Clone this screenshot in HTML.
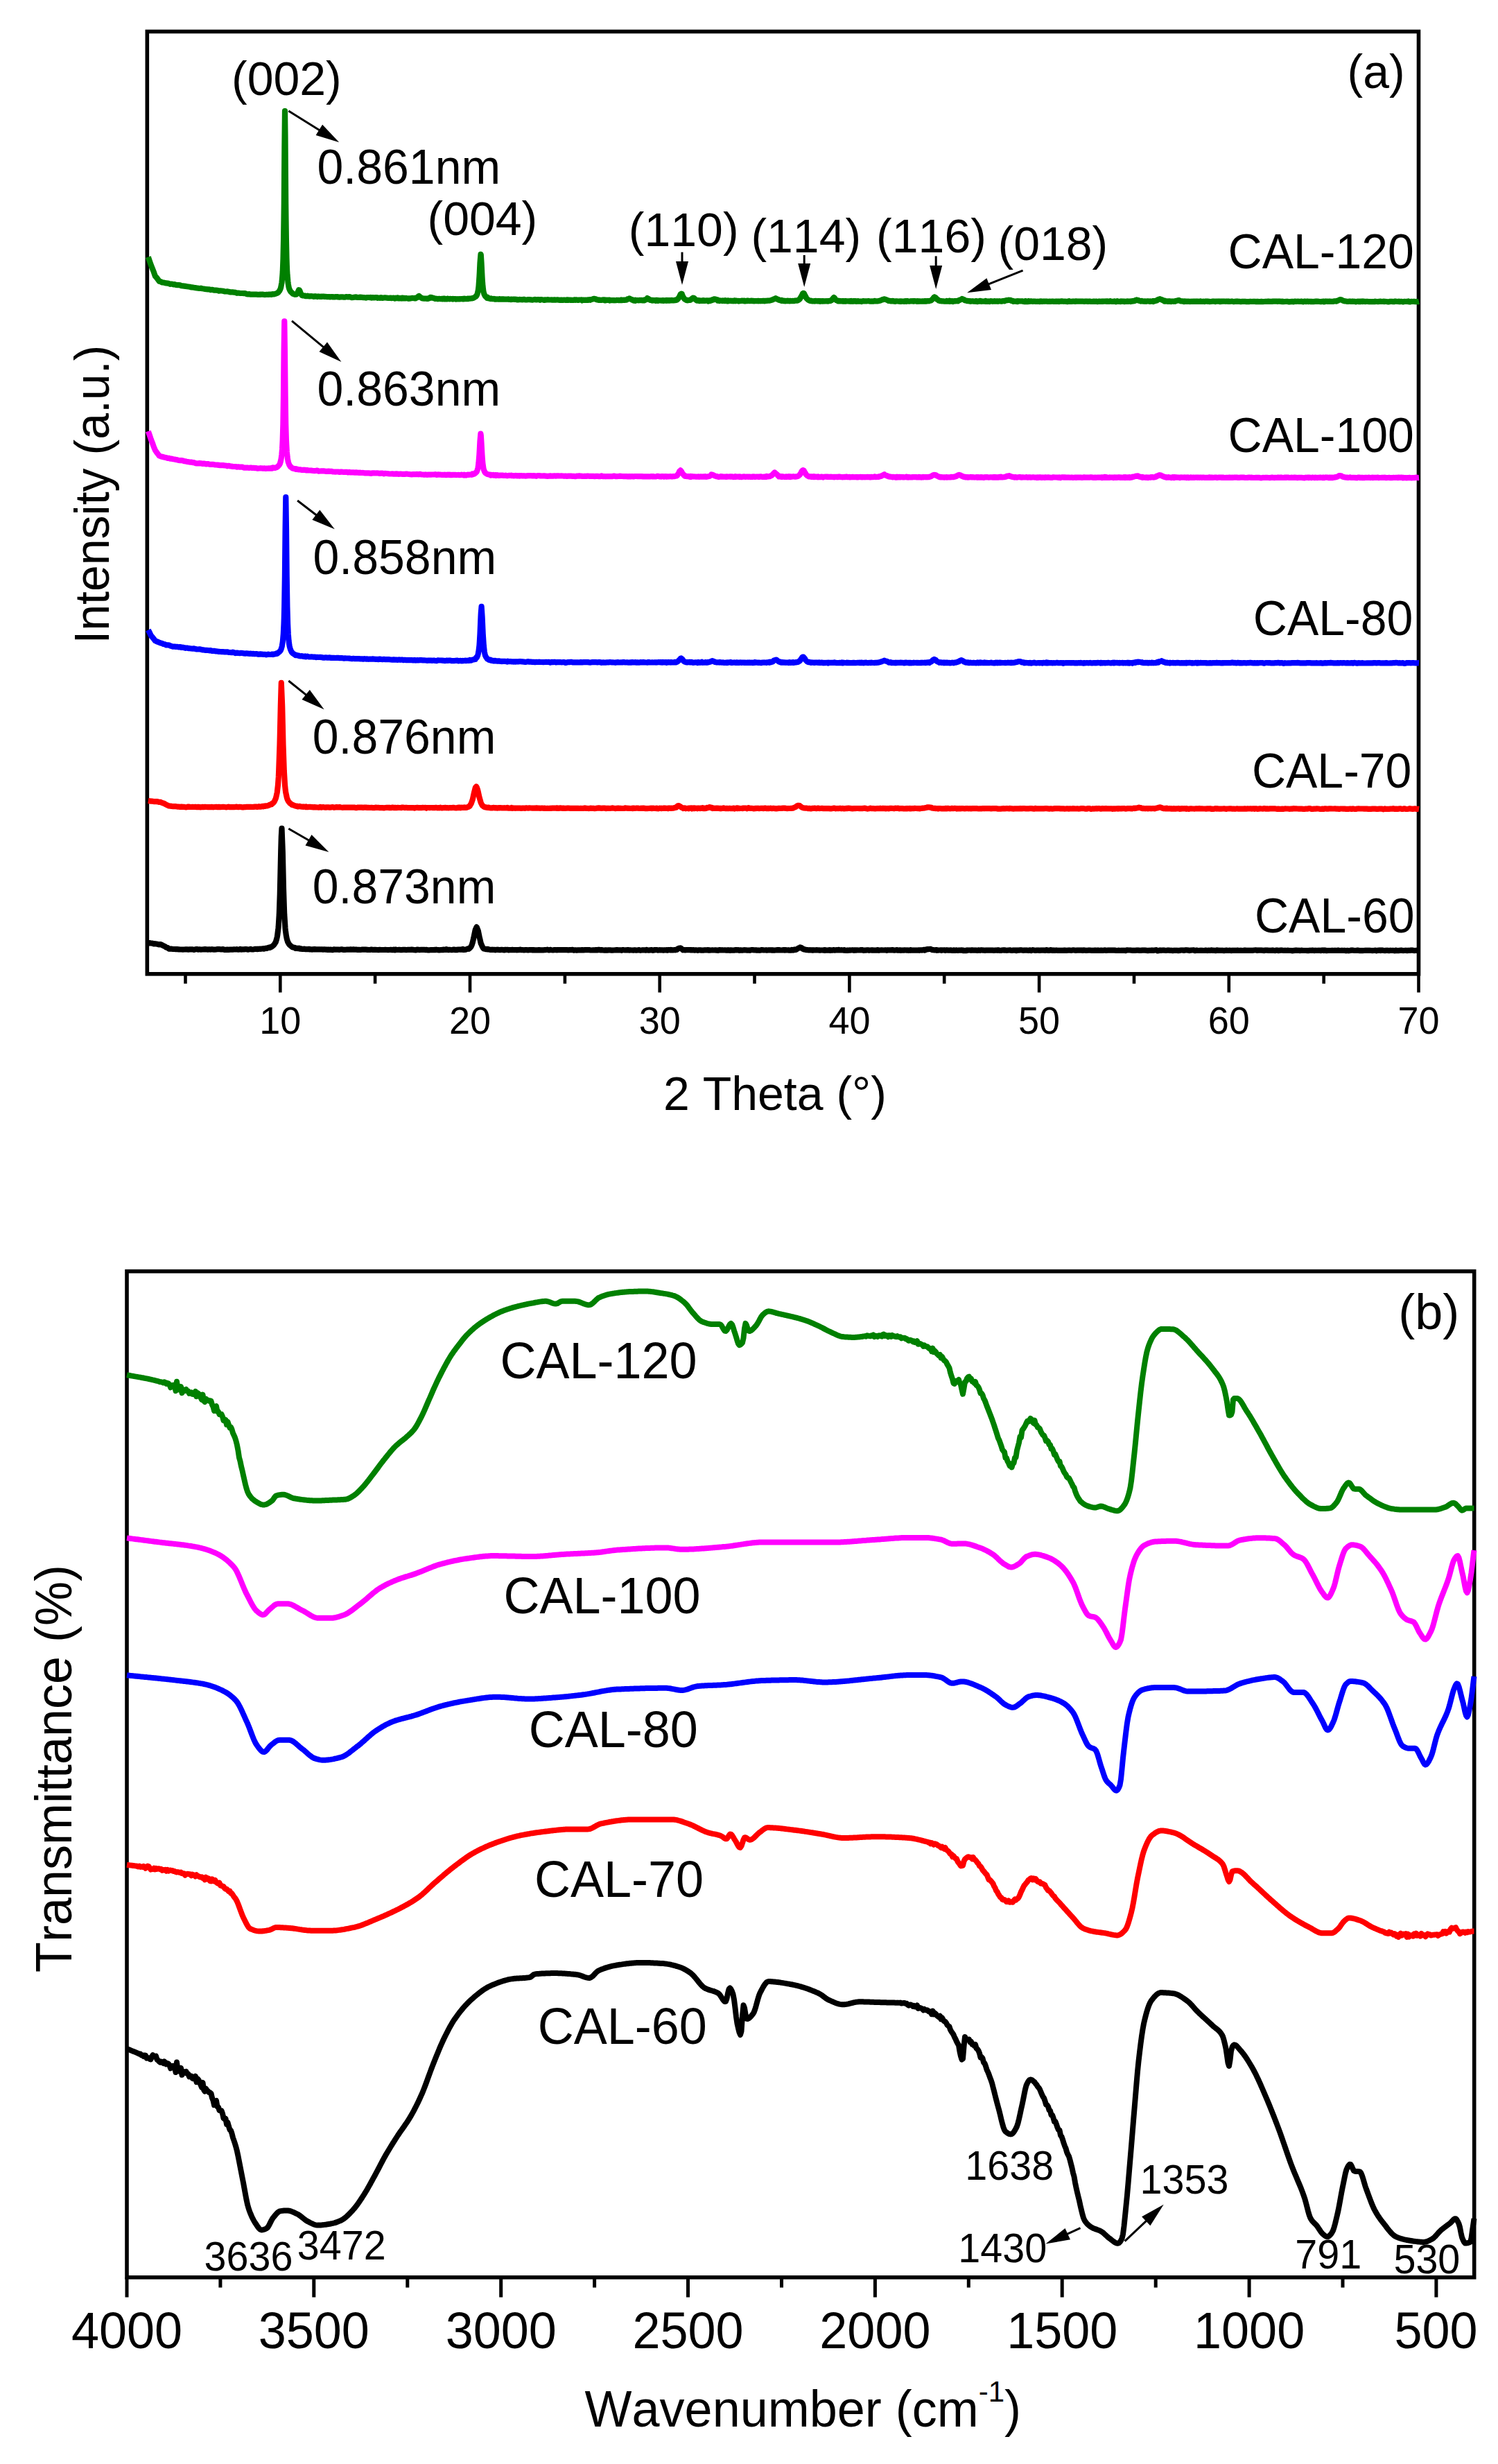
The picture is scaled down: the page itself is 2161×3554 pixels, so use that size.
<!DOCTYPE html>
<html lang="en">
<head>
<meta charset="utf-8">
<title>XRD patterns and FTIR spectra of CAL samples</title>
<style>
html,body{margin:0;padding:0;background:#fff;}
body{width:2161px;height:3554px;overflow:hidden;}
svg{display:block;}
svg text{font-family:"Liberation Sans", sans-serif;fill:#000;font-kerning:none;}
</style>
</head>
<body>
<svg width="2161" height="3554" viewBox="0 0 2161 3554">
<rect width="2161" height="3554" fill="#fff"/>
<g id="panel-a">
<rect x="212.3" y="45.5" width="1834.2" height="1359.3" fill="none" stroke="#000" stroke-width="5.6"/>
<path d="M213.8 1360.4 L215.8 1360.1 L217.8 1360.5 L219.8 1360.7 L221.8 1361.4 L223.8 1361.2 L225.8 1361.5 L227.8 1361.9 L229.8 1362.4 L231.8 1362 L233.8 1363.1 L235.8 1364.2 L237.8 1365 L239.8 1366.6 L241.8 1367 L243.8 1368.6 L245.8 1368.6 L247.8 1368.7 L249.8 1369 L251.8 1369 L253.8 1369.2 L255.8 1369.2 L257.8 1369.3 L259.8 1369.5 L261.8 1369.5 L263.8 1369.6 L265.8 1369.5 L267.8 1369.4 L269.8 1369.4 L271.8 1369.7 L273.8 1369.3 L275.8 1369.3 L277.8 1369.3 L279.8 1370 L281.8 1369.3 L283.8 1369 L285.8 1369.6 L287.8 1369.3 L289.8 1369.7 L291.8 1369.5 L293.8 1369.3 L295.8 1369.1 L297.8 1369.3 L299.8 1369.6 L301.8 1369.3 L303.8 1369.6 L305.8 1369.2 L307.8 1369.6 L309.8 1369.7 L311.8 1369.5 L313.8 1369.1 L315.8 1369 L317.8 1369.3 L319.8 1369.4 L321.8 1369.2 L323.8 1369.9 L325.8 1369.8 L327.8 1369.6 L329.8 1369.9 L331.8 1369.7 L333.8 1369.6 L335.8 1369.5 L336.5 1369.6 L337.8 1369.3 L339.8 1369.5 L341.5 1369.2 L341.8 1369.3 L343.8 1369.7 L345.8 1369.5 L346.5 1368.9 L347.8 1369.6 L349.8 1369.4 L351.5 1369.3 L351.8 1369.4 L353.8 1369.2 L355.8 1369 L356.5 1369.4 L357.8 1369.6 L359.8 1369.3 L361.5 1368.9 L361.8 1369.2 L363.8 1369.5 L365.8 1369.3 L366.5 1369.2 L367.8 1368.8 L369.8 1368.8 L371.5 1369.1 L371.8 1368.9 L372.8 1368.9 L373.8 1368.7 L375.2 1368.5 L375.8 1368.8 L376.5 1368.7 L377.8 1368.5 L379 1368.3 L379.8 1368.5 L380.2 1368.7 L381.5 1368.1 L381.8 1368 L382.8 1368.1 L383.8 1367.5 L385.2 1367.8 L385.8 1367.4 L386.5 1367.3 L387.8 1366.5 L389 1366.9 L389.8 1366.6 L390.2 1366.1 L391.5 1365.8 L391.8 1365.5 L392.8 1364.9 L393.8 1364.2 L395.2 1362.8 L395.8 1361.9 L396.5 1360.9 L397.8 1358.8 L399 1354.8 L399.8 1351.3 L400.2 1349.1 L401.5 1338.4 L401.8 1334.6 L402.8 1318.6 L403.8 1289.6 L405.2 1228.4 L405.8 1206.8 L406.5 1194.8 L407.8 1228.7 L409 1282.2 L409.8 1307 L410.2 1318.3 L411.5 1338.6 L411.8 1341.5 L412.8 1349 L413.8 1354.2 L415.2 1358.7 L415.8 1359.5 L416.5 1361.2 L417.8 1362.8 L419 1363.8 L419.8 1364.5 L420.2 1365.1 L421.5 1365.7 L421.8 1366.2 L422.8 1366.3 L423.8 1366.7 L425.2 1366.9 L425.8 1367 L426.5 1367.9 L427.8 1367.9 L429 1367.7 L429.8 1368.1 L430.2 1368.1 L431.5 1368.3 L431.8 1367.8 L432.8 1368.6 L433.8 1368.2 L435.2 1368.9 L435.8 1368.8 L436.5 1368.8 L437.8 1369 L439 1368.7 L439.8 1369 L440.2 1369.2 L441.5 1369 L441.8 1369.2 L443.8 1369.2 L445.8 1368.9 L446.5 1369.5 L447.8 1369.2 L449.8 1369.6 L451.5 1369.3 L451.8 1369.5 L453.8 1369.1 L455.8 1369.4 L456.5 1369.5 L457.8 1369.4 L459.8 1369.4 L461.5 1369.4 L461.8 1369.5 L463.8 1369.3 L465.8 1369.6 L466.5 1369.7 L467.8 1369.3 L469.8 1369.7 L471.5 1369.7 L471.8 1369.9 L473.8 1369.6 L475.8 1370 L476.5 1369.5 L477.8 1369.7 L479.8 1370.2 L481.8 1369.4 L483.8 1369.7 L485.8 1369.7 L487.8 1369.6 L489.8 1369.8 L491.8 1369.4 L493.8 1369.4 L495.8 1369.9 L497.8 1369.8 L499.8 1369.7 L501.8 1369.5 L503.8 1369.7 L505.8 1369.4 L507.8 1369.7 L509.8 1369.4 L511.8 1369.7 L513.8 1369.5 L515.8 1369.9 L517.8 1369.8 L519.8 1370 L521.8 1369.7 L523.8 1369.6 L525.8 1369.7 L527.8 1369.7 L529.8 1369.8 L531.8 1370 L533.8 1370 L535.8 1369.6 L537.8 1370 L539.8 1369.9 L541.8 1369.9 L543.8 1370 L545.8 1370.1 L547.8 1369.9 L549.8 1370 L551.8 1370 L553.8 1370 L555.8 1369.9 L557.8 1370 L559.8 1370.1 L561.6 1370 L563.8 1369.8 L565.8 1370.2 L567.8 1369.7 L569.8 1370.3 L570.6 1369.6 L571.8 1369.9 L573.8 1370 L575.8 1369.8 L577.8 1370.1 L579.6 1370.1 L581.8 1369.8 L583.8 1369.8 L585.8 1370.1 L587.8 1369.9 L588.6 1369.8 L589.8 1369.9 L591.8 1369.8 L593.8 1369.7 L595.8 1369.9 L597.6 1370.2 L599.8 1370.4 L601.8 1369.7 L603.8 1369.8 L605.8 1370.2 L606.6 1369.8 L607.8 1369.8 L609.8 1369.9 L611.8 1369.8 L613.8 1370.1 L615.6 1369.9 L617.8 1370.4 L619.8 1370.3 L621.8 1370 L623.8 1370.1 L624.6 1370.2 L625.8 1370.2 L626.9 1369.9 L627.8 1370.2 L629.1 1369.6 L629.8 1370 L631.4 1370.1 L631.8 1370.1 L633.6 1370.4 L635.8 1370.2 L637.8 1370.1 L638.1 1369.8 L639.8 1370.1 L640.4 1369.7 L641.8 1370 L642.6 1369.9 L643.8 1369.2 L644.9 1369.8 L645.8 1369.6 L647.1 1370.2 L647.8 1369.9 L649.4 1369.9 L649.8 1370 L651.6 1370.2 L653.8 1369.7 L655.8 1369.7 L656.1 1370.1 L657.8 1370 L658.4 1369.9 L659.8 1370.1 L660.6 1369.7 L661.8 1369.7 L662.9 1369.6 L663.8 1369.5 L665.1 1369.8 L665.8 1369.7 L667.4 1369 L667.8 1369.8 L669.6 1369.9 L671.8 1369.7 L673.8 1369 L674.1 1368.8 L675.8 1368.3 L676.4 1368.7 L677.8 1367.5 L678.6 1366.5 L679.8 1365.1 L680.9 1362.3 L681.8 1359.3 L683.1 1353.7 L683.8 1350.2 L685.4 1342.5 L685.8 1340.9 L687.6 1337.1 L689.8 1342.6 L691.8 1352.6 L692.1 1353.5 L693.8 1361 L694.4 1361.9 L695.8 1365.4 L696.6 1366.9 L697.8 1368.3 L698.9 1368.4 L699.8 1368.8 L701.1 1369.2 L701.8 1368.9 L703.4 1369.4 L703.8 1369 L705.6 1369.5 L707.8 1370 L709.8 1369.7 L710.1 1369.8 L711.8 1369.9 L712.4 1370 L713.8 1369.9 L714.6 1370.3 L715.8 1369.8 L716.9 1369.9 L717.8 1369.7 L719.1 1369.9 L719.8 1370.1 L721.4 1370 L721.8 1370.1 L723.6 1369.8 L725.8 1370.1 L727.8 1370.4 L728.1 1369.8 L729.8 1369.8 L730.4 1370 L731.8 1369.9 L732.6 1369.9 L733.8 1370.3 L734.9 1370.2 L735.8 1370.1 L737.1 1370.1 L737.8 1370.2 L739.4 1369.8 L739.8 1370.1 L741.6 1370.1 L743.8 1370.1 L745.8 1370.2 L746.1 1370.3 L747.8 1370.1 L748.4 1370.1 L749.8 1369.9 L750.6 1369.7 L751.8 1370.1 L753.8 1370.2 L755.8 1370.3 L757.8 1370.1 L759.6 1370.2 L761.8 1370.4 L763.8 1370 L765.8 1370.1 L767.8 1370.1 L768.6 1370.5 L769.8 1370.2 L771.8 1370.3 L773.8 1370.4 L775.8 1370.4 L777.6 1370.1 L779.8 1370.3 L781.8 1370.3 L783.8 1370.3 L785.8 1370.2 L786.6 1370.2 L787.8 1370 L789.8 1369.7 L791.8 1370.5 L793.8 1369.9 L795.6 1370.2 L797.8 1370.5 L799.8 1370.1 L801.8 1370.2 L803.8 1370.3 L804.6 1370.1 L805.8 1370.1 L807.8 1370.2 L809.8 1370.2 L811.8 1370.2 L813.6 1370.1 L815.8 1370.2 L817.8 1370.1 L819.8 1370.3 L821.8 1370.1 L823.8 1370.2 L825.8 1369.9 L827.8 1370.6 L829.8 1370.3 L831.8 1370.6 L833.8 1370.4 L835.8 1370.4 L837.8 1370.3 L839.8 1370.2 L841.8 1370.3 L843.8 1370.1 L845.8 1370.2 L847.8 1370.1 L849.8 1370.1 L851.8 1370.5 L853.8 1370.5 L855.8 1370.3 L857.8 1370.3 L859.8 1370.1 L861.8 1370.4 L863.8 1369.8 L865.8 1370.3 L867.8 1370.1 L869.8 1370.5 L871.8 1370.6 L873.8 1370.4 L875.8 1370.6 L877.8 1370.4 L879.8 1370.3 L881.8 1370.6 L883.8 1370.6 L885.8 1370.5 L887.8 1370.3 L889.8 1370.1 L891.8 1370.4 L893.8 1370.3 L895.8 1370.3 L896.8 1370.8 L897.8 1370.2 L899.8 1370.2 L901.8 1370.5 L902.8 1370.4 L903.8 1370.4 L905.8 1370.1 L907.8 1370.6 L908.8 1370.3 L909.8 1370.4 L911.8 1370.5 L913.8 1370.7 L914.8 1370.3 L915.8 1370.3 L917.8 1370.7 L919.8 1370.5 L920.8 1370.5 L921.8 1370 L923.8 1370.8 L925.8 1370.5 L926.8 1370.3 L927.8 1370.4 L929.8 1370.3 L931.8 1370.7 L932.8 1370 L933.8 1370.5 L935.8 1370.6 L937.8 1370.4 L938.8 1370.3 L939.8 1370.1 L940.3 1370.1 L941.8 1370.9 L943.3 1370.5 L943.8 1370.2 L944.8 1370.3 L945.8 1370.1 L946.3 1370.2 L947.8 1370.1 L949.3 1370.6 L949.8 1370.5 L950.8 1370.4 L951.8 1370.2 L952.3 1370.3 L953.8 1370.3 L955.3 1370.4 L955.8 1370.3 L956.8 1370.7 L957.8 1370.4 L958.3 1370.3 L959.8 1370.4 L961.3 1370.2 L961.8 1370.5 L962.8 1370.7 L963.8 1370.1 L964.3 1370.2 L965.8 1370.2 L967.3 1370.4 L967.8 1370 L968.8 1370.4 L969.8 1370.2 L970.3 1370.4 L971.8 1370.3 L973.3 1370.1 L973.8 1370.3 L974.8 1370 L975.8 1369.7 L976.3 1369.9 L977.8 1368.5 L979.3 1367.9 L979.8 1367.6 L980.8 1367.7 L981.8 1367.4 L982.3 1367.7 L983.8 1369 L985.3 1370.3 L985.8 1370.1 L986.8 1370.2 L987.8 1370.3 L988.3 1370.5 L989.8 1370.1 L991.3 1370 L991.8 1370 L992.8 1370.1 L993.8 1370.2 L994.3 1370 L995.8 1370.3 L997.3 1370 L997.8 1370.5 L998.8 1370.5 L999.8 1370.2 L1000.3 1370.2 L1001.8 1370.6 L1003.3 1370.4 L1003.8 1370.5 L1004.8 1370.4 L1005.8 1370.6 L1006.3 1370.8 L1007.8 1370.3 L1009.3 1370.5 L1009.8 1370.3 L1010.8 1370.4 L1011.8 1370.7 L1012.3 1370.7 L1013.8 1370.6 L1015.3 1370.6 L1015.8 1370.3 L1016.8 1370.4 L1017.8 1370.3 L1018.3 1370.5 L1019.8 1370.3 L1021.3 1370.2 L1021.8 1370.6 L1022.8 1370.3 L1023.8 1370.6 L1025.8 1370.5 L1027.8 1370.4 L1028.8 1370.5 L1029.8 1370.5 L1031.8 1370.4 L1033.8 1370.7 L1034.8 1370.5 L1035.8 1370.9 L1037.8 1370.2 L1039.8 1370.3 L1040.8 1370.3 L1041.8 1370.5 L1042.3 1370.4 L1043.8 1370.5 L1045.8 1370.4 L1046.8 1370.5 L1047.8 1370.7 L1049.8 1370.4 L1050.3 1370.6 L1051.8 1370.4 L1052.8 1370.9 L1053.8 1370.3 L1055.8 1370.6 L1057.8 1370.5 L1058.3 1370.6 L1058.8 1370.7 L1059.8 1370.4 L1061.8 1370.1 L1063.8 1370.4 L1064.8 1370.1 L1065.8 1370.5 L1066.3 1370.8 L1067.8 1370.3 L1069.8 1370.6 L1071.8 1370.6 L1073.8 1370.2 L1074.3 1370.4 L1075.8 1370.3 L1077.8 1370.7 L1079.8 1370.5 L1081.8 1370.8 L1082.3 1370.5 L1083.8 1370.2 L1085.8 1370.2 L1087.8 1370.3 L1089.8 1370.5 L1090.3 1370.3 L1091.8 1370.7 L1093.8 1370.5 L1095.8 1370.8 L1097.8 1370.4 L1098.3 1370.1 L1099.8 1370.2 L1100.3 1370.3 L1101.8 1370.4 L1102.3 1370.5 L1103.8 1370.5 L1104.3 1370.4 L1105.8 1370.4 L1106.3 1370.6 L1107.8 1370.5 L1108.3 1370.4 L1109.8 1370.3 L1110.3 1370.5 L1111.8 1370.3 L1112.3 1370.4 L1113.8 1370.6 L1114.3 1370.4 L1115.8 1370.6 L1116.3 1370.7 L1117.8 1370.6 L1118.3 1370.5 L1119.8 1370.4 L1120.3 1370.4 L1121.8 1370.5 L1122.3 1370 L1123.8 1370.4 L1124.3 1370.1 L1125.8 1370.5 L1126.3 1370.5 L1127.8 1370.5 L1128.3 1370.5 L1129.8 1370.2 L1130.3 1370.3 L1131.8 1370.1 L1132.3 1370.6 L1133.8 1370.2 L1134.3 1370.5 L1135.8 1370.5 L1136.3 1370.4 L1137.8 1370.4 L1138.3 1370.6 L1139.8 1370.5 L1140.3 1370.5 L1141.8 1370.6 L1142.3 1369.9 L1143.8 1370.6 L1144.3 1370.1 L1145.8 1369.6 L1146.3 1370 L1147.8 1369.5 L1148.3 1369.8 L1149.8 1368.8 L1150.3 1368.6 L1151.8 1367.7 L1152.3 1367.3 L1153.8 1366.8 L1154.3 1366.3 L1155.8 1366.8 L1156.3 1367 L1157.8 1368.5 L1158.3 1368.8 L1159.8 1369.4 L1160.3 1369.2 L1161.8 1370 L1162.3 1369.9 L1163.8 1370.1 L1164.3 1370 L1165.8 1370.3 L1166.3 1370.3 L1167.8 1370.3 L1168.3 1370.2 L1169.8 1370.5 L1170.3 1370.4 L1171.8 1370.4 L1172.3 1370.7 L1173.8 1370.3 L1174.3 1370.4 L1175.8 1370.5 L1176.3 1370.3 L1177.8 1370.4 L1178.3 1370.1 L1179.8 1370.5 L1180.3 1370.5 L1181.8 1370.4 L1182.3 1370.7 L1183.8 1370.6 L1184.3 1370.5 L1185.8 1370.5 L1186.3 1370.5 L1187.8 1370.6 L1188.3 1370.4 L1189.8 1370.8 L1190.3 1370.2 L1191.8 1370.5 L1192.3 1370.6 L1193.8 1370.5 L1194.3 1370.6 L1195.8 1370.4 L1196.3 1370.1 L1197.8 1370.9 L1198.3 1370.4 L1199.8 1370.6 L1200.3 1370.7 L1201.8 1370.4 L1202.3 1370 L1203.8 1370.4 L1204.3 1370.6 L1205.8 1370.5 L1206.3 1370.2 L1207.8 1370.5 L1208.3 1370.5 L1209.8 1370 L1210.3 1370.5 L1211.8 1370.5 L1213.8 1370.2 L1214 1370.2 L1215.8 1370.5 L1217.8 1370.8 L1218.3 1370.2 L1219.8 1370.8 L1221.8 1370.9 L1223 1370.5 L1223.8 1370.8 L1225.8 1370.4 L1226.3 1370.6 L1227.8 1370.5 L1229.8 1370.3 L1231.8 1370.8 L1232 1370.6 L1233.8 1370.3 L1234.3 1370.7 L1235.8 1370.4 L1237.8 1370.5 L1239.8 1370.5 L1241 1370.5 L1241.8 1370.2 L1242.3 1370.3 L1243.8 1370.2 L1245.8 1370.9 L1247.8 1370.5 L1249.8 1370.6 L1250 1370.5 L1250.3 1370.4 L1251.8 1370.3 L1253.8 1370.8 L1255.8 1370.5 L1257.8 1370.3 L1258.3 1370.7 L1259 1370.4 L1259.8 1370.7 L1261.8 1370.5 L1263.8 1370.7 L1265.8 1370.1 L1266.3 1370.5 L1267.8 1370.8 L1268 1370.6 L1269.8 1370.5 L1271.8 1370.4 L1273.8 1370.5 L1275.8 1370.5 L1277 1370.4 L1277.8 1370.4 L1279.2 1370.8 L1279.8 1370.3 L1281.5 1370.3 L1281.8 1370.5 L1283.8 1370.4 L1285.8 1370.5 L1286 1370.4 L1287.8 1370.1 L1288.2 1370.5 L1289.8 1370.6 L1290.5 1370.6 L1291.8 1370.5 L1292.8 1370.4 L1293.8 1370.1 L1295 1370.6 L1295.8 1370.6 L1297.2 1370.5 L1297.8 1370.3 L1299.5 1370.8 L1299.8 1370.6 L1301.8 1370.7 L1303.8 1370.7 L1304 1370.7 L1305.8 1370.3 L1306.2 1370.5 L1307.8 1370.6 L1308.5 1370.4 L1309.8 1370.7 L1310.8 1370.8 L1311.8 1370.6 L1313 1370.8 L1313.8 1370.2 L1315.2 1370.6 L1315.8 1370.5 L1317.5 1370.7 L1317.8 1370.6 L1319.8 1370.5 L1321.8 1370.6 L1322 1370.7 L1323.8 1370.6 L1324.2 1370.5 L1325.8 1370.4 L1326.5 1370.9 L1327.8 1370.3 L1328.8 1370.4 L1329.8 1370.6 L1331 1370.2 L1331.8 1370.1 L1333.2 1369.9 L1333.8 1370.6 L1335.5 1369.7 L1335.8 1369.8 L1337.8 1369.1 L1339.8 1369.1 L1340 1369 L1341.8 1368.9 L1342.2 1368.8 L1343.8 1369.5 L1344.5 1369.9 L1345.8 1370.2 L1346.8 1370 L1347.8 1370.4 L1349 1370.4 L1349.8 1370.2 L1351.2 1370.2 L1351.8 1370.8 L1353.5 1370.6 L1353.8 1370.5 L1355.8 1370.5 L1357.8 1370.3 L1358 1370.9 L1359.8 1370.3 L1360.2 1370.5 L1361.8 1370.4 L1362.5 1370.3 L1363.8 1370.8 L1364.8 1370.5 L1365.8 1370.3 L1367 1370.5 L1367.8 1370.7 L1369.2 1370.7 L1369.8 1370.5 L1371.5 1370.7 L1371.8 1370.4 L1373.8 1370.9 L1375.8 1370.7 L1376 1370.4 L1377.8 1371 L1378.2 1370.9 L1379.8 1370.4 L1380.5 1370.7 L1381.8 1370.9 L1382.8 1370.5 L1383.8 1370.5 L1385 1370.7 L1385.8 1370.7 L1387.2 1370.4 L1387.8 1370.5 L1389.5 1371.1 L1389.8 1370.7 L1391.8 1371.2 L1393.8 1371.1 L1394 1370.5 L1395.8 1370.7 L1396.2 1370.6 L1397.8 1370.5 L1398.5 1370.5 L1399.8 1370.6 L1400.8 1370.8 L1401.8 1370.4 L1403 1370.7 L1403.8 1370.5 L1405.8 1370.7 L1407.8 1370.7 L1409.8 1370.9 L1411.8 1370.6 L1412 1370.4 L1413.8 1370.9 L1415.8 1370.3 L1417.8 1370.6 L1419.8 1370.7 L1421 1370.9 L1421.8 1370.6 L1423.8 1370.7 L1425.8 1370.5 L1427.8 1370.6 L1429.8 1370.7 L1430 1370.7 L1431.8 1370.6 L1433.8 1370.8 L1435.8 1370.7 L1437.8 1370.6 L1439 1370.8 L1439.8 1370.3 L1441.8 1370.8 L1443.8 1371 L1445.8 1370.5 L1447.8 1370.3 L1448 1370.6 L1449.8 1370.4 L1451.8 1370.8 L1453.8 1370.7 L1455.8 1370.5 L1457 1370.4 L1457.8 1370.7 L1459.8 1371 L1461.8 1370.6 L1463.8 1370.6 L1465.8 1371.1 L1466 1370.5 L1467.8 1370.6 L1469.8 1370.6 L1471.8 1370.4 L1473.8 1370.4 L1475.8 1370.8 L1477.8 1370.6 L1479.8 1370.5 L1481.8 1370.7 L1483.8 1371 L1485.8 1370.4 L1487.8 1371.1 L1489.8 1370.2 L1491.8 1370.6 L1493.8 1370.8 L1495.8 1370.6 L1497.8 1370.6 L1499.8 1370.9 L1501.8 1370.6 L1503.8 1370.7 L1505.8 1370.6 L1507.8 1370.9 L1509.8 1370.2 L1511.8 1370.8 L1513.8 1370.8 L1515.8 1370.2 L1517.8 1370.8 L1519.8 1370.6 L1521.8 1370.9 L1523.8 1370.5 L1525.8 1370.9 L1527.8 1370.8 L1529.8 1370.9 L1531.8 1370.9 L1533.8 1370.9 L1535.8 1370.6 L1537.8 1370.8 L1539.8 1370.8 L1541.8 1370.5 L1543.8 1370.7 L1545.8 1370.8 L1547.8 1370.4 L1549.8 1370.5 L1551.8 1370.9 L1553.8 1370.7 L1555.8 1370.7 L1557.8 1370.6 L1559.8 1370.6 L1561.8 1371 L1563.8 1370.4 L1565.8 1370.8 L1567.8 1370.8 L1569.8 1370.7 L1571.8 1370.5 L1573.8 1370.8 L1575.8 1370.9 L1577.8 1370.8 L1579.8 1370.6 L1581.8 1370.8 L1583.8 1370.6 L1585.8 1371 L1587.8 1370.7 L1589.8 1370.9 L1591.8 1370.8 L1593.8 1370.4 L1595.8 1371 L1597.8 1370.7 L1599.8 1370.6 L1601.8 1370.5 L1603.8 1370.6 L1605.8 1370.5 L1607.8 1370.7 L1609.8 1370.9 L1611.8 1371 L1613.8 1370.7 L1615.8 1371 L1617.8 1370.8 L1619.8 1370.8 L1621.8 1370.8 L1623.8 1371.1 L1625.8 1370.4 L1627.8 1370.5 L1629.8 1370.5 L1631.8 1370.7 L1633.8 1370.8 L1635.8 1370.8 L1637.8 1370.8 L1639.8 1370.7 L1641.8 1370.6 L1643.8 1370.8 L1645.8 1370.9 L1647.8 1370.7 L1649.8 1370.5 L1651.8 1370.7 L1653.8 1370.9 L1655.8 1371.1 L1657.8 1370.9 L1659.8 1370.9 L1661.8 1370.7 L1663.8 1370.9 L1665.8 1370.5 L1667.8 1370.2 L1669.8 1371.3 L1671.8 1371.1 L1673.8 1370.6 L1675.8 1370.8 L1677.8 1370.5 L1679.8 1370.7 L1681.8 1371 L1683.8 1370.7 L1685.8 1370.7 L1687.8 1370.9 L1689.8 1370.8 L1691.8 1371.2 L1693.8 1370.8 L1695.8 1370.9 L1697.8 1370.9 L1699.8 1371.1 L1701.8 1370.9 L1703.8 1370.5 L1705.8 1370.5 L1707.8 1370.9 L1709.8 1370.4 L1711.8 1370.4 L1713.8 1370.6 L1715.8 1371.1 L1717.8 1370.7 L1719.8 1370.5 L1721.8 1370.4 L1723.8 1371.2 L1725.8 1370.7 L1727.8 1370.9 L1729.8 1371 L1731.8 1370.8 L1733.8 1370.9 L1735.8 1371 L1737.8 1370.9 L1739.8 1370.7 L1741.8 1371.1 L1743.8 1370.7 L1745.8 1371 L1747.8 1370.4 L1749.8 1370.9 L1751.8 1370.9 L1753.8 1371.1 L1755.8 1370.4 L1757.8 1370.9 L1759.8 1370.9 L1761.8 1370.8 L1763.8 1370.9 L1765.8 1371.2 L1767.8 1370.8 L1769.8 1370.7 L1771.8 1371 L1773.8 1370.7 L1775.8 1371.1 L1777.8 1370.9 L1779.8 1370.9 L1781.8 1370.9 L1783.8 1370.8 L1785.8 1370.7 L1787.8 1371 L1789.8 1370.8 L1791.8 1371 L1793.8 1370.9 L1795.8 1370.7 L1797.8 1370.9 L1799.8 1370.9 L1801.8 1370.9 L1803.8 1370.9 L1805.8 1370.9 L1807.8 1370.8 L1809.8 1370.5 L1811.8 1370.4 L1813.8 1371 L1815.8 1370.6 L1817.8 1370.6 L1819.8 1370.7 L1821.8 1370.8 L1823.8 1371.1 L1825.8 1370.6 L1827.8 1370.6 L1829.8 1370.9 L1831.8 1370.8 L1833.8 1370.8 L1835.8 1370.6 L1837.8 1371 L1839.8 1371.1 L1841.8 1370.6 L1843.8 1371.1 L1845.8 1370.9 L1847.8 1370.7 L1849.8 1370.7 L1851.8 1371 L1853.8 1370.8 L1855.8 1371 L1857.8 1370.7 L1859.8 1371 L1861.8 1371 L1863.8 1371.3 L1865.8 1371.1 L1867.8 1370.9 L1869.8 1370.7 L1871.8 1370.8 L1873.8 1370.9 L1875.8 1371.1 L1877.8 1370.7 L1879.8 1371 L1881.8 1371 L1883.8 1371 L1885.8 1371.1 L1887.8 1371.1 L1889.8 1370.8 L1891.8 1370.8 L1893.8 1370.7 L1895.8 1371.1 L1897.8 1370.8 L1899.8 1371 L1901.8 1370.8 L1903.8 1370.9 L1905.8 1371.1 L1907.8 1370.6 L1909.8 1371.1 L1911.8 1370.6 L1913.8 1371.2 L1915.8 1371 L1917.8 1371 L1919.8 1371 L1921.8 1370.9 L1923.8 1371 L1925.8 1370.8 L1927.8 1371 L1929.8 1370.7 L1931.8 1370.9 L1933.8 1371 L1935.8 1370.9 L1937.8 1371 L1939.8 1370.9 L1941.8 1371.3 L1943.8 1370.9 L1945.8 1371.3 L1947.8 1371 L1949.8 1370.5 L1951.8 1370.7 L1953.8 1371 L1955.8 1371 L1957.8 1370.7 L1959.8 1370.9 L1961.8 1371.2 L1963.8 1371.1 L1965.8 1371.1 L1967.8 1371 L1969.8 1370.8 L1971.8 1370.9 L1973.8 1370.9 L1975.8 1370.8 L1977.8 1371 L1979.8 1371.1 L1981.8 1371 L1983.8 1370.7 L1985.8 1371.3 L1987.8 1370.8 L1989.8 1370.6 L1991.8 1371.1 L1993.8 1370.6 L1995.8 1371 L1997.8 1371.1 L1999.8 1370.9 L2001.8 1370.9 L2003.8 1371.2 L2005.8 1370.8 L2007.8 1371 L2009.8 1370.9 L2011.8 1371.3 L2013.8 1370.7 L2015.8 1371.2 L2017.8 1371.1 L2019.8 1370.8 L2021.8 1370.7 L2023.8 1371.1 L2025.8 1371 L2027.8 1370.8 L2029.8 1371.1 L2031.8 1370.9 L2033.8 1371 L2035.8 1370.5 L2037.8 1370.7 L2039.8 1371.1 L2041.8 1371 L2043.8 1370.8 L2045.8 1370.8 L2047 1371" fill="none" stroke="#000000" stroke-width="8.2" stroke-linejoin="round" stroke-linecap="butt"/>
<path d="M213.8 1155 L215.8 1155.3 L217.8 1155.7 L219.8 1155.7 L221.8 1156.1 L223.8 1156.1 L225.8 1156.1 L227.8 1156.4 L229.8 1157 L231.8 1156.9 L233.8 1158.1 L235.8 1158.5 L237.8 1159.5 L239.8 1160.6 L241.8 1161.6 L243.8 1162.5 L245.8 1162.6 L247.8 1162.9 L249.8 1163.1 L251.8 1163.2 L253.8 1163.2 L255.8 1163.6 L257.8 1163.5 L259.8 1163.9 L261.8 1163.7 L263.8 1163.9 L265.8 1163.9 L267.8 1164.3 L269.8 1164.1 L271.8 1163.6 L273.8 1163.9 L275.8 1164 L277.8 1163.9 L279.8 1164 L281.8 1163.8 L283.8 1164.2 L285.8 1163.9 L287.8 1164.1 L289.8 1164.3 L291.8 1163.9 L293.8 1164.1 L295.8 1163.9 L297.8 1164 L299.8 1164.1 L301.8 1164 L303.8 1164.2 L305.8 1163.9 L307.8 1164.3 L309.8 1164 L311.8 1163.9 L313.8 1164.1 L315.8 1163.9 L317.8 1164.2 L319.8 1164 L321.8 1163.8 L323.8 1164 L325.8 1164.3 L327.8 1164.1 L329.8 1163.7 L331.8 1164.2 L333.8 1164.1 L335.8 1164.2 L337.8 1164.1 L339.8 1164 L341 1163.6 L341.8 1163.9 L343.8 1164.1 L345.8 1163.8 L347.8 1164 L349.8 1164.4 L351 1164.3 L351.8 1164 L353.8 1164.1 L355.8 1163.9 L357.8 1163.8 L359.8 1163.8 L361 1163.9 L361.8 1163.8 L363.8 1164 L365.8 1163.8 L367.8 1163.6 L369.8 1163.6 L371 1163.9 L371.8 1163.9 L372.2 1163.7 L373.5 1163.6 L373.8 1163.2 L374.8 1163.6 L375.8 1163.6 L377.2 1163.4 L377.8 1163.1 L378.5 1162.9 L379.8 1163.3 L381 1162.5 L381.8 1162.7 L382.2 1162.8 L383.5 1162.7 L383.8 1162.4 L384.8 1162.3 L385.8 1162.3 L387.2 1161.6 L387.8 1161.7 L388.5 1161.1 L389.8 1160.8 L391 1160 L391.8 1160.1 L392.2 1159 L393.5 1158.7 L393.8 1158.3 L394.8 1157.4 L395.8 1155.9 L397.2 1152.9 L397.8 1151.6 L398.5 1149 L399.8 1142.8 L401 1132.3 L401.8 1120.7 L402.2 1111.5 L403.5 1074.3 L403.8 1062.3 L404.8 1018.9 L405.8 984.9 L407.2 1018.8 L407.8 1044.4 L408.5 1074.4 L409.8 1111.8 L411 1132 L411.8 1139.8 L412.2 1142.9 L413.5 1148.9 L413.8 1150.5 L414.8 1153.4 L415.8 1155.4 L417.2 1157.3 L417.8 1157.6 L418.5 1158.9 L419.8 1159.3 L421 1160.8 L421.8 1161 L422.2 1160.8 L423.5 1161.6 L423.8 1161.6 L424.8 1161.9 L425.8 1162.4 L427.2 1162.8 L427.8 1162.9 L428.5 1162.6 L429.8 1163.4 L431 1163.1 L431.8 1163.2 L432.2 1162.8 L433.5 1163.3 L433.8 1163.4 L434.8 1163.6 L435.8 1163.5 L437.2 1163.6 L437.8 1163.8 L438.5 1163.5 L439.8 1163.7 L441 1164.1 L441.8 1163.5 L443.8 1164.2 L445.8 1163.8 L447.8 1163.9 L449.8 1164.2 L451 1164.1 L451.8 1164.4 L453.8 1164.2 L455.8 1164.3 L457.8 1164.5 L459.8 1164.6 L461 1164.4 L461.8 1163.8 L463.8 1164.7 L465.8 1164 L467.8 1164.4 L469.8 1164.7 L471 1164.4 L471.8 1164.3 L473.8 1164.4 L475.8 1164.7 L477.8 1164.4 L479.8 1164 L481.8 1164.8 L483.8 1164.4 L485.8 1164.2 L487.8 1164.3 L489.8 1164.1 L491.8 1164.5 L493.8 1164.8 L495.8 1164.7 L497.8 1164.7 L499.8 1164.6 L501.8 1164.6 L503.8 1164.6 L505.8 1164.7 L507.8 1164.6 L509.8 1164.6 L511.8 1164.7 L513.8 1165.2 L515.8 1164.7 L517.8 1164.5 L519.8 1164.6 L521.8 1164.6 L523.8 1164.9 L525.8 1164.5 L527.8 1164.6 L529.8 1164.9 L531.8 1164.9 L533.8 1165 L535.8 1164.8 L537.8 1165.1 L539.8 1165.2 L541.8 1164.7 L543.8 1164.8 L545.8 1164.8 L547.8 1165.2 L549.8 1165 L551.8 1165.1 L553.8 1165.4 L555.8 1165 L557.8 1164.9 L559.8 1164.8 L561 1165.1 L561.8 1164.9 L563.8 1165.2 L565.8 1164.6 L567.8 1165.1 L569.8 1164.9 L570 1164.8 L571.8 1165.2 L573.8 1164.9 L575.8 1165 L577.8 1165 L579 1165.2 L579.8 1164.5 L581.8 1164.7 L583.8 1165.1 L585.8 1164.8 L587.8 1165.1 L588 1165.2 L589.8 1165.2 L591.8 1165 L593.8 1165.2 L595.8 1165.2 L597 1165.1 L597.8 1165.6 L599.8 1165 L601.8 1164.9 L603.8 1165.1 L605.8 1165 L606 1165.2 L607.8 1165.2 L609.8 1164.9 L611.8 1165 L613.8 1164.9 L615 1165.7 L615.8 1165 L617.8 1165 L619.8 1165.1 L621.8 1165 L623.8 1165 L624 1165.2 L625.8 1165 L626.2 1165.2 L627.8 1165.1 L628.5 1164.8 L629.8 1165.1 L630.8 1165.3 L631.8 1165.2 L633 1165 L633.8 1165.3 L635.2 1164.7 L635.8 1165.1 L637.5 1165.5 L637.8 1165.3 L639.8 1165 L641.8 1165.1 L642 1164.8 L643.8 1165.2 L644.2 1165.3 L645.8 1165 L646.5 1165.5 L647.8 1165.3 L648.8 1165.1 L649.8 1165 L651 1165.1 L651.8 1165.1 L653.2 1164.9 L653.8 1164.8 L655.5 1165.1 L655.8 1165.2 L657.8 1165.4 L659.8 1165.1 L660 1164.8 L661.8 1165.1 L662.2 1164.6 L663.8 1164.9 L664.5 1165.3 L665.8 1164.7 L666.8 1165 L667.8 1165 L669 1164.6 L669.8 1164.8 L671.2 1164.5 L671.8 1164.9 L673.5 1164.6 L673.8 1164.4 L675.8 1163.8 L677.8 1162.5 L678 1161.9 L679.8 1158.9 L680.2 1157.7 L681.8 1153.1 L682.5 1149.9 L683.8 1143.8 L684.8 1139.9 L685.8 1136 L687 1134.5 L687.8 1135.6 L689.2 1139.6 L689.8 1142.2 L691.5 1150.1 L691.8 1151.2 L693.8 1158 L695.8 1161.9 L696 1161.9 L697.8 1163.4 L698.2 1163.7 L699.8 1164.3 L700.5 1164.4 L701.8 1164.6 L702.8 1164.8 L703.8 1164.9 L705 1164.6 L705.8 1165.1 L707.2 1165.3 L707.8 1165.3 L709.5 1165.3 L709.8 1165.4 L711.8 1164.9 L713.8 1165.2 L714 1165.4 L715.8 1165.1 L716.2 1165.3 L717.8 1165.6 L718.5 1165.3 L719.8 1165.2 L720.8 1165.3 L721.8 1165 L723 1165.3 L723.8 1165.3 L725.2 1165.4 L725.8 1165.5 L727.5 1165.2 L727.8 1165.2 L729.8 1165.5 L731.8 1165 L732 1165.4 L733.8 1165.7 L734.2 1165.7 L735.8 1165.6 L736.5 1165.7 L737.8 1165 L738.8 1165.9 L739.8 1165.5 L741 1165.7 L741.8 1165.5 L743.2 1165.6 L743.8 1165.8 L745.5 1165.5 L745.8 1165.6 L747.8 1165.5 L749.8 1165.7 L750 1165.5 L751.8 1165.9 L753.8 1165.6 L755.8 1165.7 L757.8 1165.8 L759 1165.3 L759.8 1165.5 L761.8 1165.6 L763.8 1165.4 L765.8 1165.5 L767.8 1165.6 L768 1165.6 L769.8 1165.6 L771.8 1165.7 L773.8 1165.4 L775.8 1165.7 L777 1165.6 L777.8 1165.7 L779.8 1165.8 L781.8 1165.5 L783.8 1165.8 L785.8 1165.7 L786 1165.7 L787.8 1166 L789.8 1165.9 L791.8 1166 L793.8 1165.7 L795 1165.9 L795.8 1165.7 L797.8 1165.7 L799.8 1165.5 L801.8 1165.7 L803.8 1165.9 L804 1165.5 L805.8 1165.9 L807.8 1165.4 L809.8 1165.6 L811.8 1165.8 L813 1165.6 L813.8 1165.9 L815.8 1165.8 L817.8 1165.7 L819.8 1165.5 L821.8 1165.8 L823.8 1165.8 L825.8 1165.8 L827.8 1165.8 L829.8 1165.8 L831.8 1165.8 L833.8 1165.8 L835.8 1166 L837.8 1165.9 L839.8 1166 L841.8 1165.9 L843.8 1165.4 L845.8 1165.9 L847.8 1166 L849.8 1166.1 L851.8 1165.7 L853.8 1165.8 L855.8 1165.8 L857.8 1166.2 L859.8 1166 L861.8 1165.6 L863.8 1165.4 L865.8 1165.6 L867.8 1165.8 L869.8 1165.7 L871.8 1165.6 L873.8 1166.1 L875.8 1165.9 L877.8 1165.9 L879.8 1166 L881.8 1165.7 L883.8 1165.4 L885.8 1165.8 L887.8 1166.1 L889.8 1165.8 L891.8 1165.7 L893.8 1165.8 L895 1165.8 L895.8 1165.9 L897.8 1166 L899.8 1166 L901 1166 L901.8 1165.4 L903.8 1165.7 L905.8 1165.8 L907 1165.8 L907.8 1165.9 L909.8 1166 L911.8 1165.9 L913 1166.1 L913.8 1165.6 L915.8 1165.8 L917.8 1165.7 L919 1165.6 L919.8 1165.7 L921.8 1165.9 L923.8 1166 L925 1165.7 L925.8 1165.8 L927.8 1165.6 L929.8 1165.9 L931 1166.1 L931.8 1166.1 L933.8 1166.1 L935.8 1166 L937 1166 L937.8 1165.8 L938.5 1165.8 L939.5 1165.7 L939.8 1166.2 L940 1166.2 L941.5 1165.8 L941.8 1165.7 L943 1165.8 L943.8 1166 L944.5 1166 L945.5 1166 L945.8 1165.9 L946 1165.9 L947.5 1166.2 L947.8 1165.8 L949 1166.4 L949.8 1166.2 L950.5 1166 L951.5 1165.9 L951.8 1165.7 L952 1165.8 L953.5 1165.9 L953.8 1166.1 L955 1165.9 L955.8 1165.9 L956.5 1165.9 L957.5 1165.7 L957.8 1165.7 L958 1165.5 L959.5 1165.6 L959.8 1165.9 L961 1165.9 L961.8 1165.9 L962.5 1165.8 L963.5 1165.8 L963.8 1166.1 L964 1165.7 L965.5 1165.6 L965.8 1165.5 L967 1165.9 L967.8 1165.9 L968.5 1165.7 L969.5 1165.9 L969.8 1165.7 L970 1165.8 L971.5 1165.6 L971.8 1165.4 L973 1165.1 L973.8 1165.1 L974.5 1164.9 L975.5 1164.3 L975.8 1164.5 L976 1163.6 L977.5 1163 L977.8 1162.2 L979 1162 L979.8 1162.3 L980.5 1163 L981.5 1163.4 L981.8 1163.7 L982 1163.7 L983 1164.6 L983.5 1164.6 L983.8 1164.8 L984.5 1165.4 L985 1165.2 L985.8 1165.4 L986 1165.9 L986.5 1165.7 L987.5 1165.8 L987.8 1165.6 L988 1165.8 L989 1165.8 L989.5 1166.2 L989.8 1166 L990.5 1166 L991 1165.9 L991.8 1166.1 L992 1166.2 L992.5 1165.9 L993.5 1166.3 L993.8 1166.2 L994 1165.6 L995 1165.7 L995.5 1165.7 L995.8 1165.7 L996.5 1165.8 L997 1165.5 L997.8 1166.2 L998 1166.4 L998.5 1165.8 L999.5 1165.6 L999.8 1166.1 L1000 1166 L1001 1165.5 L1001.5 1165.9 L1001.8 1166.1 L1002.5 1165.7 L1003 1165.8 L1003.8 1165.8 L1004 1165.6 L1004.5 1165.9 L1005.5 1165.8 L1005.8 1166 L1006 1166.2 L1007 1165.5 L1007.5 1165.6 L1007.8 1165.9 L1008.5 1165.8 L1009 1165.9 L1009.8 1166.1 L1010 1165.7 L1010.5 1165.7 L1011.5 1165.7 L1011.8 1165.7 L1012 1165.9 L1013 1165.7 L1013.5 1165.8 L1013.8 1165.4 L1014.5 1166.1 L1015 1166.1 L1015.8 1165.8 L1016 1166 L1016.5 1165.6 L1017.5 1166.1 L1017.8 1165.9 L1018 1166 L1019 1165.9 L1019.5 1165.4 L1019.8 1165 L1020.5 1165.3 L1021 1165.1 L1021.8 1164.7 L1022 1165 L1023.5 1164.1 L1023.8 1164.4 L1025 1164.8 L1025.8 1164.7 L1026.5 1165.4 L1027 1165 L1027.8 1165.8 L1028 1165.3 L1029.5 1165.6 L1029.8 1165.8 L1031 1165.9 L1031.8 1165.9 L1032.5 1166 L1033 1166 L1033.8 1165.8 L1034 1165.5 L1035.5 1165.8 L1035.8 1166 L1037 1166 L1037.8 1165.8 L1038.5 1166.2 L1039 1166 L1039.7 1165.9 L1040 1166.3 L1041.5 1166 L1041.8 1165.9 L1043 1166 L1043.8 1165.4 L1044.5 1166 L1045 1166 L1045.8 1165.8 L1046 1166.1 L1047.5 1166 L1047.7 1166.1 L1049 1165.9 L1049.8 1166.1 L1050.5 1166 L1051 1166.1 L1051.8 1166.1 L1052 1165.8 L1053.5 1166.1 L1053.8 1166.2 L1055 1166 L1055.7 1166.2 L1056.5 1166.1 L1057 1165.9 L1057.8 1166 L1058 1165.7 L1059.5 1165.8 L1059.8 1166.4 L1061 1165.9 L1061.8 1165.9 L1062.5 1166 L1063 1165.6 L1063.7 1166.2 L1064 1166 L1065.5 1165.7 L1065.8 1166.1 L1067.8 1166 L1069.8 1166 L1071.5 1166.1 L1071.7 1165.7 L1073.8 1165.6 L1075.8 1165.5 L1077.5 1166.1 L1077.8 1166.4 L1079.7 1165.2 L1081.8 1166 L1083.5 1165.9 L1083.8 1165.8 L1085.8 1166 L1087.7 1166.4 L1089.5 1165.8 L1089.8 1166.2 L1091.8 1165.8 L1093.8 1165.9 L1095.5 1166.2 L1095.7 1166 L1097.7 1165.9 L1099.7 1165.8 L1101.5 1166.2 L1101.7 1166 L1103.7 1165.5 L1105.7 1166.1 L1107.5 1166.1 L1107.7 1165.9 L1109.7 1166.1 L1111.7 1165.7 L1113.7 1166.2 L1115.7 1165.8 L1117.7 1166.2 L1119.7 1166.4 L1121.7 1166.2 L1123.7 1165.8 L1125.7 1166 L1127.7 1165.8 L1129.7 1165.6 L1131.7 1165.6 L1133.7 1165.9 L1135.7 1166.1 L1137.7 1166 L1139.7 1166 L1141.7 1165.8 L1143.7 1165.7 L1145.7 1164.8 L1147.7 1164 L1149.7 1162.4 L1151.7 1161.8 L1153.7 1162.1 L1155.7 1163.7 L1157.7 1164.9 L1159.7 1165.5 L1161.7 1165.7 L1163.7 1165.5 L1165.7 1166.2 L1167.7 1165.9 L1169.7 1166.4 L1171.7 1165.9 L1173.7 1165.9 L1175.7 1165.7 L1177.7 1166.2 L1179.7 1165.6 L1181.7 1166.1 L1183.7 1166 L1185.7 1165.9 L1187.7 1166.1 L1189.7 1166.1 L1191.7 1166.1 L1193.7 1166.1 L1195.7 1166.1 L1197.7 1166.3 L1199.7 1166.3 L1201.7 1165.9 L1203.7 1165.6 L1205.7 1166.3 L1207.7 1166 L1209.8 1166.2 L1211.8 1165.8 L1213.7 1166.3 L1215.7 1165.9 L1217.8 1166.4 L1219.8 1166.1 L1221.8 1165.9 L1222.7 1166.2 L1223.7 1165.7 L1225.8 1165.8 L1227.8 1166.2 L1229.8 1166.4 L1231.7 1166.2 L1233.8 1166.1 L1235.8 1166 L1237.8 1166 L1239.7 1166.1 L1240.7 1166.1 L1241.8 1166.1 L1243.8 1166.2 L1245.8 1165.8 L1247.7 1165.7 L1249.7 1166.3 L1251.8 1166.6 L1253.8 1166.2 L1255.7 1165.7 L1257.8 1166.2 L1258.7 1166.2 L1259.8 1166.2 L1261.8 1166.3 L1263.7 1166.3 L1265.8 1166 L1267.7 1166.2 L1269.8 1165.9 L1271.8 1166.2 L1273.8 1165.9 L1275.8 1166.2 L1276.7 1165.9 L1277.8 1166.4 L1279 1166.1 L1279.8 1166.2 L1281.2 1166.1 L1281.8 1166.3 L1283.5 1166.2 L1283.8 1165.9 L1285.7 1165.8 L1287.8 1166 L1289.8 1166.3 L1290.2 1166.1 L1291.8 1165.7 L1292.5 1166 L1293.8 1165.9 L1294.7 1166 L1295.8 1165.7 L1297 1166.3 L1297.8 1166 L1299.2 1166.2 L1299.8 1166 L1301.5 1166.2 L1301.8 1166.1 L1303.7 1166.5 L1305.8 1166.4 L1307.8 1166 L1308.2 1166.4 L1309.8 1166 L1310.5 1166.1 L1311.8 1166.3 L1312.7 1165.9 L1313.8 1166.4 L1315 1166.2 L1315.8 1166 L1317.2 1166.1 L1317.8 1166.2 L1319.5 1165.9 L1319.8 1165.9 L1321.7 1166 L1323.8 1166.1 L1325.8 1166.1 L1326.2 1166.4 L1327.8 1166.1 L1328.5 1166 L1329.8 1165.9 L1330.7 1165.7 L1331.8 1165.7 L1333 1165.6 L1333.8 1165.4 L1335.2 1165.2 L1335.8 1165 L1337.5 1164.7 L1337.8 1164.4 L1339.7 1164.3 L1341.8 1164.6 L1343.8 1164.9 L1344.2 1165.4 L1345.8 1165.7 L1346.5 1165.8 L1347.8 1165.8 L1348.7 1165.9 L1349.8 1166.1 L1351 1166.2 L1351.8 1166 L1353.2 1166.6 L1353.8 1166.2 L1355.5 1166.1 L1355.8 1166 L1357.7 1166.3 L1359.8 1166.3 L1361.8 1166.3 L1362.2 1166.2 L1363.8 1166.4 L1364.5 1165.8 L1365.8 1166.4 L1366.7 1166.1 L1367.8 1165.9 L1369 1166.2 L1369.8 1166.3 L1371.2 1166.3 L1371.8 1166.2 L1373.5 1165.9 L1373.8 1166 L1375.7 1166.1 L1377.8 1165.8 L1379.8 1166.5 L1380.2 1166.1 L1381.8 1166.4 L1382.5 1166.4 L1383.8 1166.1 L1384.7 1166.3 L1385.8 1166.4 L1387 1166 L1387.8 1166.2 L1389.2 1166.2 L1389.8 1166.2 L1391.5 1166.4 L1391.8 1166.3 L1393.7 1166.1 L1395.8 1166.2 L1397.8 1166.3 L1398.2 1166.2 L1399.8 1166 L1400.5 1166.4 L1401.8 1166.3 L1402.7 1166.1 L1403.8 1166.1 L1405.8 1166.1 L1407.8 1166.2 L1409.8 1166.2 L1411.7 1166.5 L1413.8 1166.3 L1415.8 1166.4 L1417.8 1166 L1419.8 1166.3 L1420.7 1166.1 L1421.8 1166.1 L1423.8 1166 L1425.8 1166.2 L1427.8 1166.2 L1429.7 1166.4 L1431.8 1166.1 L1433.8 1166 L1435.8 1166.2 L1437.8 1166.2 L1438.7 1166.4 L1439.8 1166.6 L1441.8 1166.5 L1443.8 1166.6 L1445.8 1166.3 L1447.7 1166.2 L1449.8 1166.3 L1451.8 1166.2 L1453.8 1166.2 L1455.8 1166.5 L1456.7 1165.9 L1457.8 1166.2 L1459.8 1166.3 L1461.8 1166.6 L1463.8 1166.4 L1465.7 1166.4 L1467.8 1166.3 L1469.8 1166.4 L1471.8 1166.1 L1473.8 1166.4 L1475.8 1166.1 L1477.8 1166.2 L1479.8 1166.3 L1481.8 1166.3 L1483.8 1166.3 L1485.8 1166.2 L1487.8 1166.2 L1489.8 1166.4 L1491.8 1166.7 L1493.8 1165.9 L1495.8 1166.4 L1497.8 1166.3 L1499.8 1166.3 L1501.8 1166.4 L1503.8 1166.4 L1505.8 1166.3 L1507.8 1166.2 L1509.8 1166.2 L1511.8 1166.4 L1513.8 1166.6 L1515.8 1166.3 L1517.8 1166.6 L1519.8 1166.4 L1521.8 1166.1 L1523.8 1166.2 L1525.8 1166.1 L1527.8 1166 L1529.8 1166.5 L1531 1166.4 L1531.8 1166.4 L1533.8 1166.3 L1535.8 1166.6 L1537.8 1166.5 L1539 1166.3 L1539.8 1166.3 L1541.8 1166.6 L1543.8 1166.3 L1545.8 1166.5 L1547 1166.5 L1547.8 1166.2 L1549.8 1166.3 L1551.8 1166.5 L1553.8 1166.4 L1555 1166.4 L1555.8 1166.6 L1557.8 1166.5 L1559.8 1166.1 L1561 1166.2 L1561.8 1166 L1563 1166 L1563.8 1166.3 L1565.8 1166.6 L1567.8 1166.7 L1569 1166 L1569.8 1166.2 L1571 1166.2 L1571.8 1166.1 L1573.8 1166.8 L1575.8 1166.6 L1577 1166.3 L1577.8 1166.7 L1579 1166.3 L1579.8 1166.3 L1581.8 1166.2 L1583.8 1166.3 L1585 1166.1 L1585.8 1166 L1587 1166.5 L1587.8 1166.6 L1589 1166.6 L1589.8 1166.1 L1591 1166.3 L1591.8 1166.5 L1593 1166.3 L1593.8 1166.4 L1595 1166.1 L1595.8 1166.3 L1597 1166.5 L1597.8 1166.3 L1599 1166.4 L1599.8 1166.5 L1601 1166.4 L1601.8 1166.4 L1603 1166.3 L1603.8 1166.4 L1605 1166.8 L1605.8 1166.4 L1607 1166.6 L1607.8 1166.4 L1609 1166.6 L1609.8 1166.4 L1611 1166.4 L1611.8 1166.2 L1613 1166.6 L1613.8 1166.1 L1615 1166.3 L1615.8 1166.4 L1617 1166.2 L1617.8 1166.5 L1619 1166.2 L1619.8 1166.2 L1621 1166 L1621.8 1166.1 L1623 1166.4 L1623.8 1166.6 L1625 1166.5 L1625.8 1166.1 L1627 1166.2 L1627.8 1166.1 L1629 1166.1 L1629.8 1166 L1631 1166.3 L1631.8 1166.1 L1633 1166.5 L1633.8 1166 L1635 1166 L1635.8 1165.7 L1637 1166.1 L1637.8 1165.9 L1639 1165.5 L1639.8 1165.7 L1641 1165.1 L1641.8 1165.1 L1643 1164.7 L1643.8 1165 L1645 1165.1 L1645.8 1165 L1647 1165.9 L1647.8 1165.9 L1649 1166.2 L1649.8 1165.9 L1651 1166.2 L1651.8 1166.3 L1653 1166.2 L1653.8 1166.1 L1655 1166.3 L1655.8 1166 L1657 1166.3 L1657.8 1166.2 L1659 1166.1 L1659.8 1166.2 L1661 1166.3 L1661.8 1166.2 L1663 1166.2 L1663.8 1166.2 L1665 1166 L1665.8 1166.3 L1667 1165.9 L1667.8 1165.9 L1669 1165.3 L1669.8 1165.3 L1671 1164.9 L1671.8 1164.8 L1673 1164.4 L1673.8 1164.4 L1675 1164.7 L1675.8 1165.1 L1677 1165.8 L1677.8 1165.7 L1679 1166.3 L1679.8 1166.2 L1681 1165.8 L1681.8 1166.4 L1683 1165.7 L1683.8 1166.4 L1685 1166.2 L1685.8 1166.3 L1687 1166.3 L1687.8 1166.1 L1689 1166.7 L1689.8 1166.2 L1691 1166.7 L1691.8 1166.6 L1693 1166.2 L1693.8 1166.6 L1695 1166.4 L1695.8 1166.6 L1697 1166.4 L1697.8 1166.5 L1699 1166.4 L1699.8 1166.1 L1701 1166.3 L1701.8 1166.8 L1703 1166.4 L1703.8 1166.6 L1705 1166.1 L1705.8 1166.4 L1707 1166.5 L1707.8 1166.3 L1709 1166.2 L1709.8 1166.3 L1711 1166.8 L1711.8 1166.2 L1713 1166.6 L1713.8 1166.7 L1715 1166.8 L1715.8 1166.5 L1717 1166.4 L1717.8 1166.5 L1719 1166.4 L1719.8 1166.5 L1721 1166.5 L1721.8 1166.5 L1723 1166.6 L1723.8 1166.5 L1725 1166.4 L1725.8 1166.5 L1727 1166.3 L1727.8 1166.3 L1729 1166.3 L1729.8 1166 L1731 1166.3 L1731.8 1166.5 L1733.8 1166.4 L1735.8 1166.5 L1737 1166.5 L1737.8 1166.5 L1739 1166.5 L1739.8 1166.7 L1741.8 1166.4 L1743.8 1166.3 L1745 1166.3 L1745.8 1166.2 L1747 1166.8 L1747.8 1166.6 L1749.8 1166.8 L1751.8 1166.6 L1753 1166.2 L1753.8 1166.1 L1755 1166.7 L1755.8 1166.2 L1757.8 1166.6 L1759.8 1166.6 L1761 1166.5 L1761.8 1166.6 L1763.8 1166.5 L1765.8 1166.3 L1767.8 1166.7 L1769 1166.8 L1769.8 1166.5 L1771.8 1166.5 L1773.8 1166.3 L1775.8 1166.4 L1777 1166.5 L1777.8 1166.7 L1779.8 1166.5 L1781.8 1166.8 L1783.8 1166.5 L1785 1166.3 L1785.8 1166.7 L1787.8 1166.6 L1789.8 1166.6 L1791.8 1166.5 L1793.8 1166.6 L1795.8 1166.4 L1797.8 1166.7 L1799.8 1166.4 L1801.8 1166.5 L1803.8 1166.3 L1805.8 1166.6 L1807.8 1166.3 L1809.8 1166.8 L1811.8 1166.3 L1813.8 1166.8 L1815.8 1166.7 L1817.8 1166.2 L1819.8 1166.5 L1821.8 1166.6 L1823.8 1166 L1825.8 1166.6 L1827.8 1166.4 L1829.8 1166.7 L1831.8 1166.4 L1833.8 1166.4 L1835.8 1166.4 L1837.8 1166.3 L1839.8 1166.4 L1841.8 1166.8 L1843.8 1166.7 L1845.8 1166.9 L1847.8 1166.8 L1849.8 1166.7 L1851.8 1166.8 L1853.8 1166.4 L1855.8 1166.5 L1857.8 1166.5 L1859.8 1166.8 L1861.8 1166.7 L1863.8 1166.7 L1865.8 1166.2 L1867.8 1166.3 L1869.8 1166.4 L1871.8 1166.5 L1873.8 1166.7 L1875.8 1166.6 L1877.8 1166.7 L1879.8 1166.8 L1881.8 1167 L1883.8 1166.6 L1885.8 1166.7 L1887.8 1166.2 L1889.8 1166.2 L1891.8 1166.9 L1893.8 1166.8 L1895.8 1166.6 L1897.8 1166.6 L1899.8 1166.4 L1901.8 1166.5 L1903.8 1166.8 L1905.8 1167 L1907.8 1166.6 L1909.8 1166.9 L1911.8 1166.3 L1913.8 1166.6 L1915.8 1166.6 L1917.8 1166.4 L1919.8 1166.3 L1921.8 1166.5 L1923.8 1166.5 L1925.8 1166.4 L1927.8 1166.6 L1929.8 1166.6 L1931.8 1166.9 L1933.8 1166.5 L1935.8 1166.5 L1937.8 1166.7 L1939.8 1166.7 L1941.8 1166.9 L1943.8 1166.8 L1945.8 1166.8 L1947.8 1166.5 L1949.8 1166.9 L1951.8 1166.4 L1953.8 1166.8 L1955.8 1167 L1957.8 1166.5 L1959.8 1166.4 L1961.8 1166.5 L1963.8 1166.5 L1965.8 1166.5 L1967.8 1166.6 L1969.8 1166.7 L1971.8 1166.7 L1973.8 1166.9 L1975.8 1166.9 L1977.8 1166.9 L1979.8 1166.7 L1981.8 1166.6 L1983.8 1166.6 L1985.8 1166.8 L1987.8 1166.8 L1989.8 1166.7 L1991.8 1166.6 L1993.8 1166.7 L1995.8 1167.3 L1997.8 1166.4 L1999.8 1166.9 L2001.8 1166.8 L2003.8 1166.8 L2005.8 1166.6 L2007.8 1166.7 L2009.8 1166.2 L2011.8 1166.9 L2013.8 1166.7 L2015.8 1166.9 L2017.8 1166.6 L2019.8 1166.3 L2021.8 1166.8 L2023.8 1166.9 L2025.8 1166.3 L2027.8 1166.8 L2029.8 1167 L2031.8 1166.7 L2033.8 1166.2 L2035.8 1166.7 L2037.8 1166.9 L2039.8 1166.6 L2041.8 1166.4 L2043.8 1166.9 L2045.8 1166.8 L2047 1167" fill="none" stroke="#ff0000" stroke-width="8.2" stroke-linejoin="round" stroke-linecap="butt"/>
<path d="M213.8 908.7 L215.8 912.5 L217.8 916.7 L219.8 919 L221.8 921.6 L223.8 924.1 L225.8 925.1 L227.8 925.9 L229.8 926.7 L231.8 927.6 L233.8 928 L235.8 928.9 L237.8 929.3 L239.8 930.4 L241.8 930.3 L243.8 930.6 L245.8 931.5 L247.8 932.1 L249.8 932.7 L251.8 932.5 L253.8 933 L255.8 932.8 L257.8 933.5 L259.8 933 L261.8 934 L263.8 933.7 L265.8 934.2 L267.8 934.8 L269.8 934.5 L271.8 935.1 L273.8 935.2 L275.8 935.5 L277.8 935.7 L279.8 935.4 L281.8 935.9 L283.8 936.5 L285.8 936.5 L287.8 936.3 L289.8 936.8 L291.8 937.3 L293.8 937.4 L295.8 937.8 L297.8 937.8 L299.8 938 L301.8 938.3 L303.8 938.1 L305.8 938.8 L307.8 938.9 L309.8 938.9 L311.8 939.4 L313.8 939.5 L315.8 939.9 L317.8 940 L319.8 940.1 L321.8 940.2 L323.8 940.3 L325.8 940.4 L327.8 940.3 L329.8 940.9 L331.8 941 L333.8 941.2 L335.8 940.7 L337.8 941.3 L339.8 942.1 L341.8 941.6 L343.8 941.9 L345.8 942.1 L347.8 941.9 L349.8 942 L351.8 942.4 L353.8 942.7 L355.8 942.3 L357.8 942.7 L359.8 942.8 L361.8 942.7 L363.8 943.1 L365.8 942.9 L367.8 943.3 L369.8 943 L371.8 943.6 L373.1 943.8 L373.8 943.6 L375.8 943.4 L377.8 943.7 L378.7 943.7 L379.8 943.9 L381.5 943.8 L381.8 943.9 L383.8 944.1 L384.3 944.4 L385.8 944 L387.1 943.5 L387.8 943.9 L389.8 944 L391.8 943.8 L392.7 943.6 L393.4 943.5 L393.8 943.5 L394.1 944 L394.8 943.6 L395.5 943.7 L395.8 943.3 L396.2 943.4 L396.9 943.3 L397.6 943 L398.3 943.2 L399 942.5 L399.7 942.9 L400.4 942.3 L401.1 941.9 L401.8 941.1 L402.5 940.7 L403.2 940 L403.8 939.4 L404.6 938.4 L405.3 936.9 L405.8 935.7 L406.7 932.5 L407.4 928.3 L407.8 925.8 L408.1 922.6 L408.8 914.4 L409.5 900.2 L409.8 891.5 L410.2 875.2 L410.9 831.5 L411.6 762.5 L412.3 717.2 L413 762.8 L413.7 831.7 L414.4 875.6 L415.1 900.2 L415.8 914.8 L416.5 923.6 L417.2 929.3 L417.8 932.5 L418.6 935.5 L419.3 937.5 L419.8 938.6 L420.7 940.6 L421.4 941.1 L421.8 941.8 L422.1 942.1 L422.8 942.7 L423.5 943 L423.8 943.4 L424.2 943.5 L424.9 943.8 L425.6 944.3 L426.3 945 L427 944.6 L427.7 945.1 L428.4 945.1 L429.1 945.2 L429.8 945.5 L430.5 945.7 L431.2 945.7 L431.8 946.1 L433.8 946.4 L434.7 946.2 L435.8 946.3 L437.5 946.8 L437.8 946.8 L439.8 947.1 L440.3 946.5 L441.8 947.3 L443.1 946.7 L443.8 946.7 L445.8 947.5 L447.8 947.5 L448.7 947.4 L449.8 947.4 L451.5 947.5 L451.8 947.7 L453.8 947.6 L455.8 948.1 L457.8 947.8 L459.8 948 L461.8 947.9 L463.8 948.1 L465.8 948.6 L467.8 948.7 L469.8 948.3 L471.8 948.6 L473.8 948.6 L475.8 948.4 L477.8 948.9 L479.8 948.9 L481.8 948.9 L483.8 949 L485.8 948.9 L487.8 948.8 L489.8 949.2 L491.8 949 L493.8 949.2 L495.8 949.6 L497.8 949.4 L499.8 949.5 L501.8 949.5 L503.8 949.6 L505.8 950 L507.8 950.2 L509.8 949.8 L511.8 950.2 L513.8 950.2 L515.8 950 L517.8 950.1 L519.8 950.3 L521.8 950.3 L523.8 950.7 L525.8 950.2 L527.8 950.6 L529.8 950.4 L531.8 950.8 L533.8 950.5 L535.8 950.7 L537.8 950.4 L539.8 950.7 L541.8 950.8 L543.8 950.8 L545.8 951.1 L547.8 950.5 L549.8 951 L551.8 951.2 L553.8 950.8 L555.8 951.2 L557.8 951 L559.8 951.2 L561.8 951.2 L563.8 951.5 L565.8 951.7 L567.8 951.4 L569.8 951.6 L571.8 951.7 L573.8 951.8 L575.8 951.4 L577.8 951.8 L579.8 951.5 L581.8 952.1 L583.8 951.8 L585.8 952.1 L587.8 952.2 L589.8 952 L591.8 952.2 L593.8 952 L595.8 952.4 L597.8 952.1 L599.8 952.6 L601.8 952.2 L603.8 952.3 L605.8 952.2 L607.8 952.2 L609.8 952.3 L611.8 952.4 L613.8 952.5 L615.8 952.8 L617.8 952.6 L619.8 952.5 L621.8 952.6 L623.8 952.8 L625.8 952.5 L627.8 953 L629.8 953.2 L631.8 952.4 L633.8 952.5 L635.8 952.5 L637.8 952.6 L639.8 952.8 L640 952.8 L641.8 953.1 L643.8 952.8 L644.2 952.5 L645.8 952.9 L647.8 952.7 L648.4 952.7 L649.8 952.6 L651.8 953.2 L652.6 953.1 L653.8 953.2 L655.8 953.1 L656.8 952.9 L657.8 952.8 L659.8 952.6 L661 953.3 L661.8 953.3 L663.8 952.9 L665.2 953 L665.8 953 L666.2 953.4 L667.3 952.8 L667.8 953.1 L668.4 953.2 L669.4 953 L669.8 952.8 L670.5 952.9 L671.5 952.6 L671.8 953.1 L672.5 953.1 L673.6 952.8 L674.6 953 L675.7 952.7 L676.8 952.8 L677.8 951.8 L678.9 952.3 L679.8 952.6 L681 951.8 L681.8 951.5 L682 951.4 L683 951.2 L683.8 951.4 L684.1 951 L685.1 950.6 L685.8 950.8 L686.2 949.5 L687.2 948.1 L687.8 948.5 L688.3 947.5 L689.4 944.6 L689.8 943 L690.4 939.9 L691.5 930.7 L691.8 926.3 L692.5 914.1 L693.5 890.2 L693.8 884.3 L694.6 874.8 L695.6 889.7 L696.7 914.2 L697.8 931 L698.8 940 L699.8 945 L700.9 947.3 L701.8 948.6 L703 950.3 L703.8 950.6 L704 950.7 L705.1 951.7 L705.8 951.9 L706.1 952 L707.2 951.7 L707.8 952.4 L708.2 952.7 L709.3 952.8 L709.8 952.7 L710.4 953 L711.4 952.9 L711.8 953.3 L712.5 953.5 L713.5 953.2 L713.8 952.9 L714.5 952.9 L715.6 953.5 L716.6 953.5 L717.7 953.7 L718.8 953.3 L719.8 953.4 L720.9 953.6 L721.8 953.9 L723 953.9 L723.8 954.1 L724 953.9 L725.8 953.9 L727.8 953.8 L728.2 953.8 L729.8 954 L731.8 954.5 L732.4 953.7 L733.8 954 L735.8 954.2 L736.6 954.1 L737.8 954.3 L739.8 954.4 L740.8 954.6 L741.8 954.3 L743.8 954.6 L745 954.3 L745.8 954.4 L747.8 954.3 L749.2 954.2 L749.8 954.1 L751.8 954.2 L753.4 954.5 L753.8 954.4 L755.8 954.6 L757.8 954.8 L759.8 954.6 L761.8 954.2 L763.8 954.7 L765.8 954.7 L767.8 954.9 L769.8 954.9 L771.8 955.1 L773.8 954.9 L775.8 955 L777.8 954.7 L779.8 955 L781.8 955 L783.8 955.1 L785.8 955 L787.8 954.9 L789.8 955 L791.8 954.9 L793.8 955.6 L795.8 954.9 L797.8 955.1 L799.8 954.8 L801.8 955.4 L803.8 955.1 L805.8 955.2 L807.8 955 L809.8 955.3 L811.8 955.2 L813.8 955 L815.8 955.9 L817.8 955.4 L819.8 955.2 L821.8 955.1 L823.8 954.8 L825.8 955.3 L827.8 955.3 L829.8 955.3 L831.8 955.3 L833.8 955.4 L835.8 955.5 L837.8 955.1 L839.8 955.4 L841.8 955.2 L843.8 955.2 L845.8 955.1 L847.8 955.1 L849.8 955.4 L851.8 955.6 L853.8 955.2 L855.8 955.2 L857.8 955.2 L859.8 955.2 L861.8 955.3 L863.8 955.2 L865.8 955.2 L867.8 955.8 L869.8 955.4 L871.8 955.6 L873.8 955.6 L875.8 955.3 L877.8 955.4 L879.8 955 L881.8 955.3 L883.8 955.3 L885.8 955.5 L887.8 955.8 L889.8 955.3 L891.8 955.2 L893.8 955.5 L895.8 955.4 L897.8 955.5 L898.5 955.1 L899.8 955.2 L901.8 955.4 L903.8 955.5 L904.5 955.3 L905.8 955.6 L907.8 955.6 L909.8 955.3 L910.5 955.7 L911.8 955.2 L913.8 955.4 L915.8 955.3 L916.5 955.1 L917.8 955.6 L919.8 955.4 L921.8 955.7 L922.5 955.5 L923.8 955.2 L925.8 955.4 L927.8 955.2 L928.5 955.2 L929.8 955.3 L931.8 955.5 L933.8 955.6 L934.5 955.2 L935.8 955.2 L937.8 955.4 L939.8 955.5 L940.5 955.4 L941.8 955.4 L942 955.5 L943.5 955.5 L943.8 955.3 L945 955.4 L945.8 955.4 L946.5 955.6 L947.8 955.3 L948 955.4 L949.5 955.2 L949.8 955.1 L951 955.2 L951.8 955.3 L952.5 955.1 L953.8 955.3 L954 955.5 L955.5 955.7 L955.8 955.2 L957 955.1 L957.8 955.4 L958.5 955.3 L959.8 955.2 L960 955.1 L961.5 955.8 L961.8 955.2 L963 955.5 L963.8 955.4 L964.5 955.2 L965.8 955.5 L966 955.3 L967.5 955.6 L967.8 955.1 L969 955.3 L969.8 955.3 L970.5 955.4 L971.8 955.4 L972 955.3 L973.5 955.2 L973.8 954.9 L975 955.4 L975.8 955.1 L976.5 954.9 L977.8 953.8 L978 953.8 L979.5 952.5 L979.8 951.9 L981 951 L981.8 949.8 L982.5 949.5 L983.8 950.6 L984 950.5 L985.5 952.6 L985.8 953 L987 954 L987.3 954.5 L987.8 954.6 L988.5 954.7 L988.8 954.9 L989.8 955.2 L990 955.1 L990.3 955.3 L991.5 955.2 L991.8 955.3 L993 955.2 L993.3 955.1 L993.8 955.2 L994.5 955 L994.8 955.5 L995.8 955.5 L996 955 L996.3 955.5 L997.5 955.4 L997.8 955 L999 955.6 L999.3 955.4 L999.8 955.8 L1000.5 955.6 L1000.8 955.6 L1001.8 955.7 L1002 955.5 L1002.3 955.5 L1003.5 955.3 L1003.8 955.5 L1005 955.6 L1005.3 955.3 L1005.8 955.4 L1006.5 955.6 L1006.8 955.4 L1007 955.9 L1007.8 955.2 L1008 955.2 L1008.3 955.6 L1009.5 955.8 L1009.8 955.6 L1011 955.4 L1011.3 955.7 L1011.8 955.7 L1012.5 954.9 L1012.8 955.6 L1013.8 955.8 L1014 955.7 L1014.3 955.5 L1015 955.5 L1015.5 955.6 L1015.8 955.5 L1017 955.7 L1017.3 955.2 L1017.8 955.1 L1018.5 955.4 L1018.8 955.6 L1019.8 955.4 L1020 955.6 L1020.3 955.3 L1021.5 955 L1021.8 955.3 L1023 954.9 L1023.3 954.9 L1023.8 954.9 L1024.5 954.4 L1024.8 954.5 L1025.8 954 L1026.3 953.7 L1027.8 953.2 L1029.3 953.9 L1029.8 954 L1030.5 954.2 L1030.8 954.7 L1031 954.6 L1031.8 954.7 L1032.3 955.1 L1033.8 955.4 L1035.3 955.5 L1035.8 955.3 L1036.5 955.5 L1036.8 955.4 L1037.8 955.1 L1038.3 955.5 L1039 955.2 L1039.8 955.4 L1041.3 955.6 L1041.8 955.5 L1042.5 955.5 L1042.8 955.3 L1043.8 955.8 L1044.3 955.7 L1045.8 956 L1047 955.8 L1047.3 955.6 L1047.8 955.8 L1048.5 956.1 L1048.8 955.6 L1049.8 955.4 L1050.3 955.8 L1051.8 955.5 L1053.3 955.1 L1053.8 955.5 L1054.5 955.7 L1054.8 955.8 L1055 955.4 L1055.8 955.8 L1056.3 955.8 L1057.8 955.7 L1059.3 955.4 L1059.8 955.5 L1060.5 955.5 L1060.8 955.9 L1061.8 955.5 L1062.3 955.4 L1063 955.9 L1063.8 955.6 L1065 955.7 L1065.3 956 L1065.8 955.9 L1066.5 955.9 L1066.8 955.6 L1067 955.7 L1067.5 955.6 L1067.8 955.4 L1068.3 955.6 L1069 955.6 L1069.8 955.9 L1071 955.5 L1071.8 955.7 L1073 955.7 L1073.8 955.9 L1074.5 955.6 L1075 955.6 L1075.8 955.9 L1077 955.9 L1077.8 955.6 L1079 955.8 L1079.8 955.5 L1081 955.9 L1081.5 955.6 L1081.8 955.7 L1083 955.8 L1083.8 955.8 L1085 955.6 L1085.8 956.1 L1087 955.6 L1087.8 955.7 L1088.5 955.2 L1089 955.8 L1089.8 955.3 L1091 955.6 L1091.8 955.5 L1093 955.8 L1093.8 955.8 L1095 955.6 L1095.5 955.8 L1095.8 956 L1097 955.8 L1097.8 956.1 L1099 955.9 L1099.8 955.5 L1101 955.7 L1101.8 955.6 L1102.5 955.7 L1103 955.5 L1103.8 955.5 L1105 955.5 L1105.8 955.8 L1107 955.4 L1107.8 955.3 L1109 955.6 L1109.5 955.2 L1109.8 955.6 L1111 954.8 L1111.2 955.1 L1111.8 955.3 L1113 954.5 L1113.8 954.7 L1114.8 954.4 L1115 953.8 L1115.8 953.1 L1116.5 952.6 L1117 952.5 L1117.8 952 L1118.2 952 L1119 951.8 L1119.8 951.9 L1120 951.7 L1121 952.4 L1121.8 953.2 L1123 953.8 L1123.5 954.3 L1123.8 954.2 L1125 954.7 L1125.2 955 L1125.8 954.7 L1127 955.6 L1127.8 955.7 L1128.8 955.4 L1129 955.2 L1129.8 955.5 L1130.5 955.3 L1131 955.7 L1131.8 955.7 L1132.2 955.4 L1133 955.8 L1133.8 955.6 L1134 955.6 L1135 955.8 L1135.8 955.7 L1137 955.6 L1137.5 955.9 L1137.8 955.5 L1139 955.6 L1139.2 955.2 L1139.8 955.8 L1141 955.8 L1141.8 955.5 L1142.8 955.4 L1143 955.8 L1143.8 955.9 L1144.5 955.3 L1145 955.9 L1145.8 955.8 L1146.2 955.6 L1147 955.4 L1147.8 955.2 L1148 955.3 L1149 955.3 L1149.6 955.2 L1151 954.7 L1151.5 954.5 L1151.8 954.7 L1153 953.7 L1153.2 953.3 L1153.8 953.4 L1155 951.5 L1155.8 950.4 L1156.8 948.8 L1157 948.5 L1157.8 947.7 L1158.5 947.5 L1159 947.6 L1159.8 948.5 L1160.2 949.2 L1161 949.9 L1161.8 951.5 L1162 951.8 L1163 952.8 L1163.8 953.8 L1165 954.6 L1165.5 954.8 L1165.8 954.9 L1167 955.2 L1167.2 955.1 L1167.6 955 L1167.8 955.3 L1169 955.3 L1169.8 955.8 L1170.8 955.5 L1171 955.7 L1171.8 955.6 L1172.5 955.5 L1173 955.6 L1173.8 955.7 L1174.2 955.9 L1175 956 L1175.8 955.7 L1176 955.5 L1176.6 955.6 L1177.8 955.7 L1179.5 955.5 L1179.8 955.9 L1181.2 955.9 L1181.8 955.5 L1183 956.1 L1183.8 955.9 L1184.8 955.6 L1185.6 955.5 L1185.8 955.7 L1186.5 956.2 L1187.8 955.8 L1188.2 956.3 L1189.8 956 L1190 955.8 L1191 956.2 L1191.8 955.8 L1193.5 955.9 L1193.8 955.9 L1194.6 956.4 L1195.2 955.7 L1195.8 956 L1197 956 L1197.8 955.8 L1198.8 955.9 L1199 956 L1199.8 955.8 L1200.5 956 L1201.8 955.9 L1202.2 955.9 L1203.6 956 L1203.8 955.4 L1204 955.7 L1205.8 955.9 L1207 956.2 L1207.5 956 L1207.8 956.1 L1209.8 956.1 L1211.8 955.9 L1212.6 956.2 L1213.8 956.2 L1214.5 956.3 L1214.8 955.6 L1215.8 956.4 L1217.1 955.7 L1217.8 956 L1219.3 956 L1219.8 956 L1221.5 956.1 L1221.8 955.7 L1223 956.1 L1223.8 955.9 L1225.8 956.1 L1226.1 956.1 L1227.8 956 L1228.3 956.2 L1229.8 956 L1230.6 955.9 L1231 956.1 L1231.8 955.8 L1232.8 956 L1233.8 956.1 L1235.1 956.2 L1235.5 956 L1235.8 956 L1237.3 955.8 L1237.8 955.9 L1239.6 955.7 L1239.8 956.1 L1241.8 956.1 L1242.5 955.6 L1243.8 956.1 L1244.1 955.9 L1245.8 956.3 L1246.3 955.9 L1247.8 955.9 L1248.6 955.6 L1249.5 955.9 L1249.8 956 L1250 955.9 L1250.8 956 L1251.8 956.2 L1253.1 956.1 L1253.8 955.9 L1255.3 956 L1255.8 956.1 L1256.5 955.7 L1257 956 L1257.6 956 L1257.8 955.9 L1259.8 956 L1261.8 956.1 L1262.1 955.9 L1263.8 955.8 L1264 956 L1264.3 956 L1265.8 955.7 L1266.6 955.7 L1267.8 955.4 L1268.8 955.1 L1269.8 955 L1271 954.5 L1271.8 954.3 L1273.3 953.5 L1273.8 953.6 L1274.7 953.2 L1275.6 952.8 L1275.8 953.1 L1277.8 953.5 L1279.8 954 L1280.1 954.4 L1281.8 955 L1282.3 955.5 L1282.7 955.3 L1283.8 955.6 L1284.6 955.2 L1285 955.6 L1285.8 956.1 L1286.8 956.1 L1287.8 955.8 L1289.1 956.1 L1289.8 956 L1290.7 956 L1291.3 955.9 L1291.8 956.2 L1292 955.9 L1293.6 956.1 L1293.8 955.9 L1295.8 955.9 L1297.8 955.9 L1298.1 956 L1298.7 955.8 L1299 955.5 L1299.8 955.5 L1300.3 955.9 L1300.8 955.8 L1301.8 955.9 L1302.5 955.8 L1303.8 956.4 L1304.2 956.1 L1304.8 956 L1305.8 956 L1306 955.8 L1306.7 956.2 L1307.1 956 L1307.8 955.7 L1309.3 956 L1309.8 956.1 L1311.2 955.9 L1311.6 956.3 L1311.8 956.3 L1313 955.9 L1313.8 955.8 L1314.7 956.3 L1315.8 956 L1316.1 956.2 L1316.5 956 L1317.8 956.2 L1318.2 955.7 L1319.8 956 L1320 956 L1320.6 956 L1321.8 955.9 L1322.7 956.2 L1323.5 956.2 L1323.8 955.9 L1325.1 956.1 L1325.8 956 L1327 956.2 L1327.3 956.1 L1327.8 955.9 L1328.8 955.9 L1329.6 955.9 L1329.8 956.1 L1330.5 955.8 L1330.7 955.8 L1331.8 956 L1332.2 956 L1332.7 955.9 L1333.8 955.9 L1334 955.7 L1334.7 956.2 L1335.8 955.9 L1336.3 955.8 L1336.7 955.6 L1337.5 955.4 L1337.8 955.8 L1338.6 955.7 L1339.2 955.4 L1339.8 955.3 L1340.7 955.9 L1341 955.2 L1341.8 954.8 L1342.7 954.7 L1343.8 954.2 L1344.5 953.5 L1344.7 953.3 L1345.8 952 L1346.2 951.9 L1346.7 951.6 L1347.6 951.2 L1347.8 950.9 L1348 951 L1348.7 951.5 L1349.8 951.9 L1350.7 953 L1351.5 953.8 L1351.8 953.8 L1352.7 954.6 L1353.2 954.7 L1353.8 954.9 L1354.7 955.2 L1355 955.7 L1355.8 955.4 L1356.6 955.5 L1357.8 955.3 L1358 955.9 L1358.5 955.6 L1358.7 955.7 L1359.8 955.9 L1360.2 955.6 L1360.7 955.7 L1361.8 955.7 L1362 956.1 L1362.7 955.6 L1363.8 956.1 L1364.7 955.9 L1365.5 956.1 L1365.8 955.9 L1366 956.2 L1366.7 956.2 L1367.2 955.9 L1367.8 955.9 L1368.7 956.2 L1369 956.1 L1369.8 955.8 L1370.7 956.3 L1371.8 956.2 L1372.5 956.1 L1372.7 955.8 L1373.8 956 L1374 955.7 L1374.2 955.8 L1374.6 955.8 L1375.8 955.9 L1376 956.2 L1376.7 955.7 L1377.8 955.5 L1378.7 955.7 L1379.5 955.4 L1379.8 955.2 L1380.7 955.2 L1381.2 954.7 L1381.8 954.6 L1382 954.4 L1382.7 954.3 L1383 954.4 L1383.6 953.9 L1383.8 953.9 L1384.7 952.9 L1385.8 952.6 L1386.5 952.3 L1386.7 952.7 L1387.8 952.6 L1388.2 952.7 L1388.7 953.2 L1389.8 953.6 L1390 954 L1390.7 954.6 L1391.8 954.9 L1392.6 955.3 L1393.5 955.6 L1393.8 955.4 L1394.7 955.5 L1395.2 955.4 L1395.8 955.8 L1396.7 955.3 L1397 955.5 L1397.8 956.1 L1398 955.9 L1398.7 956.1 L1399.8 955.7 L1400.7 956 L1401.6 956.1 L1401.8 956 L1402.7 956 L1403.8 956.2 L1404 955.9 L1404.7 955.8 L1405.8 956 L1406 956.2 L1406.7 956 L1407.8 956.3 L1408.7 956 L1409.8 955.6 L1410.7 956 L1411 955.7 L1411.8 956.3 L1412.7 955.9 L1413.8 956.1 L1414 955.5 L1414.7 956.2 L1415.8 955.9 L1416 955.9 L1416.7 956 L1417.8 956.1 L1418 955.9 L1418.7 956 L1419.8 955.6 L1420 956.2 L1420.7 956.1 L1421.8 955.9 L1422 955.8 L1422.7 955.9 L1423.8 955.9 L1424 956.1 L1424.7 956 L1425 956.1 L1425.8 956.1 L1426 956.2 L1426.7 956.2 L1427.8 956.2 L1428 955.9 L1428.7 955.9 L1429.8 955.7 L1430 955.9 L1430.7 956.1 L1431.8 956.1 L1432 956.2 L1432.7 956.3 L1433.8 956.3 L1434 956.1 L1434.7 956 L1435.8 956.3 L1436 956.2 L1436.7 955.6 L1437.8 956.2 L1438 956.1 L1438.7 955.8 L1439 956.3 L1439.8 956.1 L1440 956 L1440.7 956.2 L1441.8 956.1 L1442 955.7 L1442.7 955.7 L1443.8 956.1 L1444 955.9 L1445.8 956 L1446 956 L1447.8 956 L1448 956 L1449.8 956.1 L1450 955.9 L1450.7 956 L1451.8 956.1 L1452 956 L1453.8 955.7 L1454 955.9 L1455.8 955.8 L1456 955.8 L1457.8 956.1 L1458 956 L1458.7 955.7 L1459.8 956.1 L1460 955.8 L1461.8 956 L1462 955.9 L1463.8 955.7 L1464 955.6 L1465.8 955 L1466 955 L1466.7 955 L1467.8 954.8 L1468 954.5 L1469.8 954.1 L1470 954 L1471.8 954.2 L1472 954.2 L1473.8 955.1 L1474 955.3 L1474.7 955.2 L1475.8 955.5 L1476 955.4 L1477.8 955.6 L1478 956.3 L1479.8 956.1 L1480 955.9 L1481.8 956 L1482 956 L1482.7 956.1 L1483.8 956.1 L1484 956.4 L1485.8 956.1 L1486 955.9 L1487.8 956.5 L1488 956.2 L1489.8 956 L1490 956.1 L1490.7 955.9 L1491.8 956 L1492 955.7 L1493.8 956.2 L1494 956.3 L1495.8 956.3 L1496 956.3 L1497.8 956.1 L1498 956 L1498.7 956 L1499.8 956.3 L1500 956.1 L1501.8 956.1 L1502 956 L1503.8 956.5 L1504 956.1 L1505.8 955.8 L1506 956 L1507.8 956.2 L1508 956.1 L1509.8 956.4 L1510 955.5 L1511.8 956.2 L1512 955.8 L1513.8 956.2 L1514 956.1 L1515.8 956.2 L1516 956.2 L1517.8 956.1 L1518 956.5 L1519.8 956.2 L1520 956 L1521.8 956.2 L1522 956.3 L1523.8 956 L1524 955.9 L1525.8 955.8 L1526 956.1 L1527.8 956.3 L1529.8 956 L1531.8 956.1 L1533.8 956.7 L1534 956.2 L1535.8 956.3 L1537.8 956 L1539.8 956.1 L1541.8 956.1 L1542 956.1 L1543.8 956.1 L1545 956.3 L1545.8 956.1 L1547.8 956.2 L1549.8 956.1 L1550 956.4 L1551.8 956.3 L1552 956.2 L1553.8 956.3 L1555.8 956.1 L1557.8 956.2 L1558 956.3 L1559 955.9 L1559.8 956.1 L1561.8 956.3 L1563.5 956.7 L1563.8 956 L1565.8 956.3 L1566 956.2 L1567.8 956 L1569.8 956.3 L1571.5 956.2 L1571.8 956.2 L1573 955.8 L1573.8 956.2 L1574 956.3 L1575.8 956.3 L1577.8 956.1 L1579.5 956.3 L1579.8 956.4 L1580 956 L1581.8 956.3 L1582 956.1 L1583.8 955.9 L1585.8 956 L1587 956.1 L1587.5 956.4 L1587.8 955.8 L1589.8 956.3 L1591.8 956.1 L1593.8 956.2 L1594 956.4 L1595.5 956.2 L1595.8 956 L1597.5 956.2 L1597.8 956.1 L1599.2 955.8 L1599.8 956 L1601 956.2 L1601.8 956.3 L1602.8 956.4 L1603.5 956.1 L1603.8 956 L1604.5 956 L1605.8 955.7 L1606.2 956.3 L1607.8 955.8 L1608 956.3 L1609.8 956 L1611.5 955.8 L1611.8 956.1 L1613.2 956.2 L1613.8 956.3 L1615 955.9 L1615.8 956.3 L1616.8 956.1 L1617.8 956 L1618.5 956 L1619.5 955.9 L1619.8 956.4 L1620.2 956.3 L1621.5 956.3 L1621.8 956.1 L1622 956 L1623.5 956 L1623.8 956.4 L1625.5 956 L1625.8 955.8 L1627.2 955.9 L1627.5 956.3 L1627.8 955.9 L1629 956.5 L1629.5 956.1 L1629.8 956.5 L1630.8 956.1 L1631.5 956.2 L1631.8 956.2 L1632.5 956.2 L1633.5 956.7 L1633.8 956.2 L1634.2 955.8 L1635.5 956 L1635.8 955.9 L1636 955.9 L1637.5 955.3 L1637.8 955.8 L1639.5 954.9 L1639.8 955.3 L1641.2 954.7 L1641.5 955 L1641.8 955.2 L1643 954.7 L1643.5 954.8 L1643.8 955 L1644.8 955 L1645.5 955.1 L1645.8 955.1 L1646.5 955.4 L1647.5 955.2 L1647.8 955.6 L1648.2 956 L1649.5 956.1 L1649.8 956 L1650 956.1 L1651.5 956.1 L1651.8 955.8 L1653.5 956.1 L1653.8 956.2 L1655.2 955.8 L1655.5 956.1 L1655.8 956.4 L1657 956.3 L1657.5 956.3 L1657.8 955.9 L1658.8 956 L1659.5 956.2 L1659.8 956.2 L1660.5 956.3 L1661.5 955.6 L1661.8 955.8 L1662.2 955.8 L1663.5 955.8 L1663.8 956.2 L1664 956.1 L1665.5 956.1 L1665.8 956.2 L1667.5 955.8 L1667.8 956 L1669.2 955.1 L1669.5 955.7 L1669.8 955.1 L1671 955.5 L1671.5 954.6 L1671.8 954.8 L1672.8 954.3 L1673.5 954 L1673.8 954.1 L1674.5 953.8 L1675.5 953.7 L1675.8 953.3 L1676.2 953.9 L1677.5 954.1 L1677.8 954.4 L1678 954.7 L1679.5 955.2 L1679.8 955 L1681.5 955.9 L1681.8 955.6 L1683.2 955.7 L1683.5 956.1 L1683.8 956 L1685 955.9 L1685.5 956 L1685.8 956.1 L1686.8 956 L1687.5 955.9 L1687.8 956.4 L1688.5 955.9 L1689.5 956.1 L1689.8 956 L1690.2 956.2 L1691.5 955.9 L1691.8 955.8 L1692 955.9 L1693.5 956 L1693.8 956.3 L1695.5 956 L1695.8 956.4 L1697.5 955.9 L1697.8 956.2 L1699 955.9 L1699.5 955.9 L1699.8 956.2 L1701.5 956.1 L1701.8 956.3 L1703.5 956.4 L1703.8 956.1 L1705.5 956.1 L1705.8 956.3 L1706 956.4 L1707.5 956.5 L1707.8 956.1 L1709.5 956.3 L1709.8 956.2 L1711.5 955.9 L1711.8 956.6 L1713 956 L1713.5 955.9 L1713.8 956.1 L1715.5 956 L1715.8 955.8 L1717.5 956.1 L1717.8 956.1 L1719.5 956.2 L1719.8 956.5 L1720 956 L1721.5 956.2 L1721.8 956.5 L1723.5 956.2 L1723.8 956.1 L1725.5 955.9 L1725.8 956.1 L1727 956.5 L1727.5 956.1 L1727.8 955.9 L1729.5 956.1 L1729.8 956.3 L1731.5 955.9 L1731.8 955.9 L1733.8 956.2 L1734 956.2 L1735.8 956.2 L1737.8 956 L1739.5 956.3 L1739.8 956 L1741 956.2 L1741.8 956.4 L1743.8 956.3 L1745.8 956.1 L1747.5 956.3 L1747.8 956.5 L1749.8 956 L1751.8 956.1 L1753.8 956.2 L1755.5 955.8 L1755.8 956.1 L1757.8 956.2 L1759.8 956.1 L1761.8 956.3 L1763.5 956.1 L1763.8 956.4 L1765.8 956.2 L1767.8 956.1 L1769.8 956.2 L1771.5 956.2 L1771.8 956 L1773.8 956.2 L1775.8 956.1 L1777.8 955.6 L1779.5 956 L1779.8 956.2 L1781.8 955.9 L1783.8 956.4 L1785.8 955.8 L1787.5 956.1 L1787.8 956.3 L1789.8 956.1 L1791.8 956.3 L1793.8 956.2 L1795.8 956.2 L1797.8 956.3 L1799.8 956.2 L1801.8 956.1 L1803.8 955.8 L1805.8 956.2 L1807.8 956.3 L1809.8 956.2 L1811.8 956.3 L1813.8 956.2 L1815.8 956.3 L1817.8 956 L1819.8 956 L1821.8 956.2 L1823.8 956.7 L1825.8 956 L1827.8 956 L1829.8 956.1 L1831.8 956 L1833.8 956.4 L1835.8 956.3 L1837.8 956.3 L1839.8 956.1 L1841.8 956.2 L1843.8 955.8 L1845.8 956.3 L1847.8 956.1 L1849.8 956.2 L1851.8 956.8 L1853.8 956.2 L1855.8 956.5 L1857.8 956.4 L1859.8 956.3 L1861.8 956.3 L1863.8 956.1 L1865.8 956.1 L1867.8 956 L1869.8 956.2 L1871.8 955.9 L1873.8 956.1 L1875.8 956.3 L1877.8 956.3 L1879.8 956.3 L1881.8 956.3 L1883.8 956.5 L1885.8 956 L1887.8 956.1 L1889.8 956.2 L1891.8 956.4 L1893.8 956.4 L1895.8 956.3 L1897.8 956.4 L1899.8 956.2 L1901.8 956.5 L1903.8 956.3 L1905.8 956.2 L1907.8 956.7 L1909.8 956.4 L1911.8 956.2 L1913.8 956.4 L1915.8 956.2 L1917.8 956.1 L1919.8 955.9 L1921.8 956.2 L1923.8 956.3 L1925.8 956.3 L1927.8 956.3 L1929.8 956.2 L1931.8 956.4 L1933.8 956 L1935.8 956.3 L1937.8 956.1 L1939.8 956.2 L1941.8 956.5 L1943.8 956.1 L1945.8 956.3 L1947.8 956.5 L1949.8 956 L1951.8 956.6 L1953.8 955.9 L1955.8 956.2 L1957.8 956.7 L1959.8 956.2 L1961.8 956.3 L1963.8 956.4 L1965.8 956.2 L1967.8 956.5 L1969.8 956.5 L1971.8 956.4 L1973.8 956.3 L1975.8 956.3 L1977.8 956.4 L1979.8 956.4 L1981.8 956.1 L1983.8 956.1 L1985.8 956.3 L1987.8 956.2 L1989.8 956.1 L1991.8 956.5 L1993.8 956.3 L1995.8 956.4 L1997.8 956.4 L1999.8 956.2 L2001.8 956.4 L2003.8 956.5 L2005.8 956.4 L2007.8 956.3 L2009.8 956.2 L2011.8 956.2 L2013.8 955.8 L2015.8 956 L2017.8 956.4 L2019.8 956.2 L2021.8 956.5 L2023.8 956.1 L2025.8 956.8 L2027.8 956.6 L2029.8 956 L2031.8 956.1 L2033.8 956.2 L2035.8 956.3 L2037.8 956 L2039.8 956.2 L2041.8 956.3 L2043.8 956.3 L2045.8 956.2 L2047 956.3" fill="none" stroke="#0000ff" stroke-width="8.2" stroke-linejoin="round" stroke-linecap="butt"/>
<path d="M213.8 622 L215.8 627.7 L217.8 633.7 L219.8 638.7 L221.8 644.5 L223.8 649.2 L225.8 652.2 L227.8 654.9 L229.8 657.5 L231.8 658.2 L233.8 658.7 L235.8 659.3 L237.8 659.8 L239.8 660.1 L241.8 660.8 L243.8 660.9 L245.8 661.7 L247.8 661.7 L249.8 662.2 L251.8 662.5 L253.8 662.9 L255.8 663.3 L257.8 664 L259.8 664.1 L261.8 664 L263.8 664.4 L265.8 665.2 L267.8 665.3 L269.8 666 L271.8 666.2 L273.8 666.6 L275.8 666.5 L277.8 667.1 L279.8 667.2 L281.8 668.1 L283.8 668.3 L285.8 668.5 L287.8 668.1 L289.8 668.3 L291.8 668.9 L293.8 668.6 L295.8 668.9 L297.8 669.4 L299.8 669 L301.8 669.6 L303.8 669.8 L305.8 669.8 L307.8 669.9 L309.8 670.3 L311.8 670.5 L313.8 670.6 L315.8 670.9 L317.8 671.2 L319.8 671.2 L321.8 671.2 L323.8 671.4 L325.8 671.5 L327.8 672.3 L329.8 671.8 L331.8 672.3 L333.8 672.5 L335.8 673 L337.8 673 L339.8 673 L341.8 673.6 L343.8 673.3 L345.8 673.7 L347.8 673.6 L349.8 673.7 L351.8 674.7 L353.8 674.7 L355.8 674.5 L357.8 674.7 L359.8 674.8 L361.8 674.5 L363.8 675 L365.8 674.9 L367.8 675.1 L369.8 675.1 L371.8 675.7 L373.8 675.5 L375.8 675.2 L376.5 675.3 L377.8 675.5 L379.1 675.7 L379.8 675.5 L381.7 675.4 L383.8 675.9 L384.3 675.5 L385.8 675.6 L386.9 675.7 L387.8 675.3 L389.5 675.5 L389.8 675.6 L391.8 675 L392.1 675.5 L392.8 675.7 L393.4 675 L393.8 674.5 L394.1 674.9 L394.7 675 L395.4 674.7 L395.8 674.9 L396.6 675 L397.3 674.6 L397.8 674.5 L398.6 674.1 L399.2 674 L399.8 673.7 L400.6 673.1 L401.2 672.4 L401.8 671.9 L402.5 671.1 L403.1 670.2 L403.8 669 L404.4 667.1 L405.1 664.4 L405.8 660.6 L406.4 655.7 L407.1 647.5 L407.7 634.9 L408.4 611.4 L409 570.1 L409.6 506.1 L410.3 463.4 L410.9 506.1 L411.6 570 L412.2 611.4 L412.9 634.8 L413.6 647.7 L413.8 651.3 L414.2 655.6 L414.9 661.3 L415.5 664.9 L415.8 666.4 L416.1 667.3 L416.8 669.2 L417.4 670.8 L417.8 671.3 L418.1 671.7 L418.8 673 L419.4 673.6 L419.8 673.5 L420.1 674 L420.7 674.4 L421.4 675.1 L421.8 675.3 L422.6 675.6 L423.3 675.6 L423.8 676 L424.6 676.1 L425.2 676.2 L425.8 676.2 L426.6 676.8 L427.2 676.5 L427.8 676.9 L428.5 676.6 L429.8 677.1 L431.1 677.3 L431.8 677.5 L433.7 677.4 L435.8 677.9 L436.3 677.8 L437.8 678 L438.9 677.7 L439.8 677.8 L441.5 678.3 L441.8 678.4 L443.8 678.1 L444.1 678.3 L445.8 678.5 L446.7 678.5 L447.8 678.5 L449.8 678.7 L451.8 679 L453.8 679.1 L455.8 679 L457.8 678.5 L459.8 679.6 L461.8 679.5 L463.8 679.3 L465.8 679.4 L467.8 679.4 L469.8 679.8 L471.8 679.8 L473.8 679.7 L475.8 679.9 L477.8 679.8 L479.8 680.3 L481.8 680.5 L483.8 680.6 L485.8 680.5 L487.8 680.5 L489.8 680.9 L491.8 680.6 L493.8 680.7 L495.8 681 L497.8 680.9 L499.8 680.8 L501.8 681.4 L503.8 680.9 L505.8 681.5 L507.8 681.3 L509.8 681.4 L511.8 681.6 L513.8 681.4 L515.8 681.7 L517.8 681.8 L519.8 681.7 L521.8 682 L523.8 681.9 L525.8 682.3 L527.8 682.3 L529.8 682.4 L531.8 682.4 L533.8 682.6 L535.8 682.8 L537.8 682.3 L539.8 682.3 L541.8 682.5 L543.8 682.3 L545.8 682.5 L547.8 682.9 L549.8 682.6 L551.8 682.7 L553.8 683.4 L555.8 682.8 L557.8 683 L559.8 683.2 L561.8 683.5 L563.8 683.5 L565.8 683.4 L567.8 683.6 L569.8 683.6 L571.8 683.4 L573.8 683.6 L575.8 683.8 L577.8 683.5 L579.8 683.8 L581.8 683.8 L583.8 683.9 L585.8 683.7 L587.8 683.7 L589.8 684 L591.8 684.2 L593.8 684.3 L595.8 684.1 L597.8 684.2 L599.8 684.2 L601.8 683.9 L603.8 684.3 L605.8 683.8 L607.8 684.4 L609.8 684.5 L611.8 684.8 L613.8 684.4 L615.8 684.8 L617.8 684.7 L619.8 684.6 L621.8 684.6 L623.8 684.5 L625.8 684.5 L627.8 684.2 L629.8 684.9 L631.8 684.4 L633.8 684.6 L635.8 684.7 L637.4 684.9 L637.8 684.9 L639.8 684.8 L641.4 685 L641.8 684.6 L643.8 685.2 L645.4 684.7 L645.8 684.9 L647.8 684.5 L649.4 685.1 L649.8 684.8 L651.8 685.1 L653.4 684.8 L653.8 684.8 L655.8 684.9 L657.4 684.9 L657.8 685.1 L659.8 685 L661.4 684.9 L661.8 685.2 L663.8 685.1 L665.4 684.9 L665.8 684.7 L666.4 684.9 L667.4 685 L667.8 685 L668.4 685.4 L669.4 684.8 L669.8 685.5 L670.4 685 L671.4 685 L671.8 685.1 L672.4 685.5 L673.4 685 L673.8 685.1 L674.4 684.8 L675.4 684.6 L675.8 685 L676.4 684.9 L677.4 684.6 L677.8 684.7 L678.4 684.7 L679.4 684.6 L679.8 684.4 L680.4 684.7 L681.4 683.7 L681.8 684.4 L682.4 684.2 L683.4 683.6 L683.8 683.3 L684.4 683.4 L685.4 682.8 L685.8 681.8 L686.4 681.8 L687.4 680.9 L687.8 680.2 L688.4 678.7 L689.4 675.3 L689.8 673.1 L690.4 668.3 L691.4 655.8 L691.8 648.9 L692.4 637.1 L693.4 625.7 L693.8 628 L694.4 637.4 L695.4 655.4 L695.8 661.3 L696.4 668.3 L697.4 675.4 L697.8 677.3 L698.4 678.8 L699.4 681 L699.8 681.7 L700.4 682.4 L701.4 682.9 L701.8 683.2 L702.4 683.7 L703.4 684.2 L703.8 684.2 L704.4 684.2 L705.4 684.4 L705.8 684.5 L706.4 684.8 L707.4 684.9 L707.8 685.5 L708.4 684.9 L709.4 685 L709.8 685.3 L710.4 685.3 L711.4 685.5 L711.8 685.1 L712.4 685.6 L713.4 685.7 L713.8 685.5 L714.4 685.1 L715.4 685.2 L715.8 685.9 L716.4 685.6 L717.4 685.2 L717.8 685.3 L718.4 685.3 L719.4 685.9 L719.8 685.9 L720.4 685.9 L721.4 685.7 L721.8 685.7 L723.8 685.6 L725.4 685.7 L725.8 686 L727.8 686 L729.4 685.7 L729.8 685.9 L731.8 686.3 L733.4 686 L733.8 685.9 L735.8 685.9 L737.4 685.7 L737.8 686.1 L739.8 686.2 L741.4 686.3 L741.8 686.3 L743.8 685.9 L745.4 686.3 L745.8 686.2 L747.8 686.3 L749.4 686 L749.8 686.5 L751.8 686 L753.8 686.5 L755.8 686.2 L757.8 686.6 L759.8 686.4 L761.8 686.2 L763.8 686.1 L765.8 686.2 L767.8 686.3 L769.8 686.1 L771.8 686.3 L773.8 686.8 L775.8 686 L777.8 686 L779.8 686.4 L781.8 686.5 L783.8 686.4 L785.8 686.4 L787.8 686.7 L789.8 686.8 L791.8 686.7 L793.8 686.4 L795.8 686.7 L797.8 686.7 L799.8 686.3 L801.8 686.6 L803.8 686.3 L805.8 686.4 L807.8 686.5 L809.8 686.4 L811.8 686.5 L813.8 686.8 L815.8 686.5 L817.8 686.9 L819.8 686.7 L821.8 686.7 L823.8 686.6 L825.8 686.8 L827.8 686.8 L829.8 687.2 L831.8 686.7 L833.8 686.6 L835.8 686.4 L837.8 686.7 L839.8 686.8 L841.8 687 L843.8 686.7 L845.8 687 L847.8 686.5 L849.8 686.8 L851.8 686.9 L853.8 686.9 L855.8 686.9 L857.8 687.1 L859.8 686.9 L861.8 686.8 L863.8 687.1 L865.8 687.1 L867.8 686.4 L869.8 687.1 L871.8 687 L873.8 687.3 L875.8 687 L877.8 687.2 L879.8 687.2 L881.8 687 L883.8 687.1 L885.8 686.6 L887.8 687.1 L889.8 687.2 L891.8 687 L893.8 686.7 L895.8 686.8 L897.7 687 L899.8 687.2 L901.8 687 L903.7 687.1 L905.8 687.4 L907.8 687.1 L909.7 687.4 L911.8 687 L913.8 687.5 L915.7 687 L917.8 687 L919.8 687.2 L921.7 687.2 L923.8 687 L925.8 687.1 L927.7 687.4 L929.8 687.4 L931.8 687.3 L933.7 687.3 L935.8 687.4 L937.8 687.5 L939.7 687.1 L941.2 687.4 L941.8 687.2 L942.7 687.2 L943.8 687.4 L944.2 687.4 L945.7 687.5 L947.2 687.1 L947.8 686.9 L948.7 686.9 L949.8 686.9 L950.2 687.1 L951.7 687.4 L953.2 687.3 L953.8 687.7 L954.7 687.1 L955.8 687.1 L956.2 687.2 L957.7 687.7 L959.2 687.1 L959.8 687.1 L960.7 687.2 L961.8 687.6 L962.2 687.2 L963.7 687.4 L965.2 687.2 L965.8 687.3 L966.7 687.2 L967.8 687.2 L968.2 687.3 L969.7 687.4 L971.2 687.1 L971.8 687.2 L972.7 687.1 L973.8 687 L974.2 686.7 L975.7 686.5 L977.2 685.5 L977.8 684.3 L978.7 683.1 L979.8 680.7 L980.2 679.8 L981.7 678.4 L983.2 680.1 L983.8 681.5 L984.7 683 L985.8 684.5 L986.2 685.1 L987.3 686.3 L987.7 685.9 L988.8 686.9 L989.2 687 L989.8 686.9 L990.3 686.9 L990.7 687.1 L991.8 687.2 L992.2 687 L993.3 687.3 L993.7 687.2 L994.8 687.7 L995.2 687.4 L995.8 687.8 L996.3 687.2 L996.7 687.8 L997.8 687.1 L998.2 687.1 L999.3 687.3 L999.7 687.3 L1000.8 687.5 L1001.2 687.5 L1001.8 687.5 L1002.3 687.3 L1002.7 687.5 L1003.8 687.6 L1004.2 687.5 L1005.3 687.6 L1005.7 687.7 L1006.8 687.5 L1007.2 687.4 L1007.8 687.4 L1008.3 687.6 L1008.7 687.8 L1009.8 687.6 L1010.2 687.6 L1011.3 687.4 L1011.7 687.4 L1012.8 687.7 L1013.2 687.6 L1013.8 687.6 L1014.3 687.4 L1014.7 687.7 L1015.8 687.5 L1016.2 687.6 L1017.3 687.1 L1017.7 687.6 L1018.8 687.9 L1019.2 687.7 L1019.5 687.6 L1019.8 687.6 L1020.3 687.6 L1020.7 687.4 L1021.8 687.1 L1022.2 687.2 L1023.3 686.8 L1023.7 686.8 L1024.8 686.1 L1025.8 685.4 L1026.3 685.4 L1026.5 684.5 L1027.8 684.8 L1029.3 685.4 L1029.7 685.6 L1030.8 686.3 L1031.8 686.6 L1032.3 686.7 L1033.5 687.2 L1033.8 687 L1035.3 687.5 L1035.7 687.4 L1036.8 687.9 L1037.8 687.7 L1038.3 687.7 L1039.8 687.1 L1040.5 687.7 L1041.3 687.3 L1041.7 687.4 L1042.8 687.6 L1043.8 687.7 L1044.3 687.7 L1045.8 687.6 L1047.3 687.7 L1047.5 687.6 L1047.7 687.9 L1048.8 687.6 L1049.8 687.7 L1050.3 687.5 L1051.8 687.5 L1053.3 687.3 L1053.7 687.6 L1054.5 687.3 L1054.8 687.6 L1055.8 687.6 L1056.3 687.4 L1057.8 688.1 L1059.3 687.8 L1059.7 687.9 L1060.5 687.9 L1060.8 687.4 L1061.5 687.8 L1061.8 687.8 L1062.3 687.5 L1063.8 687.6 L1065.3 687.7 L1065.7 687.5 L1066.8 688 L1067.5 687.5 L1067.8 687.7 L1068.3 687.8 L1068.5 688 L1069.8 688.1 L1070.2 687.7 L1071.8 687.5 L1072 687.6 L1073.8 687.4 L1074.5 687.7 L1075.5 687.8 L1075.8 687.7 L1077.2 687.5 L1077.8 687.6 L1079 687.8 L1079.8 687.5 L1080.8 687.6 L1081.5 687.7 L1081.8 687.9 L1082.5 687.7 L1083.8 688 L1084.2 687.8 L1085.8 687.4 L1086 687.9 L1087.8 687.4 L1088.5 687.8 L1089.5 687.9 L1089.8 687.8 L1091.2 687.6 L1091.8 687.7 L1093 687.6 L1093.8 687.8 L1094.8 687.6 L1095.5 687.7 L1095.8 687.8 L1096.5 687.6 L1097.8 687.3 L1098.2 687.7 L1099.8 687.8 L1100 687.9 L1101.8 687.7 L1102.5 687.8 L1103.5 687.5 L1103.8 687.6 L1105.2 687.9 L1105.8 687 L1107 687.4 L1107.8 687.1 L1108.8 687.4 L1109.5 687.3 L1109.8 687.2 L1110.5 687.2 L1111.2 686.8 L1111.8 686.2 L1112.2 686.1 L1113 686 L1113.8 685.2 L1114 685 L1114.8 684.1 L1115.8 683 L1116.5 682.5 L1117.5 681.5 L1117.8 681.9 L1118.2 682.1 L1119.2 682.9 L1119.8 683.7 L1120 683.7 L1121 684.5 L1121.8 685.6 L1122.8 686.3 L1123.5 686.3 L1123.8 687.4 L1124.5 687 L1125.2 687.5 L1125.8 687.2 L1126.2 687.4 L1127 687.8 L1127.8 687.3 L1128 687.5 L1128.8 687.8 L1129.8 687.3 L1130.5 687.7 L1131.5 687.8 L1131.8 687.8 L1132.2 687.9 L1133.2 688 L1133.8 687.5 L1134 687.8 L1135 687.3 L1135.8 687.8 L1136.8 687.6 L1137.5 687.2 L1137.8 687.8 L1138.5 687.8 L1139.2 687.4 L1139.8 687.5 L1140.2 687.9 L1141 687.3 L1141.8 687.6 L1142 687.7 L1142.8 687.5 L1143.8 687.4 L1144.5 687.5 L1145.5 687.3 L1145.8 687.5 L1146.2 687.7 L1147.2 687.5 L1147.8 687.6 L1148 687.4 L1149 687.4 L1149.8 687.4 L1150.8 686.9 L1151.5 686.7 L1151.8 686.4 L1152.5 686.1 L1153.2 685.2 L1153.8 684.8 L1154.2 683.9 L1155 683.2 L1155.8 681.6 L1156 680.7 L1156.8 679.5 L1157.8 678.4 L1158.5 678.2 L1159.5 678.7 L1159.8 679 L1160.2 680.1 L1161.2 681.6 L1161.8 682.5 L1162 682.9 L1163 684.6 L1163.6 685.2 L1164.8 686.3 L1165.5 686.6 L1165.8 686.8 L1166.5 687.2 L1167.2 687.5 L1167.8 687.3 L1169 687.6 L1169.8 687.3 L1170.8 687.9 L1171.6 687.5 L1171.8 687.9 L1172.5 687.7 L1173.5 687.6 L1173.8 687.4 L1174.2 688.1 L1175.8 687.6 L1176 687.8 L1177.8 687.7 L1179.5 687.8 L1179.8 688.1 L1180.5 687.5 L1181.2 687.8 L1181.8 688 L1183 688.2 L1183.8 688 L1184.8 687.6 L1185.8 687.8 L1186.5 688.2 L1187.5 687.9 L1187.8 688.3 L1188.2 688 L1189.8 687.7 L1190 687.8 L1191.8 687.6 L1193.5 688 L1193.8 688 L1194.5 687.7 L1195.2 687.8 L1195.6 688 L1195.8 688 L1197 687.8 L1197.8 687.7 L1198.8 688 L1199.8 687.9 L1200.5 687.9 L1201.5 688 L1201.8 688.2 L1202.2 688.2 L1203.6 687.8 L1203.8 688.2 L1204 688 L1205.8 687.9 L1207.5 687.8 L1207.8 688 L1208.5 688.2 L1209.8 687.7 L1211.6 687.6 L1211.8 688 L1213.8 688.1 L1214.5 688.1 L1215.5 688.2 L1215.8 688.3 L1217.8 687.9 L1219.6 688.1 L1219.8 688 L1221.5 687.6 L1221.8 688.1 L1223.6 688 L1223.8 688 L1225.6 687.9 L1225.8 688.4 L1227.6 688.1 L1227.8 688.1 L1228.5 688.1 L1229.6 688 L1229.8 687.9 L1231.6 688.2 L1231.8 688.2 L1233.6 688 L1233.8 688.1 L1235.5 688.3 L1235.8 688 L1236 687.9 L1237.6 688.3 L1237.8 688.1 L1239.6 688.1 L1239.8 688 L1241.6 687.9 L1241.8 688.1 L1242.5 688.3 L1243.6 688.1 L1243.8 688 L1244 688.3 L1245.6 688.2 L1245.8 688 L1247.6 688.3 L1247.8 688 L1249.5 688.2 L1249.8 688.1 L1251.6 687.9 L1251.8 688 L1252 688.1 L1253.6 688.2 L1253.8 687.9 L1255.6 688.5 L1255.8 688.4 L1256.5 687.9 L1257.6 688.1 L1257.8 688.2 L1259.6 688.2 L1259.8 688 L1260 687.9 L1261.6 688 L1261.8 687.5 L1263.6 688.1 L1263.8 687.8 L1265.6 688 L1265.8 688 L1267.6 687.9 L1267.8 687.5 L1268 687.6 L1269.6 687 L1269.8 687.3 L1271.6 686.6 L1271.8 686.2 L1272 686.1 L1273.6 685.3 L1273.8 685.4 L1275.6 684.4 L1275.8 685.1 L1276 684.9 L1277.6 685.4 L1277.8 685.8 L1279.6 686.1 L1279.8 686.6 L1280 686.4 L1281.6 687.2 L1281.8 687.3 L1283.6 687.7 L1283.8 687.7 L1284 687.5 L1285.6 687.8 L1285.8 688 L1287.6 688.2 L1287.8 688.3 L1288 687.9 L1289.6 688.2 L1289.8 688.2 L1291.6 688.1 L1291.8 688.5 L1292 688.4 L1293.6 687.8 L1293.8 688.5 L1294 688.1 L1295.6 688 L1295.8 688.3 L1296 688.1 L1297.6 687.8 L1297.8 688.3 L1298 688.2 L1299.6 688.3 L1299.8 688 L1300 688.1 L1301.6 688.3 L1301.8 688.2 L1302 688.3 L1303.6 688.1 L1303.8 688.2 L1304 688.4 L1305.6 688.2 L1305.8 688.1 L1306 688.1 L1307.6 688.1 L1307.8 687.9 L1308 688.3 L1309.6 688 L1309.8 688.1 L1310 688.5 L1311.6 688.1 L1311.8 688.3 L1312 688.3 L1313.6 688.3 L1313.8 688.3 L1314 688.3 L1315.6 688.5 L1315.8 688.4 L1316 688.2 L1317.6 688.2 L1317.8 688.1 L1318 688.1 L1319.6 688.2 L1319.8 688.2 L1320 688.1 L1321.6 688.3 L1321.8 688.2 L1322 688.2 L1323.6 688.3 L1323.8 688.3 L1324 688.3 L1325.6 687.8 L1325.8 688.2 L1326 688.4 L1327.6 688.4 L1327.8 688.2 L1328 688.3 L1329.6 688.6 L1329.8 688.5 L1330 688.4 L1331.6 688 L1331.8 688.3 L1332 688.1 L1333.8 688.1 L1334 688.1 L1335.8 688 L1336 688.3 L1337.8 688 L1338 688.3 L1339.6 688.1 L1339.8 688 L1340 688.2 L1341.8 687.6 L1342 687.5 L1343 687.3 L1343.8 686.7 L1344 686.6 L1345.8 685.5 L1346 685.4 L1347.6 684.8 L1347.8 685 L1348 685 L1349.8 685.5 L1350 685.2 L1351 685.9 L1351.8 686.4 L1352 686.5 L1353.8 687.5 L1354 687.5 L1355.6 688.2 L1355.8 687.8 L1356 688.2 L1357.8 688.3 L1358 688 L1359 688.2 L1359.8 688.3 L1360 688.5 L1361.8 688.4 L1362 688.6 L1363.6 688.4 L1363.8 688.4 L1364 688.3 L1365.8 688.2 L1366 688.6 L1367 688.3 L1367.8 688.4 L1368 688.3 L1369.8 688.3 L1370 688.3 L1371.6 688.3 L1371.8 688.1 L1372 687.8 L1373.8 688.2 L1374 688 L1375 687.9 L1375.8 687.9 L1376 688.1 L1377.8 687.3 L1378 687.5 L1379.6 686.6 L1379.8 686.9 L1380 686.6 L1381.8 685.7 L1382 685.5 L1383 685 L1383.8 684.9 L1384 685 L1385.8 685.4 L1386 685.7 L1387.6 686.7 L1387.8 686.6 L1388 686.6 L1389.8 687.7 L1390 687.8 L1391 687.6 L1391.8 688.1 L1392 687.8 L1393.8 688.3 L1394 688.5 L1395.8 688.2 L1396 688.6 L1397.8 688.4 L1398 688.3 L1399 688.4 L1399.8 688 L1400 687.9 L1401 688.4 L1401.8 688.2 L1402 688.4 L1403 688.3 L1403.8 688.4 L1404 688.2 L1405 688.4 L1405.8 688.5 L1406 688.6 L1407 688.4 L1407.8 688.4 L1408 688.3 L1409 688.2 L1409.8 688.1 L1410 688.7 L1411 688.3 L1411.8 688.6 L1412 688.2 L1413 688.4 L1413.8 688.3 L1414 688.5 L1415 688.2 L1415.8 688.6 L1416 688.5 L1417 688.3 L1417.8 688.5 L1418 688.6 L1419 689 L1419.8 688.6 L1420 688.4 L1421 688.5 L1421.8 688.3 L1422 688.2 L1423 688.5 L1423.8 688.2 L1424 688.2 L1425 688.5 L1425.8 688.3 L1426 688.6 L1427 688.7 L1427.8 688.3 L1428 688.4 L1429 688.4 L1429.8 688.4 L1430 688.5 L1431 688.4 L1431.8 688.6 L1432 688.6 L1433 688 L1433.8 688.2 L1434 688.5 L1435 688.2 L1435.8 688.2 L1436 688.6 L1437 688.2 L1437.8 688.3 L1438 688.6 L1439 688.5 L1439.8 688.3 L1440 688.6 L1441 688.1 L1441.8 687.9 L1443 688.4 L1443.8 687.9 L1444 688.5 L1445 688.5 L1445.8 688.4 L1447 688.3 L1447.8 688.2 L1448 688.1 L1449 688.1 L1449.8 688 L1451 687.5 L1451.8 687 L1452 687.4 L1453 686.6 L1453.8 686.6 L1455 686.5 L1455.8 686.5 L1456 686.2 L1457 687 L1457.8 686.9 L1459 687.5 L1459.8 687.9 L1460 687.9 L1461 687.9 L1461.8 688.2 L1463 688.4 L1463.8 688.6 L1464 688.1 L1465 688.2 L1465.8 688.4 L1467 688.6 L1467.8 688.5 L1469 688.3 L1469.8 688.2 L1471 688.2 L1471.8 688.2 L1472 688.4 L1473 688.6 L1473.8 688.6 L1475 688.4 L1475.8 688.4 L1477 688.5 L1477.8 688.5 L1479 688.5 L1479.8 688.5 L1480 688.3 L1481 688.2 L1481.8 688.6 L1483 688.6 L1483.8 688.3 L1485 688.3 L1485.8 688.4 L1487 688.7 L1487.8 688.6 L1488 688.5 L1489 688.5 L1489.8 688.4 L1491 688.4 L1491.8 688.5 L1493 688.6 L1493.8 688.5 L1495 688.5 L1495.8 688.5 L1496 688.9 L1497 688.4 L1497.8 688.9 L1499 688.5 L1499.8 688.3 L1501 688.4 L1501.8 688.8 L1503 688.5 L1503.8 688.8 L1505 688.5 L1505.8 688.6 L1507 688.9 L1507.8 688.4 L1509 688.7 L1509.8 688.5 L1511 688.6 L1511.8 688.3 L1513.8 688.7 L1515.8 688.8 L1517.8 688.8 L1519 688.4 L1519.8 688.3 L1521.8 688.5 L1523.8 688.5 L1525.8 688.7 L1527 688.8 L1527.8 688.5 L1528 688.8 L1529.8 689.1 L1531.8 688.4 L1533.8 688.4 L1535 688.6 L1535.8 688.4 L1536 688.7 L1537.8 688.5 L1539.8 688.6 L1541.8 688.7 L1543 688.7 L1543.8 688.8 L1544 688.7 L1545.8 688.5 L1547.8 689 L1549.8 688.7 L1551 688.5 L1551.8 688.5 L1552 688.9 L1553.8 688.6 L1555.8 688.6 L1557.8 688.7 L1559 688.6 L1559.8 688.8 L1560 688.8 L1561 688.9 L1561.8 688.7 L1563.8 688.4 L1565.8 688.6 L1567 688.6 L1567.8 688.7 L1568 688.7 L1569 688.7 L1569.8 688.5 L1571.8 688.6 L1573.8 688.3 L1575.8 688.7 L1576 688.7 L1577 688.8 L1577.8 688.8 L1579.8 688.6 L1581.8 688.8 L1583.8 688.5 L1584 688.6 L1585 688.5 L1585.8 688.7 L1586 688.7 L1587.8 688.7 L1588 688.6 L1589.8 688.4 L1590 689.1 L1591.8 688.5 L1592 688.7 L1593 688.9 L1593.8 688.1 L1594 688.3 L1595.8 688.9 L1596 688.3 L1597.8 688.8 L1598 688.8 L1599.8 688.9 L1600 688.6 L1601 688.8 L1601.8 688.6 L1602 688.6 L1603.8 688.5 L1604 688.5 L1605.8 688.6 L1606 689 L1607.8 688.5 L1608 688.7 L1609 688.8 L1609.8 688.5 L1610 688.8 L1611.8 688.9 L1612 688.8 L1613.8 688.3 L1614 688.4 L1615.8 688.9 L1616 688.5 L1617 688.7 L1617.8 688.7 L1618 688.9 L1619 688.9 L1619.8 688.6 L1620 688.8 L1621 688.4 L1621.8 688.8 L1622 688.4 L1623 689 L1623.8 688.3 L1624 688.9 L1625 688.6 L1625.8 688.9 L1626 688.7 L1627 688.3 L1627.8 688.7 L1628 688.4 L1629 688.2 L1629.8 688.8 L1630 688.4 L1631 688.5 L1631.8 688.2 L1632 688.7 L1633 688.5 L1633.8 687.8 L1634 688.1 L1635 687.8 L1635.8 687.7 L1636 687.5 L1637 687.3 L1637.8 686.8 L1638 686.9 L1639 686.5 L1639.8 686.7 L1640 686.7 L1641 687 L1641.8 687 L1642 686.6 L1643 687.4 L1643.8 687.7 L1644 687.6 L1645 687.8 L1645.8 687.9 L1646 688.2 L1647 688.4 L1647.8 688 L1648 688.7 L1649 688.4 L1649.8 688.4 L1650 688.3 L1651 688.7 L1651.8 688.5 L1652 688.6 L1653 688.9 L1653.8 689 L1654 688.5 L1655 688.7 L1655.8 688.6 L1656 689 L1657 688.7 L1657.8 688.7 L1658 688.7 L1659 688.6 L1659.8 688.3 L1660 688.8 L1661 688.3 L1661.8 688.3 L1662 688.3 L1663 688.1 L1663.8 688.6 L1664 688.4 L1665 688.4 L1665.8 688.3 L1666 688.3 L1667 687.9 L1667.8 687.2 L1668 687.6 L1669 686.6 L1669.8 686.3 L1670 686.4 L1671 685.8 L1671.8 685.4 L1672 685.4 L1673 685.2 L1673.8 685.7 L1674 685.6 L1675 685.7 L1675.8 686 L1676 686.5 L1677 686.6 L1677.8 687 L1678 687.5 L1679 687.6 L1679.8 688.1 L1680 687.9 L1681 688 L1681.8 688.5 L1682 688.2 L1683 688.8 L1683.8 688.7 L1684 688.5 L1685 688.4 L1685.8 688.6 L1686 688.2 L1687 688.7 L1687.8 688.5 L1688 688.6 L1689 688.7 L1689.8 689.1 L1690 688.9 L1691 688.9 L1691.8 688.5 L1692 688.3 L1693 689 L1693.8 688.3 L1694 689 L1695 688.4 L1695.8 688.5 L1696 688.6 L1697 688.3 L1697.8 688.7 L1699 688.5 L1699.8 688.7 L1701 688.7 L1701.8 689.1 L1703 688.6 L1703.8 688.4 L1704 688.7 L1705 688.6 L1705.8 688.6 L1707 688.6 L1707.8 688.5 L1709 688.8 L1709.8 688.6 L1711 688.5 L1711.8 689 L1712 688.6 L1713 688.9 L1713.8 688.4 L1715 689.1 L1715.8 688.8 L1717 688.9 L1717.8 688.4 L1719 689 L1719.8 689 L1720 688.9 L1721 688.6 L1721.8 688.6 L1723 688.9 L1723.8 688.8 L1725 688.6 L1725.8 688.5 L1727 688.8 L1727.8 688.9 L1728 688.8 L1729 688.5 L1729.8 688.9 L1731.8 688.5 L1733.8 688.9 L1735.8 688.5 L1736 688.6 L1737 688.8 L1737.8 689 L1739.8 688.9 L1741.8 688.8 L1743.8 689 L1744 688.5 L1745 688.4 L1745.8 688.8 L1747.8 688.6 L1749.8 688.8 L1751.8 688.7 L1752 688.7 L1753 688.6 L1753.8 688.6 L1755.8 689.1 L1757.8 688.7 L1759.8 688.7 L1761 688.6 L1761.8 688.8 L1763.8 688.6 L1765.8 688.9 L1767.8 689 L1769 688.8 L1769.8 688.9 L1771.8 688.9 L1773.8 688.7 L1775.8 688.9 L1777 688.7 L1777.8 689 L1779.8 688.7 L1781.8 688.7 L1783.8 688.7 L1785 688.7 L1785.8 688.9 L1787.8 688.8 L1789.8 688.7 L1791.8 688.6 L1793.8 688.7 L1795.8 688.9 L1797.8 689 L1799.8 688.9 L1801.8 688.5 L1803.8 688.8 L1805.8 688.7 L1807.8 689 L1809.8 689 L1811.8 688.9 L1813.8 688.8 L1815.8 688.8 L1817.8 689.1 L1819.8 689.3 L1821.8 688.9 L1823.8 689 L1825.8 688.8 L1827.8 688.9 L1829.8 689 L1831.8 689.2 L1833.8 688.8 L1835 688.7 L1835.8 688.7 L1837.8 689.1 L1839.8 688.9 L1841.8 689 L1842 689 L1843.8 688.6 L1845.8 688.9 L1847.8 688.6 L1849 688.6 L1849.8 689 L1851.8 689 L1853.8 688.6 L1855.8 688.8 L1856 688.6 L1857.8 688.5 L1859.8 689 L1861.8 689 L1863 688.7 L1863.8 688.9 L1865.8 688.9 L1867.8 688.7 L1869.8 688.8 L1870 688.9 L1871.8 689.1 L1873.8 688.8 L1875.8 688.9 L1877 688.8 L1877.8 688.9 L1879.8 689.2 L1881.8 689.4 L1883.8 688.8 L1884 688.7 L1885.8 689 L1887.5 688.6 L1887.8 689.1 L1889.2 688.6 L1889.8 688.9 L1891 689 L1891.8 689.1 L1892.8 688.7 L1893.8 688.7 L1894.5 688.8 L1895.8 688.8 L1896.2 689.2 L1897.8 688.9 L1898 688.6 L1899.8 689.1 L1901.5 688.9 L1901.8 688.9 L1903.2 688.9 L1903.8 688.8 L1905 688.5 L1905.8 688.8 L1906.8 688.8 L1907.8 689.1 L1908.5 688.5 L1909.8 688.8 L1910.2 689.1 L1911.8 688.5 L1912 688.6 L1913.8 688.6 L1915.5 688.6 L1915.8 688.8 L1917.2 689.2 L1917.8 688.7 L1919 688.7 L1919.8 689.2 L1920.8 688.8 L1921.8 688.7 L1922.5 689.1 L1923.8 688.7 L1924.2 688.7 L1925.8 688.6 L1926 688.2 L1927.8 688.1 L1929.5 687.5 L1929.8 687.3 L1931.2 686.4 L1931.8 686.2 L1933 686.1 L1933.8 686.1 L1934.8 686.4 L1935.8 686.8 L1936.5 687.5 L1937.8 688 L1938.2 687.9 L1939.8 688.3 L1940 688.5 L1941.8 688.7 L1943.5 688.7 L1943.8 688.8 L1945.2 688.9 L1945.8 688.8 L1947 688.6 L1947.8 688.4 L1948.8 688.9 L1949.8 689 L1950.5 689 L1951.8 688.8 L1952.2 688.9 L1953.8 689 L1954 688.9 L1955.8 689.1 L1957.5 689.3 L1957.8 689.1 L1959.2 688.6 L1959.8 688.6 L1961 688.7 L1961.8 689.1 L1962.8 688.8 L1963.8 689 L1964.5 689.1 L1965.8 688.8 L1966.2 689.2 L1967.8 689.2 L1968 689.1 L1969.8 688.8 L1971.5 688.8 L1971.8 689 L1973.2 688.9 L1973.8 688.8 L1975 688.7 L1975.8 688.9 L1976.8 689.1 L1977.8 689 L1978.5 688.9 L1979.8 688.7 L1980.2 689.1 L1981.8 688.9 L1982 688.9 L1983.8 688.8 L1985.8 688.8 L1987.8 688.7 L1989 689.1 L1989.8 689 L1991.8 689 L1993.8 688.8 L1995.8 688.8 L1996 689 L1997.8 688.7 L1999.8 689.2 L2001.8 689 L2003 689 L2003.8 688.9 L2005.8 689.2 L2007.8 689.2 L2009.8 689 L2010 688.8 L2011.8 689 L2013.8 688.9 L2015.8 688.9 L2017 689.1 L2017.8 688.7 L2019.8 688.8 L2021.8 688.6 L2023.8 689.3 L2024 688.8 L2025.8 689.2 L2027.8 689.1 L2029.8 689.3 L2031 689.1 L2031.8 689.1 L2033.8 688.9 L2035.8 689.3 L2037.8 689.1 L2039.8 689.2 L2041.8 688.9 L2043.8 688.7 L2045.8 689.1 L2047 689" fill="none" stroke="#ff00ff" stroke-width="8.2" stroke-linejoin="round" stroke-linecap="butt"/>
<path d="M213.8 370.6 L215.8 376.5 L217.8 382.3 L219.8 387.3 L221.8 392.2 L223.8 398.2 L225.8 400.3 L227.8 403 L229.8 405.7 L231.8 406.2 L233.8 407.3 L235.8 407.5 L237.8 407.9 L239.8 408.4 L241.8 408.6 L243.8 409.1 L245.8 409.8 L247.8 409.5 L249.8 410.3 L251.8 410.2 L253.8 410.9 L255.8 411.1 L257.8 411.2 L259.8 411.4 L261.8 412.2 L263.8 412.4 L265.8 412.6 L267.8 412.9 L269.8 413.2 L271.8 413.5 L273.8 413.8 L275.8 414.4 L277.8 414.4 L279.8 414.8 L281.8 415.1 L283.8 415.5 L285.8 415.7 L287.8 416 L289.8 415.7 L291.8 416.2 L293.8 416.5 L295.8 416.9 L297.8 417.2 L299.8 417.4 L301.8 417.4 L303.8 418.1 L305.8 417.8 L307.8 418.4 L309.8 418.7 L311.8 418.7 L313.8 418.8 L315.8 419.6 L317.8 419.3 L319.8 419.5 L321.8 419.8 L323.8 420.3 L325.8 420.5 L327.8 420.4 L329.8 420.7 L331.8 421.3 L333.8 421.4 L335.8 421.4 L337.8 421.7 L339.8 421.9 L341.8 422.8 L343.8 422.5 L345.8 422.8 L347.8 423 L349.8 423 L351.8 423.2 L353.8 423.2 L355.8 424.2 L357.8 424.4 L359.8 424.1 L361.8 424.7 L363.8 424.7 L365.8 424.6 L367.8 424.7 L369.8 424.7 L371.8 424.8 L373.8 424.8 L375.5 424.7 L375.8 424.8 L377.8 424.7 L378.5 424.6 L379.5 424.8 L379.8 424.9 L381 424.9 L381.8 425.1 L383.5 425 L383.8 424.9 L385.8 424.9 L387.5 424.8 L387.8 424.7 L388.5 424.8 L389.8 424.5 L391 424.6 L391.5 424.9 L391.8 424.8 L393.5 424.2 L393.8 424.3 L394.1 424.4 L394.8 424.5 L395.4 424.1 L395.8 424.1 L396.6 423.8 L397.2 423.9 L397.8 423.5 L398.5 423.4 L399.1 423.2 L399.5 422.9 L399.8 422.9 L400.4 422.6 L401 422 L401.6 421.5 L402.2 420.4 L402.9 420.1 L403.5 419 L403.8 418.1 L404.1 417.7 L404.5 416.7 L404.8 416 L405.4 413.5 L405.8 411.2 L406.5 407.4 L407.2 399.7 L407.5 395.8 L407.8 391.3 L408.5 373 L409.1 344.9 L409.5 317.4 L409.8 293.5 L410.4 213.1 L411 160 L411.5 196.7 L412.2 293.4 L412.5 317.3 L412.9 345 L413.5 373.1 L413.8 382.1 L414.1 389.6 L414.5 396.4 L414.8 399.6 L415.4 406.2 L415.8 409.6 L416.5 413.7 L417.2 416.6 L417.5 417 L417.8 417.9 L418.5 419.3 L419.1 420.4 L419.5 420.9 L419.8 421.3 L420.4 421.4 L421 422.2 L421.5 422.8 L422.2 423.4 L422.5 423.8 L422.9 423.8 L423.5 423.8 L423.8 424 L424.1 424.4 L424.5 424.2 L424.8 424.5 L425.4 424.8 L425.8 424.5 L426.5 424.5 L427.2 424.6 L427.5 424.6 L427.8 424.3 L428.5 423.7 L429.5 422 L429.8 421.4 L430.5 419.6 L431 418.2 L431.5 418.3 L431.8 418.3 L432.5 419.5 L433.5 422.4 L433.8 423.1 L434.5 424.6 L435.5 425.8 L435.8 426.1 L436.5 426.3 L437.5 426.4 L437.8 426.4 L438.5 426.4 L439.5 426.6 L439.8 426.9 L440.5 427.1 L441 426.9 L441.5 427.1 L441.8 427.2 L442.5 427.1 L443.5 426.7 L443.8 426.9 L444.5 427.1 L445.5 427.3 L445.8 427.1 L446.5 427.4 L447.5 427.4 L447.8 427.3 L448.5 427 L449.5 427.2 L449.8 427.3 L450.5 427.4 L451.5 427.4 L451.8 427.6 L452.5 427.8 L453.5 427.7 L453.8 427.4 L454.5 427.5 L455.5 427.3 L455.8 427.6 L456.5 427.6 L457.5 427.5 L457.8 427.9 L458.5 427.5 L459.5 427.7 L459.8 427.6 L461.8 427.8 L463.5 427.7 L463.8 428 L465.8 427.6 L467.5 427.7 L467.8 427.8 L469.8 427.9 L471.5 428 L471.8 428.1 L473.8 428.2 L475.5 428.2 L475.8 428.4 L477.8 428 L479.5 428.3 L479.8 428.1 L481.8 428.3 L483.5 428.4 L483.8 428.2 L485.8 428.1 L487.5 428.5 L487.8 428.4 L489.8 428.7 L491.8 428.3 L493.8 428.3 L495.8 428.6 L497.8 428.6 L499.8 428 L501.8 428.4 L503.8 428.1 L505.8 428.6 L507.8 429.2 L509.8 429 L511.8 428.6 L513.8 428.4 L515.8 429 L517.8 428.9 L519.8 428.6 L521.8 428.8 L523.8 429.1 L525.8 429.2 L527.8 429.6 L529.8 429 L531.8 429 L533.8 429.2 L534.5 428.8 L535.8 429.6 L537.8 429 L539.5 429.5 L539.8 429.4 L541.8 429.2 L543.8 429.1 L544.5 429.9 L545.8 429.5 L547.8 429.8 L549.5 429.2 L549.8 429.5 L551.8 429.9 L552 429.5 L553.8 429.6 L554.5 429.4 L555.8 429.3 L557 429.5 L557.8 429.7 L559.5 429.8 L559.8 429.8 L561.8 430 L562 429.7 L563.8 429.5 L564.5 430.1 L565.8 429.9 L567 429.7 L567.8 429.7 L569.5 430.5 L569.8 429.8 L570.8 430 L571.8 429.8 L572 430.1 L573.2 430.2 L573.8 429.6 L574.5 430.4 L575.8 430.5 L577 429.9 L577.8 430.1 L578.2 430.3 L579.5 429.8 L579.8 430.5 L580.8 429.6 L581.8 430.3 L582 430.1 L583.2 429.9 L583.8 430.2 L584.5 430.5 L585.8 429.9 L587 430.2 L587.8 430.5 L588.2 430.7 L589.5 430.3 L589.8 430.7 L590.8 430.3 L591.8 430.6 L592 430.5 L593.2 430 L593.8 430.2 L594.5 429.8 L595.8 430 L597 430.1 L597.8 429.9 L598.2 430.3 L599.5 430.3 L599.8 430 L600.8 429.5 L601.8 429 L602 429 L603.2 427.8 L603.8 427.1 L604.5 426.9 L605.8 428.1 L607 429.1 L607.8 429.6 L608.2 429.8 L609.5 430.3 L609.8 430.1 L610.8 430.4 L611.8 430.7 L612 430.5 L613.2 430.6 L613.8 430.6 L614.5 430.5 L615.8 430.9 L617 430.9 L617.8 430.7 L618.2 430.2 L619.5 430.1 L619.8 430 L620.8 429 L621.8 429.5 L622 428.9 L623.2 429.4 L623.8 429.5 L624.5 429.7 L625.8 430.2 L627 430.4 L627.8 430.9 L628.2 430.9 L629.5 430.9 L629.8 430.8 L630.8 431 L631.8 431 L632 431.3 L633.2 430.8 L633.8 430.8 L634.5 431.1 L635.8 431 L637 431.1 L637.5 430.9 L637.8 430.9 L638.2 431.4 L639.5 430.7 L639.8 431.1 L640.8 431.4 L641.5 431.3 L641.8 430.8 L642 431.3 L643.2 431.2 L643.8 431.1 L644.5 431.4 L645.5 430.8 L645.8 431.1 L647 431.1 L647.8 431.2 L648.2 431.3 L649.5 430.8 L649.8 431 L650.8 431.2 L651.8 431.1 L652 431.2 L653.2 430.9 L653.5 431.4 L653.8 431.2 L654.5 431.2 L655.8 431 L657 431.1 L657.5 431.3 L657.8 431.6 L659.5 431.1 L659.8 431.2 L661.5 431.4 L661.8 431.2 L662 431.1 L663.8 431.5 L664.5 431 L665.5 431.1 L665.8 431.1 L666.5 431.1 L667 431.3 L667.5 431.1 L667.8 430.9 L668.5 431.3 L669.5 430.7 L669.8 431.3 L670.5 431 L671.5 431 L671.8 430.9 L672 431 L672.5 431.2 L673.5 431 L673.8 431.1 L674.5 430.7 L675.5 431.1 L675.8 430.9 L676.5 430.5 L677 430.6 L677.5 430.6 L677.8 430.7 L678.5 430.6 L679.5 430.4 L679.8 430.4 L680.5 430.4 L681.5 430.2 L681.8 429.8 L682 429.8 L682.5 430 L683.5 429.4 L683.8 429.5 L684.5 428.9 L685.5 428.3 L685.8 427.9 L686.5 427.8 L687 427 L687.5 426.5 L687.8 425.7 L688.5 424.4 L689.5 420.1 L689.8 418.7 L690.5 413 L691.5 398.9 L691.8 393.6 L692 389.3 L692.5 378.8 L693.5 366.8 L693.8 367.8 L694.5 378.7 L695.5 399 L695.8 404 L696.5 413 L697.5 420.9 L697.8 421.8 L698.5 424.3 L699.5 426.3 L699.8 426.9 L700.5 427.8 L701.5 428.5 L701.8 428.9 L702.5 429.7 L703.5 428.9 L703.8 430 L704.5 429.8 L705.5 430.2 L705.8 430.6 L706.5 430.3 L707.5 431 L707.8 430.5 L708.5 430.4 L709.5 430.9 L709.8 431 L710.5 431.2 L711.5 431 L711.8 431.1 L712.5 430.9 L713.5 431.5 L713.8 431.3 L714.5 431.2 L715.5 431.6 L715.8 431.6 L716.5 431.5 L717.5 431.3 L717.8 431.5 L718.5 431.6 L719.5 431.5 L719.8 431.6 L720.5 431.1 L721.5 431.5 L721.8 431.7 L723.8 431.4 L725.5 431.6 L725.8 431.4 L727.8 431.6 L729.5 431.5 L729.8 431.5 L731.8 431.7 L733.5 431.4 L733.8 431.9 L735.8 431.9 L737.5 432.1 L737.8 431.7 L739.8 431.8 L741.5 431.5 L741.8 431.9 L743.8 431.7 L745.5 431.9 L745.8 432.3 L747.8 432.4 L749.5 431.9 L749.8 432 L751.8 432.1 L753.8 432.3 L755.8 431.8 L757.8 432.4 L759.8 432.5 L761.8 432.1 L763.8 432.1 L765.8 432.3 L767.8 432.6 L769.8 432.3 L771.8 431.9 L773 432.2 L773.8 432.4 L775.8 432.2 L777.8 432.2 L779 432.8 L779.8 432.2 L781.8 432.2 L783.8 432.5 L785 432.9 L785.8 432.4 L787.8 432.6 L789.8 432.2 L791 432.3 L791.8 432.5 L793.8 432.5 L795.8 432.4 L797 432.7 L797.8 432.7 L799.8 432.4 L801.8 432.6 L803 432.5 L803.8 432.4 L805.8 432.6 L807.8 432.8 L809 432.8 L809.8 432.6 L811.8 432.8 L813.8 432.6 L815 432.8 L815.8 432.9 L816.5 432.7 L817.8 432.9 L818 432.4 L819.5 432.6 L819.8 432.8 L821 432.7 L821.8 432.6 L822.5 432.8 L823.8 432.7 L824 432.7 L825.5 432.9 L825.8 432.8 L827 433 L827.8 432.8 L828.5 432.4 L829.8 432.5 L830 432.8 L831.5 432.4 L831.8 432.6 L833 432.5 L833.8 433 L834.5 432.9 L835.8 432.5 L836 432.5 L837.5 432.5 L837.8 432.5 L839 432.4 L839.8 433.4 L840.5 432.8 L841.8 432.6 L842 432.6 L843.5 433 L843.8 433 L845 432.5 L845.8 432.8 L846.5 432.9 L847.8 432.5 L848 432.9 L849.5 432.7 L849.8 432.6 L851 432.2 L851.8 432.7 L852.5 432.1 L853.8 432 L854 431.5 L855.5 431.5 L855.8 431.1 L857 430.9 L857.8 430.9 L858.5 431.3 L859.8 431.4 L860 432 L861.5 432.4 L861.8 432.5 L863 432.7 L863.8 432.8 L864 432.5 L864.5 433 L865.8 432.7 L866 432.7 L867.5 432.9 L867.8 432.8 L869 432.7 L869.8 432.5 L870.5 432.4 L871.8 433.1 L872 432.5 L873.5 433.3 L873.8 432.9 L874 433.2 L875 433 L875.8 432.7 L876.5 432.9 L877.8 432.8 L878 432.7 L879 432.7 L879.5 433.3 L879.8 433 L881 433.2 L881.8 433 L882.5 433.1 L883.8 433.1 L884 433.1 L885.5 433.3 L885.8 433 L887 433.2 L887.8 433.3 L888.5 433.2 L889 433 L889.8 432.9 L890 433 L891.5 433 L891.8 432.9 L893 433.2 L893.8 433.1 L894 433 L894.5 433 L895.8 432.5 L896 433.1 L897.5 433.1 L897.8 432.9 L898.7 432.6 L899 433 L899.8 432.9 L900.2 432.7 L900.5 433 L901.5 432.9 L901.8 432.8 L902 432.6 L902.8 432.7 L903.5 432.3 L903.8 432.5 L904 432.1 L904.7 431.9 L905 431.6 L905.2 431.8 L905.8 431.3 L906.5 431.1 L907.8 430.7 L908 430.4 L909 430.9 L909.5 431.5 L909.8 431.5 L910.2 431.8 L910.7 431.8 L911 431.8 L911.5 432.4 L911.8 432.1 L912.5 432.4 L912.8 432.7 L913.8 433.4 L914 432.8 L915.2 433.4 L915.5 433 L915.8 433.1 L916.5 432.9 L916.7 433.7 L917 432.9 L917.8 433.1 L918.5 433 L919 433.2 L919.8 433.1 L920 433.1 L920.2 433.2 L921.5 433.3 L921.8 433.3 L922.7 432.9 L923 432.9 L923.8 433 L924 433.1 L924.5 433.1 L925.2 433 L925.8 432.9 L926 433 L926.5 433.4 L927.5 433 L927.8 433 L928.7 433.3 L929 432.6 L929.8 432.8 L930 433.1 L930.2 432.6 L930.5 432.8 L931.5 432.4 L931.8 431.6 L932 431.6 L932.8 431.2 L933.5 430.8 L933.8 430.1 L934 430.7 L934.7 431.1 L935 430.9 L935.2 431.6 L935.8 431.1 L936.5 432 L937.8 432.4 L938 432.8 L939 432.6 L939.5 433 L939.8 432.9 L940 432.8 L940.2 432.9 L940.7 433.2 L941 433.5 L941.5 433.1 L941.8 433.4 L942.2 433.4 L942.5 433.1 L942.8 433.1 L943.7 433.1 L944 433.4 L945 433.5 L945.2 433.2 L945.5 433.6 L945.8 433.4 L946.5 433.4 L946.7 433 L947 433.7 L947.8 433 L948.2 433.3 L948.5 433.6 L949 433.1 L949.7 433.1 L950 433.8 L950.2 433.4 L951.2 433.5 L951.5 433.4 L951.8 433.3 L952.7 433.4 L953 433.3 L953.8 433.4 L954 433.5 L954.2 433.3 L955 433.5 L955.2 433.3 L955.7 433.4 L956 433.1 L956.5 433.3 L957.2 433.8 L957.8 433.3 L958.7 433.6 L959 433.5 L959.8 433.5 L960 433.2 L960.2 433.6 L961.5 433.1 L961.7 433.7 L962 433.4 L962.8 433.6 L963.2 433.2 L963.8 433.1 L964 433.1 L964.7 433.4 L965 433.3 L965.2 433.1 L965.8 433.1 L966.2 433.6 L966.5 433.5 L967.5 433.2 L967.7 433.1 L968 433.3 L968.8 433.4 L969 433.1 L969.2 433.3 L969.8 433.4 L970 433.4 L970.7 433.2 L971 433.4 L971.2 433.3 L971.8 433.3 L972.2 433.3 L972.5 433.2 L973.7 432.7 L974 433.2 L975 433 L975.2 432.9 L975.8 432.8 L976.2 432.7 L976.7 432.1 L977 432.2 L977.5 431.3 L977.8 431.4 L978.2 430.8 L978.8 429.8 L979 430 L979.7 428.6 L980 428.1 L981.2 425.4 L981.8 424.3 L982.5 424 L982.7 423.8 L983 423.6 L983.8 424 L984 425.5 L984.2 425.7 L985 427.2 L985.7 428.8 L986 429.3 L986.2 429.3 L987.2 431 L987.5 431.3 L987.8 431.5 L988.7 432.1 L989 432.3 L989.8 432.8 L990 432.7 L990.2 432.8 L990.5 433.1 L991.2 433 L991.7 433.3 L992 433 L992.5 433.3 L993 433.1 L993.2 433 L993.5 433 L993.8 432.9 L994 433 L994.7 433 L995 432.6 L995.8 432.9 L996.2 432.7 L996.5 432 L997.5 431.7 L997.7 431.3 L998 431.2 L998.8 430.3 L999 430 L999.2 429.8 L999.5 429.7 L999.8 430.1 L1000 429.9 L1000.7 430.1 L1001 430.3 L1001.2 430.1 L1001.8 430.9 L1002 430.7 L1002.2 431.4 L1002.5 431.5 L1003.7 432.1 L1004 432.7 L1005 433.4 L1005.2 433.1 L1005.5 433.3 L1005.8 433.3 L1006.2 433.6 L1006.7 433.7 L1007 433.3 L1007.5 433.5 L1007.8 433.3 L1008.2 433.6 L1008.5 433.6 L1008.8 434 L1009.7 433.4 L1010 433.7 L1011 433.9 L1011.2 433.7 L1011.5 433.8 L1011.8 434 L1012.5 433.8 L1012.7 433.6 L1013 433.4 L1013.8 433.5 L1014.2 433.3 L1014.5 433.8 L1015 433.8 L1015.7 433.8 L1016 433.6 L1016.2 434 L1017.2 433.9 L1017.5 433.8 L1017.8 433.6 L1018.7 433.4 L1019 433.7 L1019.8 433.6 L1020 433.6 L1020.2 433.5 L1020.5 433.7 L1021.2 433.6 L1021.7 434.3 L1022 433.6 L1022.5 433.9 L1023.2 433.6 L1023.5 433.8 L1023.8 434.1 L1024.7 433.9 L1025 433.3 L1025.8 433.6 L1026.2 433.4 L1026.5 433.1 L1027.5 432.4 L1027.8 432.8 L1028 432.5 L1028.8 432 L1029 432.2 L1029.5 432.3 L1029.8 431.6 L1030 431.5 L1030.7 431.3 L1031 431.3 L1031.2 431.4 L1031.8 431.8 L1032.5 431.6 L1033.8 432.5 L1034 432.2 L1035 433.1 L1035.5 432.7 L1035.8 433.7 L1036.7 433.5 L1037 433.6 L1037.8 433.6 L1038 433.9 L1038.5 433.3 L1039.8 433.7 L1040 433.7 L1041.5 433.9 L1041.8 433.7 L1042.7 433.4 L1043 434.1 L1043.8 433.6 L1044.5 433.8 L1045 433.9 L1045.8 433.4 L1046 434.1 L1047 433.7 L1047.5 433.6 L1047.8 434 L1048.7 433.8 L1049 433.6 L1049.8 433.4 L1050 434.4 L1050.5 434.1 L1051.8 434.2 L1052 434.1 L1053.5 433.8 L1053.8 434 L1054.7 433.8 L1055 434 L1055.8 434.2 L1056 433.8 L1056.5 433.9 L1057.8 433.8 L1058 434.1 L1058.2 433.8 L1059.5 434.2 L1059.8 433.6 L1060 433.8 L1060.5 434.1 L1060.7 433.6 L1060.9 434 L1061.8 433.9 L1062.5 433.9 L1062.8 433.7 L1063.8 434.2 L1064 434.2 L1065 434 L1065.5 434.4 L1065.8 433.9 L1066.7 434.1 L1067 434.2 L1067.2 434 L1067.8 434.1 L1068.5 434 L1069.5 434 L1069.8 433.8 L1070 434 L1071.5 433.7 L1071.8 434 L1073 434 L1073.8 433.7 L1074 434.3 L1074.9 434 L1075.8 434.3 L1076.2 434.1 L1077.8 433.7 L1078.5 434.1 L1079 433.6 L1079.8 433.9 L1080.8 433.9 L1081.8 434.2 L1083 434 L1083.8 433.7 L1085 434.1 L1085.2 434 L1085.8 433.8 L1087.5 434.1 L1087.8 434.4 L1088.9 434.1 L1089.8 434.2 L1091 434.2 L1091.8 434 L1092 434.2 L1093.8 433.9 L1094.2 434.3 L1095.8 434 L1096.5 434.2 L1097 434.3 L1097.8 434.2 L1098.8 434.1 L1099.8 434.1 L1101 433.9 L1101.8 433.9 L1102.9 434 L1103.2 434.3 L1103.8 433.9 L1105.5 434 L1105.8 433.8 L1107.8 433.6 L1109 433.6 L1109.8 433.6 L1111.7 433.3 L1112.2 433 L1113.4 432.7 L1113.8 432.6 L1114.5 432.4 L1115 432.1 L1115.8 431.6 L1116.8 431.2 L1117.8 430.9 L1118.7 430.4 L1119 430.9 L1119.8 430.7 L1120.4 430.9 L1121.2 431.7 L1121.8 431.8 L1122.2 431.7 L1123.5 432.6 L1123.8 432.3 L1125.7 433.3 L1127.4 433.6 L1127.8 433.1 L1128 433.9 L1129.2 433.7 L1129.8 434.1 L1130.2 433.7 L1130.9 433.6 L1131.8 433.9 L1132.5 434.4 L1133 434.3 L1133.8 433.9 L1134.4 434.1 L1134.8 434 L1135.8 434.2 L1136.2 433.7 L1137 433.9 L1137.8 433.9 L1139.2 434.3 L1139.7 433.9 L1141.4 434.2 L1141.8 434.1 L1143 434 L1143.8 433.9 L1144.9 434.2 L1145.8 433.9 L1146 434 L1146.7 433.6 L1147.8 433.5 L1148 433.7 L1148.2 433.7 L1149.7 433.6 L1150.2 433.3 L1150.5 433.5 L1151.8 432.9 L1152.8 431.8 L1153 431.8 L1153.7 431.3 L1155 429.1 L1155.4 428.8 L1155.8 427.7 L1157.2 425.1 L1157.8 423.7 L1158 423.7 L1158.7 423 L1158.9 422.8 L1159.5 423 L1159.8 423.1 L1160.7 424.9 L1161.8 426.9 L1162.4 428 L1163 429.5 L1163.8 430.7 L1164 430.8 L1165.8 432.5 L1166.2 432.8 L1167.7 433.5 L1168 433.4 L1168.5 433.9 L1169.2 433.6 L1169.8 434.1 L1170.5 433.9 L1170.8 433.8 L1171.2 434.1 L1171.8 434.3 L1172.9 434.4 L1173.8 434.3 L1174.2 434.3 L1174.7 434.1 L1175.2 434.2 L1175.5 434.4 L1175.8 434.1 L1176.4 434.2 L1176.7 433.8 L1177.5 434.1 L1177.8 434.2 L1178 434.2 L1179.2 434.4 L1179.8 434.2 L1180.5 434 L1181.7 434 L1182 434.6 L1183 434.4 L1183.4 434.7 L1183.8 434.3 L1184.2 434.4 L1185.2 434.1 L1185.5 434.4 L1185.7 434.5 L1186.8 434.7 L1187.8 434.2 L1188 434.3 L1188.7 434.6 L1189.2 434.5 L1189.8 434.4 L1190.4 434.4 L1191 434.4 L1191.8 434.1 L1192.2 434.4 L1193 434.3 L1193.8 434.2 L1194.2 434.5 L1194.7 434 L1195.5 434.2 L1196.8 434.2 L1197.4 433.8 L1197.8 433.7 L1198 433.9 L1199.2 433.2 L1199.8 433 L1200 432.9 L1200.5 431.8 L1200.9 431.4 L1201.8 430.2 L1202.7 429.4 L1203 429 L1203.7 429.5 L1204.2 430.3 L1205.5 432.2 L1205.8 432.6 L1206.2 432.6 L1206.8 433.3 L1207.8 433.7 L1209 433.7 L1209.2 434.3 L1209.8 434 L1210.5 433.9 L1211.8 434.4 L1212.7 434.1 L1213 434.3 L1213.8 434.3 L1214.2 434.5 L1214.9 434.2 L1215.5 434.2 L1215.8 434.5 L1216.8 434.2 L1217.2 434.3 L1217.8 434.6 L1218 434.5 L1219.2 434.2 L1219.5 434.3 L1219.8 434.6 L1220.5 434.2 L1221.7 434.5 L1223 434.4 L1223.8 434.4 L1224.2 434.4 L1225.5 434.6 L1225.8 434.4 L1226.2 434.4 L1226.8 434.6 L1227 434.4 L1227.8 434.1 L1228 434.7 L1228.5 434.4 L1228.9 434.3 L1229.2 434.6 L1229.8 434.6 L1230.5 434.4 L1230.7 434.7 L1231.8 434.1 L1233 434.7 L1233.8 434.2 L1234.2 434.5 L1235.2 434.7 L1235.5 434.6 L1235.8 434.8 L1236.8 434.6 L1237.5 434.2 L1237.8 434.1 L1238 434.6 L1239.7 434.7 L1241.8 434.5 L1242.9 435 L1243.8 434.5 L1244.2 434.4 L1245 434.5 L1245.8 434.1 L1246.5 434.3 L1247.8 434.4 L1248 434.4 L1248.7 434.3 L1249.8 434.3 L1251 434.3 L1251.8 434.2 L1253 434 L1253.2 434.3 L1253.8 434.3 L1255.5 434.6 L1255.8 434.5 L1256.9 434.5 L1257.4 434.5 L1257.7 434.4 L1258 434.7 L1259.8 434.6 L1261.8 433.9 L1262.2 434.5 L1263 434.4 L1263.8 434.4 L1264.5 434.5 L1265.8 434.4 L1266.7 434.2 L1267.8 433.9 L1268 433.9 L1269 433.8 L1269.8 433.6 L1270.4 433.3 L1271.2 433 L1271.8 432.7 L1273 432.1 L1273.5 431.9 L1273.8 432.1 L1275.7 431.3 L1276 431.6 L1276.9 431.8 L1277.8 431.8 L1279.8 432.8 L1280.2 433 L1281.8 433.9 L1282.5 433.7 L1283.4 433.8 L1283.8 434.1 L1284 434.1 L1284.7 434.3 L1285.8 434.2 L1287 434.5 L1287.8 434 L1289.2 434.7 L1289.8 434.3 L1291.5 434.9 L1291.8 434.4 L1292 434.4 L1293.7 434.4 L1295.8 434.5 L1296.4 434.7 L1297.8 434.4 L1298.2 434.8 L1299.8 434.3 L1300 434.5 L1300.5 434.8 L1301.8 434.6 L1302.7 434.5 L1302.9 434.6 L1303.8 434.5 L1304.5 434.9 L1305 434.7 L1305.8 434.2 L1306.2 434.6 L1307.2 434.4 L1307.8 434.8 L1308 434.2 L1309.4 434.2 L1309.8 434.4 L1311 434.5 L1311.7 434.7 L1312.7 434.5 L1313.8 434.4 L1314.3 434.2 L1315.8 434.4 L1316.2 434.2 L1317.5 434.6 L1317.8 434.6 L1318.5 434.2 L1319.2 434.4 L1319.8 434.1 L1320.7 434.4 L1321.8 434.4 L1322.4 434.6 L1323 434.8 L1323.8 434.2 L1324 434.3 L1325.2 434.4 L1325.7 434.8 L1327.3 434.6 L1327.8 434.7 L1328.9 434.5 L1329.7 434.6 L1330.5 434.3 L1331.8 434.6 L1333.8 434.6 L1334 434.4 L1334.2 434.6 L1335.4 434.7 L1335.8 434.4 L1336 434.2 L1336.5 434.6 L1337 434.5 L1337.8 434.4 L1338 434.2 L1338.7 434 L1339.8 434.1 L1340 434.1 L1340.3 434.3 L1341.8 433.7 L1343 433.5 L1343.5 433.1 L1343.8 432.9 L1344 432.7 L1345.2 431.7 L1345.8 431.1 L1346 430.6 L1346.8 429.6 L1347.7 428.6 L1348 429.1 L1348.4 428.6 L1349.8 429.4 L1350 429.6 L1351 430.6 L1351.7 431.8 L1352 431.6 L1353.3 432.6 L1353.8 433.4 L1354 433.5 L1354.9 433.4 L1355.8 434 L1356 433.9 L1356.5 433.8 L1357.8 434.4 L1358 434.2 L1359 434.2 L1359.8 434.3 L1360 434.4 L1361.4 434.3 L1361.8 434.5 L1362 434.7 L1363 434.5 L1363.8 434.5 L1364 434.7 L1364.7 434.6 L1365.7 434.6 L1366 434.1 L1366.3 434.5 L1367 434.3 L1367.8 434.6 L1369.5 434.3 L1369.8 433.9 L1370 434.8 L1371.2 434.7 L1371.8 434.4 L1372 434.3 L1372.8 434.6 L1373.8 434.4 L1374 434.2 L1374.4 434.4 L1374.7 434.4 L1375 434.9 L1375.8 434.4 L1376 434.4 L1377.7 434.1 L1378 434.2 L1379.3 434.3 L1379.8 434.1 L1380 434.2 L1380.9 433.9 L1381.8 434.3 L1382 433.6 L1382.5 433.5 L1383 433.6 L1383.7 433.4 L1384 432.7 L1385.8 432.3 L1386 432.2 L1387.4 431.7 L1387.8 431.6 L1388 431.1 L1389 431.6 L1389.8 431.8 L1390 431.9 L1390.7 432.3 L1391 432.2 L1391.8 433.2 L1392 433.3 L1392.3 433.2 L1392.7 433.3 L1393.8 433.6 L1395.8 434.2 L1396 433.9 L1397.8 434.4 L1398 434.2 L1399 434.3 L1399.8 434.2 L1400 434.7 L1400.4 434.4 L1401 434.6 L1401.7 434.5 L1402 434.3 L1403 434.5 L1403.8 434.4 L1404 434.6 L1405 434.7 L1405.8 434.8 L1406 434.7 L1406.9 434.5 L1407.8 434.2 L1408 434.8 L1409 434.4 L1409.8 434.7 L1410 435 L1411 434.7 L1411.8 434.7 L1412 434.3 L1413 434.6 L1413.4 434.6 L1413.8 434.2 L1414 434.5 L1415 434.6 L1415.8 434.8 L1416 434.4 L1417 434.5 L1417.8 434.6 L1418 434.7 L1419 434.6 L1419.8 434.5 L1421 434.8 L1421.8 434.1 L1422 434.4 L1423 434.8 L1423.8 434.7 L1424 434.8 L1425 434.5 L1425.8 434.8 L1426 434.6 L1426.4 434.7 L1427 434.8 L1427.8 434.5 L1428 434.9 L1429 434.4 L1429.8 434.5 L1430 434.3 L1431 434.6 L1431.8 434.8 L1432 434.7 L1432.9 434.6 L1433.8 434.6 L1434 434.7 L1435 434.1 L1435.8 434.5 L1436 434.7 L1437 434.6 L1437.8 434.3 L1438 434.4 L1439 434.4 L1439.4 434.6 L1439.8 434.6 L1440 434.8 L1441 434.4 L1441.8 434.5 L1442 434.4 L1443 434.5 L1443.8 434.5 L1444 434.7 L1445 434.7 L1445.8 434.4 L1447 434.1 L1447.8 434 L1449 434.4 L1449.8 433.6 L1451 433.6 L1451.8 433.1 L1452 433 L1453 433 L1453.8 433.2 L1455 432.6 L1455.8 432.9 L1457 432.8 L1457.8 432.8 L1459 433.9 L1459.8 433.7 L1460 433.6 L1461 434 L1461.8 434.8 L1463 434.4 L1463.8 434.6 L1465 434.5 L1465.8 434.9 L1467 434.3 L1467.8 434.2 L1468 435 L1469 434.5 L1469.8 434.3 L1471 434.4 L1471.8 434.5 L1473 434.5 L1473.8 434.3 L1475 434.4 L1475.8 434.5 L1476 435 L1477 435 L1477.8 435.1 L1479 434.2 L1479.8 435 L1481 434.6 L1481.8 434.9 L1483 435.2 L1483.8 434.4 L1484 434.6 L1485 434.8 L1485.8 434.8 L1487 434.3 L1487.8 434.5 L1489 434.8 L1489.8 434.9 L1491 434.6 L1491.8 434.5 L1492 434.6 L1493 434.8 L1493.8 434.7 L1495 434.9 L1495.8 434.9 L1497 434.7 L1497.8 434.8 L1499 434.8 L1499.8 435 L1500 434.6 L1501 434.4 L1501.8 434.8 L1503 434.6 L1503.8 434.9 L1505 434.7 L1505.8 434.5 L1507 434.8 L1507.8 434.7 L1509 434.7 L1509.8 434.7 L1511 434.8 L1511.8 435 L1513.8 434.7 L1515.8 434.8 L1517.8 434.7 L1519 434.5 L1519.8 434.8 L1521.8 434.8 L1523.8 434.6 L1525.8 434.8 L1527 434.6 L1527.8 435.1 L1529.8 434.6 L1531.8 434.4 L1533.8 434.7 L1535 434.8 L1535.8 434.7 L1537.8 434.8 L1539.8 435.1 L1541.8 434.3 L1542 434.7 L1543 434.8 L1543.8 434.8 L1545.8 434.8 L1547.8 434.6 L1549 434.7 L1549.8 434.7 L1551 434.9 L1551.8 434.4 L1553.8 434.7 L1555.8 434.6 L1556 434.7 L1557.8 434.6 L1559 434.7 L1559.8 434.7 L1561 434.6 L1561.8 434.6 L1563 434.8 L1563.8 434.9 L1565.8 434.6 L1567 434.6 L1567.8 434.6 L1569 434.9 L1569.8 434.8 L1570 434.9 L1571.8 434.5 L1573.8 435 L1575.8 434.9 L1577 434.7 L1577.8 434.6 L1579.8 434.8 L1581.8 434.6 L1583.8 435.2 L1584 435.1 L1585 434.7 L1585.8 434.5 L1587.8 434.9 L1589.8 434.6 L1591 434.9 L1591.8 434.6 L1592.8 434.5 L1593 434.5 L1593.8 434.7 L1594.5 434.7 L1595.8 434.4 L1596.2 434.8 L1597.8 434.3 L1598 434.6 L1599.8 434.9 L1601 435 L1601.5 434.4 L1601.8 434.7 L1603.2 434.6 L1603.8 434.8 L1605 434.9 L1605.8 434.9 L1606.8 434.7 L1607.8 434.4 L1608.5 434.9 L1609 434.8 L1609.8 435.3 L1610.2 434.8 L1611.8 434.8 L1612 434.3 L1613.8 434.9 L1615.5 434.8 L1615.8 435 L1616 435.1 L1617 434.8 L1617.2 434.5 L1617.8 434.8 L1619 434.7 L1619.8 434.7 L1620.8 434.8 L1621 434.7 L1621.8 434.9 L1622 435.1 L1622.5 434.9 L1623 434.7 L1623.8 434.8 L1624.2 434.8 L1625 434.8 L1625.8 434.5 L1626 434.4 L1627 434.8 L1627.8 434.6 L1628 434.9 L1629 434.6 L1629.5 434.7 L1629.8 434.5 L1631 434.6 L1631.2 434.9 L1631.8 434.3 L1633 434.6 L1633.8 434.3 L1634 434.3 L1634.8 434.1 L1635 434.3 L1635.8 434 L1636.5 433.6 L1637 433.9 L1637.8 433 L1638.2 433 L1639 432.6 L1639.8 433 L1640 432.5 L1641 433.2 L1641.8 433 L1643 433.4 L1643.5 433.9 L1643.8 433.8 L1645 434 L1645.2 434.1 L1645.8 434.4 L1646 434.6 L1647 434 L1647.8 434.5 L1648.8 434.3 L1649 434.7 L1649.8 434.5 L1650.5 434.6 L1651 434.5 L1651.8 434.4 L1652 434.7 L1652.2 434.5 L1653 434.6 L1653.8 434.7 L1654 434.8 L1655 434.4 L1655.8 434.5 L1657 434.4 L1657.5 434.5 L1657.8 434.8 L1658 434.9 L1659 434.4 L1659.2 434.6 L1659.5 434.6 L1659.8 434.8 L1661 434.5 L1661.8 434.5 L1662.5 434.4 L1662.8 434.7 L1663 434.2 L1663.8 434.9 L1664 434.1 L1664.5 434.2 L1665 434.4 L1665.5 434.3 L1665.8 434.3 L1666.2 434.1 L1667 433.9 L1667.8 433.6 L1668 433.6 L1668.5 433.4 L1669 433.4 L1669.8 432.4 L1670 432.5 L1671 431.9 L1671.5 431.7 L1671.8 431.7 L1673 431.2 L1673.2 431.1 L1673.8 431.4 L1674.5 431.7 L1675 431.9 L1675.8 432.5 L1676 432.5 L1676.8 432.9 L1677 432.6 L1677.5 433.2 L1677.8 433.4 L1678.5 433.8 L1679 433.8 L1679.8 434.6 L1680.2 434.3 L1680.5 433.9 L1681 434.6 L1681.8 434.6 L1682 434.3 L1683 434.4 L1683.5 434.6 L1683.8 434.7 L1685 435 L1685.5 434.6 L1685.8 434.4 L1686.5 434.4 L1687 434.7 L1687.2 434.8 L1687.8 434.6 L1688 434.4 L1689 434.6 L1689.5 435 L1689.8 434.5 L1691 434.6 L1691.8 434.7 L1692.5 434.7 L1693 434.8 L1693.8 434.5 L1694 434.6 L1695 434.2 L1695.5 434.6 L1695.8 434.3 L1696 434.2 L1697 434 L1697.8 433.7 L1698.5 433.6 L1699 433.3 L1699.8 433 L1700 433.1 L1701 433.1 L1701.5 433.6 L1701.8 433.5 L1703 434.2 L1703.8 434.4 L1704.5 434.5 L1705 434.5 L1705.8 434.4 L1706 434.6 L1707 434.5 L1707.5 434.5 L1707.8 435 L1709 434.4 L1709.8 434.6 L1710 434.9 L1710.5 434.8 L1711 434.9 L1711.8 434.7 L1712 434.8 L1713 434.9 L1713.5 435 L1713.8 434.7 L1715 434.8 L1715.8 434.8 L1716.5 435.1 L1717 434.8 L1717.8 434.9 L1718 434.9 L1719 434.9 L1719.5 434.6 L1719.8 434.8 L1721 434.9 L1721.8 434.6 L1722.5 434.7 L1723 435 L1723.8 434.7 L1724 434.9 L1725 435 L1725.5 434.7 L1725.8 434.7 L1727 434.7 L1727.8 435 L1728.5 434.7 L1729 435 L1729.8 434.8 L1730 434.8 L1731 434.8 L1731.5 434.5 L1731.8 434.8 L1733 434.8 L1733.8 435 L1734.5 434.8 L1735.8 434.8 L1736 435 L1737 434.8 L1737.5 434.8 L1737.8 434.8 L1738 435 L1739 434.6 L1739.8 434.7 L1740.5 434.6 L1741.8 434.7 L1742 435 L1743.8 434.8 L1745 435.1 L1745.8 435 L1747.8 434.8 L1748 434.8 L1749.8 434.5 L1751.8 434.6 L1753 435.2 L1753.8 434.9 L1754 434.5 L1755.8 434.7 L1757.8 434.7 L1759.8 434.7 L1760 435.1 L1761 434.7 L1761.8 434.9 L1763.8 434.5 L1765.8 434.6 L1766 434.6 L1767.8 434.8 L1769 434.7 L1769.8 434.7 L1771.8 434.9 L1772 434.6 L1773.8 435 L1775.8 434.7 L1777 434.5 L1777.8 434.7 L1778 434.8 L1779.8 435.1 L1781.8 434.8 L1783.8 434.6 L1784 434.9 L1785 434.6 L1785.8 434.8 L1787.8 434.8 L1789.8 435.2 L1791.8 434.9 L1793.8 434.8 L1795.8 434.8 L1797.8 435.1 L1799.8 435 L1801.8 435.1 L1803.8 434.8 L1805.8 435 L1807.8 434.9 L1809.8 434.8 L1811.8 435.1 L1813.8 434.9 L1815.8 435.1 L1817.8 435.1 L1819.8 434.9 L1821.8 435.2 L1823.8 435 L1825.8 434.8 L1827.8 434.9 L1829.8 434.7 L1831.8 434.8 L1833.8 434.9 L1835.8 434.9 L1836 434.7 L1837.8 434.6 L1839.8 434.7 L1841.8 434.7 L1843 434.8 L1843.8 434.5 L1845.8 434.6 L1847.8 434.9 L1849.8 435.1 L1850 434.7 L1851.8 435.1 L1853.8 435 L1855.8 434.8 L1857 435 L1857.8 434.9 L1859.8 435.4 L1861.8 435.1 L1863.8 434.9 L1864 434.8 L1865.8 435.3 L1867.8 434.7 L1869.8 434.9 L1871 434.8 L1871.8 434.7 L1873.8 434.8 L1875.8 435 L1877.8 434.6 L1878 434.9 L1879.8 435.3 L1881.8 434.6 L1883.8 435.1 L1885 435 L1885.8 434.7 L1886.8 434.7 L1887.8 435.1 L1888.5 434.9 L1889.8 434.9 L1890.2 435.1 L1891.8 434.8 L1892 434.9 L1893.8 435.1 L1895.5 435.1 L1895.8 434.8 L1897.2 434.8 L1897.8 434.6 L1899 434.9 L1899.8 435 L1900.8 434.7 L1901.8 434.8 L1902.5 435 L1903.8 435 L1904.2 435.1 L1905.8 435 L1906 435.1 L1907.8 434.8 L1909.5 434.7 L1909.8 435.3 L1911.2 435.2 L1911.8 434.7 L1913 434.7 L1913.8 434.6 L1914.8 434.9 L1915.8 435 L1916.5 434.8 L1917.8 434.7 L1918.2 434.7 L1919.8 434.8 L1920 434.9 L1921.8 434.9 L1923.5 434.9 L1923.8 434.6 L1925.2 434.4 L1925.8 434.4 L1927 434.4 L1927.8 434.7 L1928.8 433.8 L1929.8 433.7 L1930.5 433.4 L1931.8 432.8 L1932.2 432.5 L1933.8 432.1 L1934 432.1 L1935.8 432.7 L1937.5 433.7 L1937.8 433.6 L1939.2 434.3 L1939.8 434.3 L1941 434.4 L1941.8 434.6 L1942.8 434.8 L1943.8 434.8 L1944.5 434.9 L1945.8 434.8 L1946.2 434.7 L1947.8 434.7 L1948 435 L1949.8 434.9 L1951.5 435 L1951.8 434.7 L1953.2 435 L1953.8 434.9 L1955 434.9 L1955.8 435.3 L1956.8 435 L1957.8 434.9 L1958.5 435 L1959.8 434.7 L1960.2 435.2 L1961.8 434.7 L1962 435.2 L1963.8 434.7 L1965.5 435.1 L1965.8 434.6 L1967.2 434.6 L1967.8 435 L1969 434.8 L1969.8 435.1 L1970.8 434.9 L1971.8 434.9 L1972.5 434.9 L1973.8 435 L1974.2 435.1 L1975.8 435.1 L1976 435.2 L1977.8 435.2 L1979.5 435 L1979.8 435 L1981.2 435.1 L1981.8 435.2 L1983 435.2 L1983.8 434.7 L1985.8 435 L1987.8 435.1 L1989.8 434.9 L1990 434.8 L1991.8 434.7 L1993.8 435 L1995.8 434.7 L1997 435.1 L1997.8 434.9 L1999.8 435 L2001.8 435.3 L2003.8 435.4 L2004 435.3 L2005.8 434.8 L2007.8 434.9 L2009.8 435.1 L2011 435.2 L2011.8 434.7 L2013.8 434.7 L2015.8 435 L2017.8 434.7 L2018 435.1 L2019.8 435.1 L2021.8 434.8 L2023.8 435.5 L2025 435.1 L2025.8 434.8 L2027.8 435 L2029.8 434.8 L2031.8 435.1 L2032 434.6 L2033.8 435.5 L2035.8 434.9 L2037.8 435 L2039.8 434.8 L2041.8 435.2 L2043.8 435 L2045.8 435.2 L2047 434.9" fill="none" stroke="#008000" stroke-width="8.2" stroke-linejoin="round" stroke-linecap="butt"/>
<path d="M404.3 1404.8 V1431.5 M678 1404.8 V1431.5 M951.7 1404.8 V1431.5 M1225.4 1404.8 V1431.5 M1499.1 1404.8 V1431.5 M1772.8 1404.8 V1431.5 M2046.5 1404.8 V1431.5 M267.5 1404.8 V1418.8 M541.1 1404.8 V1418.8 M814.9 1404.8 V1418.8 M1088.5 1404.8 V1418.8 M1362.2 1404.8 V1418.8 M1636 1404.8 V1418.8 M1909.7 1404.8 V1418.8" stroke="#000" stroke-width="4.6" fill="none"/>
<text transform="translate(404.3 1490.6) scale(1 1.04)" font-size="54" text-anchor="middle">10</text>
<text transform="translate(678 1490.6) scale(1 1.04)" font-size="54" text-anchor="middle">20</text>
<text transform="translate(951.7 1490.6) scale(1 1.04)" font-size="54" text-anchor="middle">30</text>
<text transform="translate(1225.4 1490.6) scale(1 1.04)" font-size="54" text-anchor="middle">40</text>
<text transform="translate(1499.1 1490.6) scale(1 1.04)" font-size="54" text-anchor="middle">50</text>
<text transform="translate(1772.8 1490.6) scale(1 1.04)" font-size="54" text-anchor="middle">60</text>
<text transform="translate(2046.5 1490.6) scale(1 1.04)" font-size="54" text-anchor="middle">70</text>
<text transform="translate(334 137.1) scale(1 1.0)" font-size="68" text-anchor="start">(002)</text>
<text transform="translate(457.5 265.4) scale(1 1.025)" font-size="68" text-anchor="start">0.861nm</text>
<text transform="translate(616.5 339.1) scale(1 1.0)" font-size="68" text-anchor="start">(004)</text>
<text transform="translate(906.8 355.2) scale(1 1.0)" font-size="68" text-anchor="start">(110)</text>
<text transform="translate(1083.4 364) scale(1 1.0)" font-size="68" text-anchor="start">(114)</text>
<text transform="translate(1264.1 364) scale(1 1.0)" font-size="68" text-anchor="start">(116)</text>
<text transform="translate(1439.5 374.5) scale(1 1.0)" font-size="68" text-anchor="start">(018)</text>
<text transform="translate(1943.6 126.8) scale(1 1.0)" font-size="68" text-anchor="start">(a)</text>
<text transform="translate(1771.6 387.1) scale(1 1.025)" font-size="68" text-anchor="start">CAL-120</text>
<text transform="translate(1771.6 651.9) scale(1 1.025)" font-size="68" text-anchor="start">CAL-100</text>
<text transform="translate(1807.8 916.3) scale(1 1.025)" font-size="68" text-anchor="start">CAL-80</text>
<text transform="translate(1805.9 1136.3) scale(1 1.025)" font-size="68" text-anchor="start">CAL-70</text>
<text transform="translate(1810 1345) scale(1 1.025)" font-size="68" text-anchor="start">CAL-60</text>
<text transform="translate(457.5 585.2) scale(1 1.025)" font-size="68" text-anchor="start">0.863nm</text>
<text transform="translate(451.5 828.2) scale(1 1.025)" font-size="68" text-anchor="start">0.858nm</text>
<text transform="translate(450.7 1086.7) scale(1 1.025)" font-size="68" text-anchor="start">0.876nm</text>
<text transform="translate(450.7 1303.2) scale(1 1.025)" font-size="68" text-anchor="start">0.873nm</text>
<text transform="translate(957 1600.6) scale(1 1.02)" font-size="68" text-anchor="start">2 Theta (°)</text>
<text transform="translate(156.7 928.6) rotate(-90) scale(1 1.03)" font-size="68">Intensity (a.u.)</text>
<line x1="416.3" y1="160" x2="462" y2="188.4" stroke="#000" stroke-width="3"/>
<polygon points="489.2,205.3 455.6,195 465.1,179.7" fill="#000"/>
<line x1="421" y1="462.8" x2="467.8" y2="501.7" stroke="#000" stroke-width="3"/>
<polygon points="492.4,522.1 460.5,507.3 472,493.5" fill="#000"/>
<line x1="429.1" y1="722" x2="457.4" y2="743.8" stroke="#000" stroke-width="3"/>
<polygon points="482.8,763.3 450.4,749.7 461.3,735.4" fill="#000"/>
<line x1="416.3" y1="982" x2="442.7" y2="1003.2" stroke="#000" stroke-width="3"/>
<polygon points="467.6,1023.3 435.5,1009 446.8,995" fill="#000"/>
<line x1="416.3" y1="1195.2" x2="446.7" y2="1212.8" stroke="#000" stroke-width="3"/>
<polygon points="474.4,1228.9 440.5,1219.6 449.5,1204.1" fill="#000"/>
<line x1="984" y1="363.7" x2="984" y2="379" stroke="#000" stroke-width="3"/>
<polygon points="984,411 975,377 993,377" fill="#000"/>
<line x1="1160.2" y1="368" x2="1160.2" y2="382" stroke="#000" stroke-width="3"/>
<polygon points="1160.2,414 1151.2,380 1169.2,380" fill="#000"/>
<line x1="1350.2" y1="369.4" x2="1350.2" y2="385" stroke="#000" stroke-width="3"/>
<polygon points="1350.2,417 1341.2,383 1359.2,383" fill="#000"/>
<line x1="1475.6" y1="390.2" x2="1424.8" y2="410.4" stroke="#000" stroke-width="3"/>
<polygon points="1395.1,422.2 1423.4,401.3 1430,418" fill="#000"/>
</g>
<g id="panel-b">
<rect x="183.0" y="1833.7" width="1943.6999999999998" height="1451.1000000000001" fill="none" stroke="#000" stroke-width="5.6"/>
<path d="M183 2955 L184.5 2955.6 L186 2956.2 L187.5 2956.8 L189 2957.5 L190.5 2958.1 L192 2958.7 L193.5 2959.3 L195 2959.9 L196.5 2960.5 L198 2961.2 L199.5 2961.8 L201 2962.6 L202.5 2962.6 L204 2964.4 L205.5 2964.2 L207 2965.9 L208.5 2964.4 L210 2964.6 L211.5 2968.6 L213 2968.2 L214.5 2968.2 L216 2969.9 L217.5 2970.4 L219 2966.6 L220.5 2964.1 L222 2966.1 L223.5 2966.4 L225 2965.7 L226.5 2970.7 L228 2971.6 L229.5 2973.5 L231 2974.7 L232.5 2973.6 L234 2974.5 L235.5 2975.9 L237 2973.5 L238.5 2974.8 L240 2977.4 L241.5 2976 L243 2976.8 L244.5 2978.7 L246 2983.3 L247.5 2981.1 L249 2979.8 L250.5 2979.8 L252 2981.7 L253.5 2989 L255 2974.6 L256.5 2985.5 L258 2985.4 L259.5 2987.8 L261 2982.9 L262.5 2992.8 L264 2990.4 L265.5 2988.2 L267 2989.6 L268.5 2988 L270 2991 L271.5 2991.3 L273 2995.3 L274.5 2994.6 L276 2994.4 L277.5 2997.6 L279 2998.3 L280.5 2998.5 L282 2994.7 L283.5 3003.1 L285 2998.2 L286.5 3000 L288 3003.8 L289.5 3007 L291 3010.9 L292.5 3003.8 L294 3014.2 L295.5 3016.5 L297 3012.4 L298.5 3015.1 L300 3016.1 L301.5 3018.1 L303 3018.3 L304.5 3019.5 L306 3026 L307.5 3029.6 L309 3036.3 L310.5 3030.7 L312 3030 L313.5 3038.6 L315 3039.3 L316.5 3044 L318 3044.3 L319.5 3044.3 L321 3048.5 L322.5 3055.3 L324 3056.6 L325.5 3056 L327 3063.9 L328.5 3061.5 L330 3067 L331.5 3071.9 L333 3072.9 L334.5 3077.3 L336 3083.2 L337.5 3087.5 L339 3092.1 L340.5 3097 L342 3102.8 L343.5 3109.9 L345 3117.5 L346.5 3125.3 L348 3133.1 L349.5 3140.8 L351 3148.3 L352.5 3156.5 L354 3164.8 L355.5 3172.7 L357 3179.7 L358.5 3185 L360 3189.4 L361.5 3193.2 L363 3196.7 L364.5 3199.9 L366 3202.7 L367.5 3205.2 L369 3207.5 L370.5 3209.8 L372 3212.1 L373.5 3214 L375 3215.5 L376.5 3216.3 L378 3216.4 L379.5 3216.1 L381 3215.7 L382.5 3215.2 L384 3214.5 L385.5 3213.5 L387 3211.5 L388.5 3208.9 L390 3205.9 L391.5 3202.9 L393 3200.2 L394.5 3198.2 L396 3196.4 L397.5 3194.6 L399 3192.8 L400.5 3191.3 L402 3190.2 L403.5 3189.4 L405 3189.1 L406.5 3188.9 L408 3188.7 L409.5 3188.6 L411 3188.5 L412.5 3188.4 L414 3188.4 L415.5 3188.5 L417 3188.7 L418.5 3189 L420 3189.5 L421.5 3190.1 L423 3190.7 L424.5 3191.4 L426 3192.1 L427.5 3192.8 L429 3193.5 L430.5 3194.3 L432 3195.3 L433.5 3196.4 L435 3197.6 L436.5 3198.8 L438 3200 L439.5 3201.2 L441 3202.3 L442.5 3203.3 L444 3204.2 L445.5 3204.9 L447 3205.7 L448.5 3206.5 L450 3207.2 L451.5 3207.9 L453 3208.5 L454.5 3209 L456 3209.4 L457.5 3209.6 L459 3209.6 L460.5 3209.6 L462 3209.5 L463.5 3209.4 L465 3209.2 L466.5 3209.1 L468 3208.9 L469.5 3208.7 L471 3208.5 L472.5 3208.2 L474 3208 L475.5 3207.8 L477 3207.5 L478.5 3207.2 L480 3206.9 L481.5 3206.5 L483 3206.1 L484.5 3205.6 L486 3205.1 L487.5 3204.5 L489 3203.9 L490.5 3203.3 L492 3202.6 L493.5 3201.8 L495 3200.9 L496.5 3199.9 L498 3198.7 L499.5 3197.4 L501 3196.1 L502.5 3194.6 L504 3193.1 L505.5 3191.6 L507 3190 L508.5 3188.4 L510 3186.7 L511.5 3185 L513 3183.1 L514.5 3181.1 L516 3179.1 L517.5 3176.9 L519 3174.7 L520.5 3172.5 L522 3170.2 L523.5 3167.9 L525 3165.6 L526.5 3163.2 L528 3160.7 L529.5 3158.2 L531 3155.6 L532.5 3152.9 L534 3150.2 L535.5 3147.4 L537 3144.7 L538.5 3141.9 L540 3139.2 L541.5 3136.5 L543 3133.7 L544.5 3130.8 L546 3128 L547.5 3125.1 L549 3122.2 L550.5 3119.3 L552 3116.5 L553.5 3113.7 L555 3111 L556.5 3108.3 L558 3105.7 L559.5 3103.2 L561 3100.7 L562.5 3098.2 L564 3095.7 L565.5 3093.3 L567 3090.9 L568.5 3088.6 L570 3086.2 L571.5 3083.9 L573 3081.5 L574.5 3079.2 L576 3077 L577.5 3074.8 L579 3072.7 L580.5 3070.6 L582 3068.4 L583.5 3066.3 L585 3064.1 L586.5 3061.9 L588 3059.7 L589.5 3057.3 L591 3054.9 L592.5 3052.4 L594 3049.8 L595.5 3047.1 L597 3044.3 L598.5 3041.4 L600 3038.5 L601.5 3035.5 L603 3032.4 L604.5 3029.2 L606 3026 L607.5 3022.7 L609 3019.3 L610.5 3015.7 L612 3011.9 L613.5 3008 L615 3004 L616.5 2999.9 L618 2995.7 L619.5 2991.6 L621 2987.5 L622.5 2983.5 L624 2979.6 L625.5 2975.8 L627 2972.1 L628.5 2968.3 L630 2964.6 L631.5 2960.9 L633 2957.2 L634.5 2953.7 L636 2950.2 L637.5 2946.8 L639 2943.5 L640.5 2940.3 L642 2937.2 L643.5 2934.2 L645 2931.3 L646.5 2928.4 L648 2925.5 L649.5 2922.8 L651 2920.2 L652.5 2917.6 L654 2915.2 L655.5 2912.9 L657 2910.8 L658.5 2908.7 L660 2906.6 L661.5 2904.6 L663 2902.6 L664.5 2900.7 L666 2898.9 L667.5 2897.1 L669 2895.3 L670.5 2893.6 L672 2892 L673.5 2890.4 L675 2888.9 L676.5 2887.4 L678 2885.9 L679.5 2884.5 L681 2883.2 L682.5 2881.9 L684 2880.6 L685.5 2879.3 L687 2878 L688.5 2876.8 L690 2875.6 L691.5 2874.4 L693 2873.3 L694.5 2872.1 L696 2871.1 L697.5 2870 L699 2869 L700.5 2868.1 L702 2867.2 L703.5 2866.3 L705 2865.5 L706.5 2864.8 L708 2864.1 L709.5 2863.4 L711 2862.8 L712.5 2862.2 L714 2861.6 L715.5 2861 L717 2860.4 L718.5 2859.8 L720 2859.2 L721.5 2858.7 L723 2858.2 L724.5 2857.7 L726 2857.2 L727.5 2856.8 L729 2856.4 L730.5 2856 L732 2855.6 L733.5 2855.2 L735 2854.9 L736.5 2854.6 L738 2854.4 L739.5 2854.2 L741 2854 L742.5 2853.8 L744 2853.7 L745.5 2853.6 L747 2853.5 L748.5 2853.4 L750 2853.3 L751.5 2853.2 L753 2853.2 L754.5 2853.1 L756 2853 L757.5 2852.9 L759 2852.7 L760.5 2852.6 L762 2852.4 L763.5 2852.2 L765 2851.8 L766.5 2850.8 L768 2849.6 L769.5 2848.4 L771 2847.6 L772.5 2847.3 L774 2847.1 L775.5 2847 L777 2846.9 L778.5 2846.8 L780 2846.7 L781.5 2846.6 L783 2846.5 L784.5 2846.4 L786 2846.4 L787.5 2846.3 L789 2846.3 L790.5 2846.2 L792 2846.2 L793.5 2846.2 L795 2846.1 L796.5 2846.1 L798 2846.1 L799.5 2846.1 L801 2846.1 L802.5 2846.1 L804 2846.1 L805.5 2846.2 L807 2846.2 L808.5 2846.3 L810 2846.3 L811.5 2846.4 L813 2846.5 L814.5 2846.6 L816 2846.7 L817.5 2846.8 L819 2846.9 L820.5 2847 L822 2847.1 L823.5 2847.3 L825 2847.4 L826.5 2847.5 L828 2847.7 L829.5 2847.8 L831 2848 L832.5 2848.2 L834 2848.4 L835.5 2848.8 L837 2849.3 L838.5 2849.8 L840 2850.4 L841.5 2850.9 L843 2851.5 L844.5 2852 L846 2852.4 L847.5 2852.7 L849 2852.9 L850.5 2852.9 L852 2852.4 L853.5 2851.5 L855 2850.3 L856.5 2848.8 L858 2847.2 L859.5 2845.6 L861 2844.2 L862.5 2843 L864 2842.1 L865.5 2841.5 L867 2840.8 L868.5 2840.2 L870 2839.7 L871.5 2839.1 L873 2838.6 L874.5 2838.1 L876 2837.7 L877.5 2837.2 L879 2836.8 L880.5 2836.4 L882 2836 L883.5 2835.7 L885 2835.4 L886.5 2835.1 L888 2834.8 L889.5 2834.5 L891 2834.3 L892.5 2834 L894 2833.8 L895.5 2833.6 L897 2833.4 L898.5 2833.1 L900 2832.9 L901.5 2832.7 L903 2832.5 L904.5 2832.3 L906 2832.2 L907.5 2832 L909 2831.8 L910.5 2831.7 L912 2831.5 L913.5 2831.4 L915 2831.3 L916.5 2831.2 L918 2831.1 L919.5 2831 L921 2831 L922.5 2830.9 L924 2830.9 L925.5 2830.9 L927 2830.9 L928.5 2830.9 L930 2830.9 L931.5 2831 L933 2831 L934.5 2831 L936 2831.1 L937.5 2831.1 L939 2831.2 L940.5 2831.2 L942 2831.3 L943.5 2831.4 L945 2831.4 L946.5 2831.5 L948 2831.6 L949.5 2831.7 L951 2831.8 L952.5 2831.9 L954 2831.9 L955.5 2832 L957 2832.1 L958.5 2832.3 L960 2832.4 L961.5 2832.6 L963 2832.9 L964.5 2833.1 L966 2833.4 L967.5 2833.7 L969 2834.1 L970.5 2834.4 L972 2834.8 L973.5 2835.2 L975 2835.6 L976.5 2836.1 L978 2836.5 L979.5 2837 L981 2837.5 L982.5 2838 L984 2838.6 L985.5 2839.3 L987 2840.1 L988.5 2840.9 L990 2841.8 L991.5 2842.7 L993 2843.7 L994.5 2844.7 L996 2845.7 L997.5 2846.9 L999 2848.2 L1000.5 2849.8 L1002 2851.5 L1003.5 2853.3 L1005 2855.1 L1006.5 2857 L1008 2858.9 L1009.5 2860.7 L1011 2862.5 L1012.5 2864.1 L1014 2865.5 L1015.5 2866.7 L1017 2867.6 L1018.5 2868.4 L1020 2869 L1021.5 2869.6 L1023 2870.1 L1024.5 2870.6 L1026 2871 L1027.5 2871.5 L1029 2871.9 L1030.5 2872.4 L1032 2873 L1033.5 2873.7 L1035 2874.4 L1036.5 2875.3 L1038 2876.7 L1039.5 2878.8 L1041 2881.2 L1042.5 2883.6 L1044 2885.6 L1045.5 2887 L1047 2887 L1048.5 2882.6 L1050 2875.3 L1051.5 2869.1 L1053 2867.4 L1054.5 2869.1 L1056 2872.3 L1057.5 2876.4 L1059 2884.2 L1060.5 2896.1 L1062 2908.8 L1063.5 2918.8 L1065 2925.5 L1066.5 2931.4 L1068 2935 L1069.5 2929.8 L1071 2907.3 L1072.5 2892.2 L1074 2896.2 L1075.5 2905.2 L1077 2911.8 L1078.5 2912 L1080 2911.4 L1081.5 2910.2 L1083 2908.7 L1084.5 2906.9 L1086 2905 L1087.5 2902.7 L1089 2898.8 L1090.5 2893.8 L1092 2888.3 L1093.5 2882.9 L1095 2878 L1096.5 2874.3 L1098 2871.5 L1099.5 2868.6 L1101 2865.9 L1102.5 2863.4 L1104 2861.3 L1105.5 2859.6 L1107 2858.5 L1108.5 2858.1 L1110 2858.1 L1111.5 2858.1 L1113 2858.2 L1114.5 2858.3 L1116 2858.4 L1117.5 2858.5 L1119 2858.7 L1120.5 2858.9 L1122 2859 L1123.5 2859.2 L1125 2859.4 L1126.5 2859.7 L1128 2859.9 L1129.5 2860.1 L1131 2860.4 L1132.5 2860.6 L1134 2860.9 L1135.5 2861.2 L1137 2861.4 L1138.5 2861.7 L1140 2862 L1141.5 2862.2 L1143 2862.5 L1144.5 2862.8 L1146 2863.1 L1147.5 2863.5 L1149 2863.8 L1150.5 2864.2 L1152 2864.6 L1153.5 2865 L1155 2865.4 L1156.5 2865.9 L1158 2866.3 L1159.5 2866.8 L1161 2867.3 L1162.5 2867.8 L1164 2868.3 L1165.5 2868.8 L1167 2869.4 L1168.5 2869.9 L1170 2870.5 L1171.5 2871.1 L1173 2871.7 L1174.5 2872.3 L1176 2872.9 L1177.5 2873.6 L1179 2874.2 L1180.5 2874.9 L1182 2875.7 L1183.5 2876.5 L1185 2877.5 L1186.5 2878.6 L1188 2879.7 L1189.5 2880.8 L1191 2881.9 L1192.5 2883 L1194 2883.9 L1195.5 2884.7 L1197 2885.3 L1198.5 2886 L1200 2886.7 L1201.5 2887.3 L1203 2888 L1204.5 2888.6 L1206 2889.2 L1207.5 2889.7 L1209 2890.2 L1210.5 2890.6 L1212 2890.9 L1213.5 2891.1 L1215 2891.3 L1216.5 2891.3 L1218 2891.2 L1219.5 2891.1 L1221 2890.9 L1222.5 2890.6 L1224 2890.3 L1225.5 2889.9 L1227 2889.5 L1228.5 2889.2 L1230 2888.8 L1231.5 2888.4 L1233 2888.1 L1234.5 2887.8 L1236 2887.6 L1237.5 2887.4 L1239 2887.3 L1240.5 2887.3 L1242 2887.3 L1243.5 2887.3 L1245 2887.3 L1246.5 2887.4 L1248 2887.4 L1249.5 2887.5 L1251 2887.5 L1252.5 2887.5 L1254 2887.6 L1255.5 2887.7 L1257 2887.7 L1258.5 2887.8 L1260 2887.8 L1261.5 2887.9 L1263 2887.9 L1264.5 2888 L1266 2888 L1267.5 2888.1 L1269 2888.1 L1270.5 2888.2 L1272 2888.2 L1273.5 2888.2 L1275 2888.3 L1276.5 2888.3 L1278 2888.3 L1279.5 2888.4 L1281 2888.4 L1282.5 2888.4 L1284 2888.5 L1285.5 2888.5 L1287 2888.5 L1288.5 2888.6 L1290 2888.6 L1291.5 2888.7 L1293 2888.8 L1294.5 2888.6 L1296 2888.8 L1297.5 2888.8 L1299 2888.6 L1300.5 2889.6 L1302 2889.2 L1303.5 2889.1 L1305 2889 L1306.5 2890.1 L1308 2889.8 L1309.5 2891.6 L1311 2892.6 L1312.5 2891.5 L1314 2891.6 L1315.5 2892.3 L1317 2893.8 L1318.5 2892.8 L1320 2894.5 L1321.5 2893.7 L1323 2892.4 L1324.5 2896.9 L1326 2896.6 L1327.5 2896 L1329 2896.8 L1330.5 2897.4 L1332 2899.4 L1333.5 2898 L1335 2899.2 L1336.5 2899.2 L1338 2899.5 L1339.5 2901.2 L1341 2901.8 L1342.5 2901.5 L1344 2905.1 L1345.5 2900.5 L1347 2905.5 L1348.5 2903.6 L1350 2904.8 L1351.5 2907.1 L1353 2908.3 L1354.5 2909.6 L1356 2907.8 L1357.5 2912.4 L1359 2910.5 L1360.5 2913.1 L1362 2915.5 L1363.5 2915.9 L1365 2917.7 L1366.5 2920.7 L1368 2922 L1369.5 2923.2 L1371 2927.8 L1372.5 2930.3 L1374 2932.3 L1375.5 2934.7 L1377 2938.3 L1378.5 2941.2 L1380 2944.7 L1381.5 2947.5 L1383 2949.8 L1384.5 2959.1 L1386 2965.8 L1387.5 2970.6 L1389 2969.5 L1390.5 2951.8 L1392 2937.9 L1393.5 2941.5 L1395 2941.7 L1396.5 2941.8 L1398 2941.5 L1399.5 2945.7 L1401 2944.9 L1402.5 2948.8 L1404 2948.4 L1405.5 2950.8 L1407 2948.9 L1408.5 2954.4 L1410 2955.6 L1411.5 2957.7 L1413 2961.5 L1414.5 2967.6 L1416 2967.1 L1417.5 2968.9 L1419 2974.9 L1420.5 2976.1 L1422 2980.2 L1423.5 2985.2 L1425 2988.3 L1426.5 2991.9 L1428 2996.2 L1429.5 2999.9 L1431 3004.4 L1432.5 3010.4 L1434 3016 L1435.5 3022.1 L1437 3027.9 L1438.5 3033.8 L1440 3039.2 L1441.5 3044.8 L1443 3050.9 L1444.5 3057.3 L1446 3063.2 L1447.5 3068.4 L1449 3072.3 L1450.5 3074.5 L1452 3075.7 L1453.5 3076.7 L1455 3077.6 L1456.5 3078.1 L1458 3078.4 L1459.5 3078.1 L1461 3077 L1462.5 3075.2 L1464 3072.8 L1465.5 3070.1 L1467 3067.1 L1468.5 3062.5 L1470 3056.4 L1471.5 3049.6 L1473 3042.5 L1474.5 3035.9 L1476 3028.7 L1477.5 3020.9 L1479 3013.6 L1480.5 3008 L1482 3004.7 L1483.5 3002.1 L1485 3000.2 L1486.5 2999.5 L1488 2999.8 L1489.5 3000.7 L1491 3002.1 L1492.5 3003.1 L1494 3005.5 L1495.5 3007.1 L1497 3009.6 L1498.5 3011.3 L1500 3013.6 L1501.5 3017.4 L1503 3020.8 L1504.5 3024.2 L1506 3026.2 L1507.5 3030.3 L1509 3035.8 L1510.5 3036.2 L1512 3038.4 L1513.5 3043.5 L1515 3044.4 L1516.5 3050.5 L1518 3050.7 L1519.5 3054.7 L1521 3060.2 L1522.5 3060 L1524 3064.2 L1525.5 3068.7 L1527 3072 L1528.5 3072.5 L1530 3079.9 L1531.5 3081.8 L1533 3086.1 L1534.5 3091 L1536 3095.3 L1537.5 3098.6 L1539 3104.1 L1540.5 3107.6 L1542 3110.2 L1543.5 3115.3 L1545 3121.2 L1546.5 3127.1 L1548 3134.2 L1549.5 3139.3 L1551 3148.2 L1552.5 3155.5 L1554 3162.2 L1555.5 3168.4 L1557 3174.3 L1558.5 3181.4 L1560 3187.7 L1561.5 3193.9 L1563 3199 L1564.5 3202.5 L1566 3204.7 L1567.5 3206.6 L1569 3208.3 L1570.5 3209.6 L1572 3210.8 L1573.5 3211.9 L1575 3212.8 L1576.5 3213.6 L1578 3214.3 L1579.5 3214.9 L1581 3215.4 L1582.5 3215.9 L1584 3216.5 L1585.5 3217 L1587 3217.7 L1588.5 3218.5 L1590 3219.5 L1591.5 3220.6 L1593 3221.9 L1594.5 3223.3 L1596 3224.7 L1597.5 3226.1 L1599 3227.4 L1600.5 3228.5 L1602 3229.6 L1603.5 3230.8 L1605 3232 L1606.5 3233.2 L1608 3234.2 L1609.5 3235 L1611 3235.6 L1612.5 3235.8 L1614 3235.3 L1615.5 3233.9 L1617 3231.7 L1618.5 3228.8 L1620 3222.6 L1621.5 3210.9 L1623 3196.4 L1624.5 3181.4 L1626 3166.3 L1627.5 3149.3 L1629 3131.4 L1630.5 3113.6 L1632 3095.8 L1633.5 3077.6 L1635 3059.3 L1636.5 3041.5 L1638 3023.5 L1639.5 3005.3 L1641 2988 L1642.5 2973.1 L1644 2960.2 L1645.5 2948 L1647 2936.9 L1648.5 2927.1 L1650 2918.9 L1651.5 2912.4 L1653 2906.5 L1654.5 2901.1 L1656 2896.3 L1657.5 2892.2 L1659 2888.8 L1660.5 2886.2 L1662 2884.2 L1663.5 2882.3 L1665 2880.5 L1666.5 2878.8 L1668 2877.4 L1669.5 2876.1 L1671 2875.2 L1672.5 2874.5 L1674 2874.1 L1675.5 2874.1 L1677 2874.1 L1678.5 2874.2 L1680 2874.2 L1681.5 2874.3 L1683 2874.4 L1684.5 2874.5 L1686 2874.6 L1687.5 2874.7 L1689 2874.9 L1690.5 2875.1 L1692 2875.2 L1693.5 2875.4 L1695 2875.7 L1696.5 2876.2 L1698 2876.8 L1699.5 2877.4 L1701 2878.2 L1702.5 2879.1 L1704 2880 L1705.5 2881 L1707 2882 L1708.5 2883.1 L1710 2884.1 L1711.5 2885.2 L1713 2886.3 L1714.5 2887.5 L1716 2888.9 L1717.5 2890.4 L1719 2892 L1720.5 2893.7 L1722 2895.4 L1723.5 2897.1 L1725 2898.8 L1726.5 2900.4 L1728 2901.9 L1729.5 2903.3 L1731 2904.8 L1732.5 2906.2 L1734 2907.6 L1735.5 2909 L1737 2910.3 L1738.5 2911.7 L1740 2913.1 L1741.5 2914.4 L1743 2915.8 L1744.5 2917.2 L1746 2918.6 L1747.5 2920 L1749 2921.4 L1750.5 2922.8 L1752 2924 L1753.5 2925.2 L1755 2926.3 L1756.5 2927.5 L1758 2928.9 L1759.5 2930.4 L1761 2932.2 L1762.5 2934.4 L1764 2937.3 L1765.5 2942.1 L1767 2948.2 L1768.5 2954.8 L1770 2964.9 L1771.5 2975.5 L1773 2980 L1774.5 2971.6 L1776 2958.4 L1777.5 2952.7 L1779 2950.3 L1780.5 2949.3 L1782 2949.6 L1783.5 2950.6 L1785 2952.1 L1786.5 2953.8 L1788 2955.6 L1789.5 2957.3 L1791 2959 L1792.5 2960.9 L1794 2962.8 L1795.5 2964.9 L1797 2967.1 L1798.5 2969.3 L1800 2971.6 L1801.5 2974 L1803 2976.5 L1804.5 2979 L1806 2981.6 L1807.5 2984.2 L1809 2987 L1810.5 2989.8 L1812 2992.8 L1813.5 2995.9 L1815 2999 L1816.5 3002.3 L1818 3005.7 L1819.5 3009.1 L1821 3012.5 L1822.5 3016 L1824 3019.5 L1825.5 3023 L1827 3026.5 L1828.5 3030 L1830 3033.6 L1831.5 3037.2 L1833 3040.9 L1834.5 3044.7 L1836 3048.4 L1837.5 3052.3 L1839 3056.1 L1840.5 3060 L1842 3063.9 L1843.5 3067.9 L1845 3071.9 L1846.5 3075.9 L1848 3080.1 L1849.5 3084.4 L1851 3088.7 L1852.5 3093 L1854 3097.4 L1855.5 3101.8 L1857 3106.1 L1858.5 3110.4 L1860 3114.6 L1861.5 3118.8 L1863 3122.8 L1864.5 3126.7 L1866 3130.5 L1867.5 3134.2 L1869 3137.7 L1870.5 3141.3 L1872 3144.8 L1873.5 3148.3 L1875 3151.9 L1876.5 3155.6 L1878 3159.4 L1879.5 3163.4 L1881 3167.6 L1882.5 3172.1 L1884 3177.5 L1885.5 3183.3 L1887 3189.1 L1888.5 3194.3 L1890 3198.5 L1891.5 3201.2 L1893 3203.3 L1894.5 3205 L1896 3206.6 L1897.5 3208 L1899 3209.6 L1900.5 3211.5 L1902 3213.7 L1903.5 3216 L1905 3218.3 L1906.5 3220.3 L1908 3221.9 L1909.5 3223.2 L1911 3224.5 L1912.5 3225.5 L1914 3226.1 L1915.5 3226.1 L1917 3225.4 L1918.5 3224 L1920 3222.3 L1921.5 3220.2 L1923 3217.4 L1924.5 3213 L1926 3207.5 L1927.5 3201.4 L1929 3195.1 L1930.5 3188.5 L1932 3180.8 L1933.5 3172.5 L1935 3164.1 L1936.5 3156.3 L1938 3149 L1939.5 3141.4 L1941 3134.4 L1942.5 3129.1 L1944 3125.9 L1945.5 3123.4 L1947 3121.8 L1948.5 3122 L1950 3124.6 L1951.5 3128.2 L1953 3131 L1954.5 3131.8 L1956 3132 L1957.5 3132 L1959 3132.1 L1960.5 3132.2 L1962 3132.6 L1963.5 3134.5 L1965 3138.2 L1966.5 3142.9 L1968 3148.1 L1969.5 3153.2 L1971 3157.5 L1972.5 3161.5 L1974 3165.6 L1975.5 3169.6 L1977 3173.6 L1978.5 3177.5 L1980 3181.2 L1981.5 3184.6 L1983 3187.6 L1984.5 3190.3 L1986 3192.9 L1987.5 3195.3 L1989 3197.6 L1990.5 3199.7 L1992 3201.8 L1993.5 3203.8 L1995 3205.7 L1996.5 3207.6 L1998 3209.6 L1999.5 3211.5 L2001 3213.5 L2002.5 3215.4 L2004 3217.3 L2005.5 3219.1 L2007 3220.7 L2008.5 3222.3 L2010 3223.6 L2011.5 3224.8 L2013 3225.7 L2014.5 3226.5 L2016 3227.1 L2017.5 3227.7 L2019 3228.2 L2020.5 3228.7 L2022 3229.2 L2023.5 3229.6 L2025 3230 L2026.5 3230.4 L2028 3230.7 L2029.5 3231 L2031 3231.3 L2032.5 3231.5 L2034 3231.8 L2035.5 3232 L2037 3232.2 L2038.5 3232.5 L2040 3232.7 L2041.5 3232.9 L2043 3233.1 L2044.5 3233.3 L2046 3233.5 L2047.5 3233.6 L2049 3233.7 L2050.5 3233.8 L2052 3233.9 L2053.5 3233.9 L2055 3233.8 L2056.5 3233.6 L2058 3233.2 L2059.5 3232.7 L2061 3232 L2062.5 3231.3 L2064 3230.5 L2065.5 3229.7 L2067 3228.8 L2068.5 3227.6 L2070 3226.2 L2071.5 3224.6 L2073 3222.9 L2074.5 3221.2 L2076 3219.5 L2077.5 3217.9 L2079 3216.6 L2080.5 3215.3 L2082 3214.1 L2083.5 3213 L2085 3211.8 L2086.5 3210.7 L2088 3209.6 L2089.5 3208.5 L2091 3207.3 L2092.5 3206.1 L2094 3204.6 L2095.5 3202.9 L2097 3201.3 L2098.5 3200.3 L2100 3200.2 L2101.5 3201.7 L2103 3204.2 L2104.5 3207.4 L2106 3212.5 L2107.5 3220.3 L2109 3227 L2110.5 3230.7 L2112 3233.8 L2113.5 3235.4 L2115 3235.5 L2116.5 3235.3 L2118 3235 L2119.5 3234.5 L2121 3233.9 L2122.5 3228.2 L2124 3217.3 L2125.5 3207 L2126.5 3200" fill="none" stroke="#000000" stroke-width="8.0" stroke-linejoin="round" stroke-linecap="butt"/>
<path d="M183 2689.8 L184.5 2690 L186 2690.2 L187.5 2690.4 L189 2690.6 L190.5 2690.7 L192 2691 L193.5 2691.1 L195 2691.3 L196.5 2691.4 L198 2691.9 L199.5 2692.4 L201 2691.5 L202.5 2692.9 L204 2692.6 L205.5 2692.9 L207 2691.8 L208.5 2693.1 L210 2694.7 L211.5 2692.3 L213 2691.6 L214.5 2692 L216 2694.2 L217.5 2696.5 L219 2695.5 L220.5 2696.2 L222 2694.8 L223.5 2696.3 L225 2694.9 L226.5 2696 L228 2695.3 L229.5 2695.3 L231 2696.2 L232.5 2695.8 L234 2697.8 L235.5 2696.9 L237 2697.4 L238.5 2696.9 L240 2698.7 L241.5 2696.9 L243 2698.6 L244.5 2697.8 L246 2697.5 L247.5 2698.2 L249 2698.1 L250.5 2699 L252 2699.1 L253.5 2700 L255 2700.5 L256.5 2700.1 L258 2700.5 L259.5 2701.1 L261 2700.6 L262.5 2702.1 L264 2702.5 L265.5 2702.2 L267 2704.7 L268.5 2703.5 L270 2702.8 L271.5 2702.9 L273 2703.3 L274.5 2703.3 L276 2705.3 L277.5 2703.7 L279 2704.7 L280.5 2704.5 L282 2706.4 L283.5 2704.3 L285 2705.7 L286.5 2706.3 L288 2707.1 L289.5 2707.6 L291 2707.3 L292.5 2708.9 L294 2708.6 L295.5 2711.2 L297 2707.7 L298.5 2710.3 L300 2709.1 L301.5 2709.8 L303 2713.1 L304.5 2713.4 L306 2710.4 L307.5 2712.6 L309 2713.4 L310.5 2712.1 L312 2715 L313.5 2716.2 L315 2716.9 L316.5 2715.7 L318 2719.7 L319.5 2719.8 L321 2720.6 L322.5 2720.9 L324 2723.5 L325.5 2724.8 L327 2724.7 L328.5 2726.4 L330 2728.2 L331.5 2727.7 L333 2730.6 L334.5 2731.1 L336 2733.4 L337.5 2735.8 L339 2737.6 L340.5 2739.8 L342 2742.7 L343.5 2746.3 L345 2750.2 L346.5 2754.3 L348 2758.4 L349.5 2762.3 L351 2765.7 L352.5 2768.7 L354 2771.7 L355.5 2774.7 L357 2777.4 L358.5 2779.7 L360 2781.3 L361.5 2782.2 L363 2782.8 L364.5 2783.4 L366 2784 L367.5 2784.5 L369 2784.9 L370.5 2785.2 L372 2785.4 L373.5 2785.6 L375 2785.6 L376.5 2785.6 L378 2785.5 L379.5 2785.3 L381 2785.2 L382.5 2784.9 L384 2784.7 L385.5 2784.4 L387 2784.1 L388.5 2783.8 L390 2783.4 L391.5 2782.8 L393 2782 L394.5 2781.2 L396 2780.5 L397.5 2780.1 L399 2780 L400.5 2780 L402 2780.1 L403.5 2780.1 L405 2780.2 L406.5 2780.2 L408 2780.3 L409.5 2780.4 L411 2780.5 L412.5 2780.6 L414 2780.7 L415.5 2780.8 L417 2780.9 L418.5 2781 L420 2781.2 L421.5 2781.3 L423 2781.5 L424.5 2781.7 L426 2781.9 L427.5 2782.1 L429 2782.4 L430.5 2782.6 L432 2782.9 L433.5 2783.1 L435 2783.3 L436.5 2783.6 L438 2783.8 L439.5 2784 L441 2784.1 L442.5 2784.3 L444 2784.4 L445.5 2784.6 L447 2784.6 L448.5 2784.7 L450 2784.7 L451.5 2784.7 L453 2784.7 L454.5 2784.7 L456 2784.7 L457.5 2784.7 L459 2784.7 L460.5 2784.7 L462 2784.7 L463.5 2784.7 L465 2784.7 L466.5 2784.7 L468 2784.7 L469.5 2784.7 L471 2784.7 L472.5 2784.7 L474 2784.7 L475.5 2784.7 L477 2784.7 L478.5 2784.7 L480 2784.7 L481.5 2784.6 L483 2784.5 L484.5 2784.4 L486 2784.3 L487.5 2784.1 L489 2783.9 L490.5 2783.7 L492 2783.5 L493.5 2783.3 L495 2783.1 L496.5 2782.8 L498 2782.5 L499.5 2782.2 L501 2781.9 L502.5 2781.7 L504 2781.3 L505.5 2781 L507 2780.7 L508.5 2780.4 L510 2780.1 L511.5 2779.8 L513 2779.4 L514.5 2779 L516 2778.6 L517.5 2778.2 L519 2777.7 L520.5 2777.2 L522 2776.6 L523.5 2776.1 L525 2775.5 L526.5 2774.9 L528 2774.3 L529.5 2773.7 L531 2773.1 L532.5 2772.4 L534 2771.8 L535.5 2771.2 L537 2770.5 L538.5 2769.9 L540 2769.2 L541.5 2768.6 L543 2768 L544.5 2767.4 L546 2766.7 L547.5 2766.1 L549 2765.5 L550.5 2764.8 L552 2764.2 L553.5 2763.6 L555 2762.9 L556.5 2762.2 L558 2761.6 L559.5 2760.9 L561 2760.2 L562.5 2759.5 L564 2758.8 L565.5 2758.1 L567 2757.4 L568.5 2756.7 L570 2756 L571.5 2755.2 L573 2754.5 L574.5 2753.8 L576 2753 L577.5 2752.2 L579 2751.4 L580.5 2750.7 L582 2749.9 L583.5 2749 L585 2748.2 L586.5 2747.4 L588 2746.6 L589.5 2745.7 L591 2744.8 L592.5 2744 L594 2743.1 L595.5 2742.1 L597 2741.2 L598.5 2740.2 L600 2739.2 L601.5 2738.2 L603 2737.1 L604.5 2736.1 L606 2734.9 L607.5 2733.7 L609 2732.4 L610.5 2731.1 L612 2729.8 L613.5 2728.4 L615 2727 L616.5 2725.6 L618 2724.1 L619.5 2722.7 L621 2721.3 L622.5 2719.9 L624 2718.5 L625.5 2717.1 L627 2715.8 L628.5 2714.5 L630 2713.2 L631.5 2711.9 L633 2710.6 L634.5 2709.3 L636 2708 L637.5 2706.7 L639 2705.4 L640.5 2704.1 L642 2702.8 L643.5 2701.6 L645 2700.3 L646.5 2699.1 L648 2697.9 L649.5 2696.6 L651 2695.4 L652.5 2694.3 L654 2693.1 L655.5 2691.9 L657 2690.8 L658.5 2689.7 L660 2688.5 L661.5 2687.4 L663 2686.3 L664.5 2685.1 L666 2684 L667.5 2682.9 L669 2681.8 L670.5 2680.8 L672 2679.7 L673.5 2678.7 L675 2677.7 L676.5 2676.7 L678 2675.7 L679.5 2674.8 L681 2673.9 L682.5 2673 L684 2672.2 L685.5 2671.3 L687 2670.5 L688.5 2669.7 L690 2668.9 L691.5 2668.2 L693 2667.4 L694.5 2666.7 L696 2666 L697.5 2665.3 L699 2664.6 L700.5 2663.9 L702 2663.2 L703.5 2662.6 L705 2661.9 L706.5 2661.3 L708 2660.7 L709.5 2660.1 L711 2659.6 L712.5 2659 L714 2658.4 L715.5 2657.9 L717 2657.3 L718.5 2656.8 L720 2656.2 L721.5 2655.7 L723 2655.2 L724.5 2654.7 L726 2654.2 L727.5 2653.7 L729 2653.2 L730.5 2652.7 L732 2652.2 L733.5 2651.8 L735 2651.3 L736.5 2650.9 L738 2650.5 L739.5 2650.1 L741 2649.7 L742.5 2649.3 L744 2648.9 L745.5 2648.5 L747 2648.2 L748.5 2647.9 L750 2647.5 L751.5 2647.2 L753 2646.9 L754.5 2646.6 L756 2646.3 L757.5 2646 L759 2645.8 L760.5 2645.5 L762 2645.2 L763.5 2645 L765 2644.7 L766.5 2644.4 L768 2644.2 L769.5 2644 L771 2643.7 L772.5 2643.5 L774 2643.3 L775.5 2643.1 L777 2642.9 L778.5 2642.7 L780 2642.5 L781.5 2642.3 L783 2642.1 L784.5 2641.9 L786 2641.7 L787.5 2641.5 L789 2641.4 L790.5 2641.2 L792 2641 L793.5 2640.8 L795 2640.6 L796.5 2640.5 L798 2640.3 L799.5 2640.1 L801 2639.9 L802.5 2639.8 L804 2639.6 L805.5 2639.5 L807 2639.3 L808.5 2639.2 L810 2639 L811.5 2638.9 L813 2638.8 L814.5 2638.7 L816 2638.6 L817.5 2638.5 L819 2638.5 L820.5 2638.4 L822 2638.4 L823.5 2638.4 L825 2638.4 L826.5 2638.4 L828 2638.4 L829.5 2638.4 L831 2638.4 L832.5 2638.4 L834 2638.4 L835.5 2638.4 L837 2638.4 L838.5 2638.4 L840 2638.4 L841.5 2638.4 L843 2638.4 L844.5 2638.4 L846 2638.4 L847.5 2638.4 L849 2638.3 L850.5 2638.1 L852 2637.6 L853.5 2637 L855 2636.3 L856.5 2635.4 L858 2634.6 L859.5 2633.7 L861 2632.8 L862.5 2632.1 L864 2631.4 L865.5 2630.8 L867 2630.4 L868.5 2630.1 L870 2629.8 L871.5 2629.5 L873 2629.2 L874.5 2628.9 L876 2628.6 L877.5 2628.3 L879 2628 L880.5 2627.7 L882 2627.5 L883.5 2627.2 L885 2627 L886.5 2626.7 L888 2626.5 L889.5 2626.3 L891 2626.1 L892.5 2625.9 L894 2625.7 L895.5 2625.5 L897 2625.3 L898.5 2625.2 L900 2625 L901.5 2624.9 L903 2624.8 L904.5 2624.7 L906 2624.6 L907.5 2624.5 L909 2624.5 L910.5 2624.4 L912 2624.4 L913.5 2624.4 L915 2624.4 L916.5 2624.4 L918 2624.4 L919.5 2624.4 L921 2624.4 L922.5 2624.4 L924 2624.4 L925.5 2624.4 L927 2624.4 L928.5 2624.4 L930 2624.4 L931.5 2624.4 L933 2624.4 L934.5 2624.4 L936 2624.4 L937.5 2624.4 L939 2624.4 L940.5 2624.4 L942 2624.4 L943.5 2624.4 L945 2624.4 L946.5 2624.4 L948 2624.4 L949.5 2624.4 L951 2624.4 L952.5 2624.4 L954 2624.4 L955.5 2624.4 L957 2624.4 L958.5 2624.4 L960 2624.4 L961.5 2624.4 L963 2624.4 L964.5 2624.4 L966 2624.4 L967.5 2624.4 L969 2624.4 L970.5 2624.4 L972 2624.5 L973.5 2624.7 L975 2624.9 L976.5 2625.2 L978 2625.6 L979.5 2626 L981 2626.4 L982.5 2626.9 L984 2627.4 L985.5 2627.9 L987 2628.5 L988.5 2629 L990 2629.5 L991.5 2630 L993 2630.5 L994.5 2631.1 L996 2631.6 L997.5 2632.3 L999 2632.9 L1000.5 2633.6 L1002 2634.4 L1003.5 2635.1 L1005 2635.9 L1006.5 2636.6 L1008 2637.4 L1009.5 2638.2 L1011 2638.9 L1012.5 2639.7 L1014 2640.4 L1015.5 2641 L1017 2641.7 L1018.5 2642.3 L1020 2642.8 L1021.5 2643.3 L1023 2643.7 L1024.5 2644.1 L1026 2644.4 L1027.5 2644.8 L1029 2645.1 L1030.5 2645.4 L1032 2645.7 L1033.5 2646 L1035 2646.4 L1036.5 2646.8 L1038 2647.3 L1039.5 2647.8 L1041 2648.5 L1042.5 2649.5 L1044 2650.6 L1045.5 2651.6 L1047 2652.3 L1048.5 2652.2 L1050 2650.4 L1051.5 2647.6 L1053 2645.6 L1054.5 2645.7 L1056 2647.2 L1057.5 2649.5 L1059 2652.1 L1060.5 2654.5 L1062 2656.9 L1063.5 2659.8 L1065 2662.5 L1066.5 2664.4 L1068 2664.9 L1069.5 2662.6 L1071 2658.2 L1072.5 2653.6 L1074 2650.5 L1075.5 2650.2 L1077 2651 L1078.5 2652.2 L1080 2653.3 L1081.5 2653.8 L1083 2653.6 L1084.5 2653 L1086 2652 L1087.5 2650.8 L1089 2649.3 L1090.5 2647.8 L1092 2646.3 L1093.5 2644.9 L1095 2643.6 L1096.5 2642.5 L1098 2641.4 L1099.5 2640.2 L1101 2639 L1102.5 2638 L1104 2637.1 L1105.5 2636.4 L1107 2636.1 L1108.5 2636.1 L1110 2636.1 L1111.5 2636.2 L1113 2636.2 L1114.5 2636.3 L1116 2636.4 L1117.5 2636.5 L1119 2636.6 L1120.5 2636.7 L1122 2636.8 L1123.5 2637 L1125 2637.1 L1126.5 2637.3 L1128 2637.5 L1129.5 2637.6 L1131 2637.8 L1132.5 2638 L1134 2638.2 L1135.5 2638.4 L1137 2638.6 L1138.5 2638.7 L1140 2638.9 L1141.5 2639.1 L1143 2639.3 L1144.5 2639.5 L1146 2639.7 L1147.5 2639.8 L1149 2640 L1150.5 2640.2 L1152 2640.4 L1153.5 2640.6 L1155 2640.8 L1156.5 2641 L1158 2641.2 L1159.5 2641.4 L1161 2641.7 L1162.5 2641.9 L1164 2642.1 L1165.5 2642.3 L1167 2642.6 L1168.5 2642.8 L1170 2643.1 L1171.5 2643.3 L1173 2643.5 L1174.5 2643.8 L1176 2644 L1177.5 2644.3 L1179 2644.5 L1180.5 2644.8 L1182 2645 L1183.5 2645.2 L1185 2645.5 L1186.5 2645.7 L1188 2646 L1189.5 2646.3 L1191 2646.6 L1192.5 2647 L1194 2647.3 L1195.5 2647.6 L1197 2648 L1198.5 2648.3 L1200 2648.7 L1201.5 2649 L1203 2649.3 L1204.5 2649.6 L1206 2649.9 L1207.5 2650.1 L1209 2650.4 L1210.5 2650.6 L1212 2650.7 L1213.5 2650.9 L1215 2650.9 L1216.5 2651 L1218 2651 L1219.5 2651 L1221 2651 L1222.5 2650.9 L1224 2650.9 L1225.5 2650.8 L1227 2650.8 L1228.5 2650.7 L1230 2650.7 L1231.5 2650.6 L1233 2650.5 L1234.5 2650.4 L1236 2650.4 L1237.5 2650.3 L1239 2650.2 L1240.5 2650.1 L1242 2650 L1243.5 2649.9 L1245 2649.8 L1246.5 2649.8 L1248 2649.7 L1249.5 2649.6 L1251 2649.5 L1252.5 2649.5 L1254 2649.4 L1255.5 2649.4 L1257 2649.3 L1258.5 2649.3 L1260 2649.2 L1261.5 2649.2 L1263 2649.2 L1264.5 2649.2 L1266 2649.2 L1267.5 2649.2 L1269 2649.2 L1270.5 2649.2 L1272 2649.3 L1273.5 2649.3 L1275 2649.3 L1276.5 2649.3 L1278 2649.4 L1279.5 2649.4 L1281 2649.5 L1282.5 2649.5 L1284 2649.6 L1285.5 2649.6 L1287 2649.7 L1288.5 2649.7 L1290 2649.8 L1291.5 2649.9 L1293 2649.9 L1294.5 2650 L1296 2650.1 L1297.5 2650.2 L1299 2650.3 L1300.5 2650.3 L1302 2650.4 L1303.5 2650.5 L1305 2650.6 L1306.5 2650.7 L1308 2650.8 L1309.5 2650.9 L1311 2651 L1312.5 2651.2 L1314 2651.3 L1315.5 2651.5 L1317 2651.7 L1318.5 2652 L1320 2652.3 L1321.5 2652.6 L1323 2652.9 L1324.5 2653.3 L1326 2653.6 L1327.5 2654 L1329 2654.4 L1330.5 2654.8 L1332 2655.2 L1333.5 2655.7 L1335 2656 L1336.5 2656.4 L1338 2656.6 L1339.5 2657.6 L1341 2657.6 L1342.5 2659.3 L1344 2658.1 L1345.5 2659.2 L1347 2660.7 L1348.5 2659.3 L1350 2659.9 L1351.5 2660.4 L1353 2661.9 L1354.5 2662.4 L1356 2663.5 L1357.5 2665 L1359 2663.7 L1360.5 2665.2 L1362 2666.7 L1363.5 2665 L1365 2667.8 L1366.5 2669 L1368 2670 L1369.5 2672.1 L1371 2674.2 L1372.5 2674.2 L1374 2678.1 L1375.5 2677 L1377 2679 L1378.5 2680.8 L1380 2681 L1381.5 2685 L1383 2686.9 L1384.5 2689.1 L1386 2691.4 L1387.5 2691.2 L1389 2690.9 L1390.5 2684.9 L1392 2681.5 L1393.5 2680.3 L1395 2679.1 L1396.5 2678.2 L1398 2678.5 L1399.5 2679.2 L1401 2679.1 L1402.5 2681.2 L1404 2679 L1405.5 2681.9 L1407 2682.8 L1408.5 2684.4 L1410 2686.8 L1411.5 2688.1 L1413 2691.5 L1414.5 2692.2 L1416 2694.2 L1417.5 2697.3 L1419 2698.8 L1420.5 2700.7 L1422 2702.7 L1423.5 2703.9 L1425 2707.5 L1426.5 2711.4 L1428 2711.5 L1429.5 2713.1 L1431 2714.9 L1432.5 2716.8 L1434 2720.6 L1435.5 2722.9 L1437 2726.9 L1438.5 2728.5 L1440 2731.7 L1441.5 2734 L1443 2736.6 L1444.5 2737.1 L1446 2739.6 L1447.5 2740.3 L1449 2740 L1450.5 2741 L1452 2743.1 L1453.5 2743 L1455 2741.6 L1456.5 2743.8 L1458 2743.6 L1459.5 2743.1 L1461 2743.7 L1462.5 2741.3 L1464 2739.5 L1465.5 2740.6 L1467 2739.2 L1468.5 2738.2 L1470 2736 L1471.5 2732.6 L1473 2728.7 L1474.5 2725.8 L1476 2722.5 L1477.5 2719.5 L1479 2717.9 L1480.5 2715.9 L1482 2714.3 L1483.5 2711.6 L1485 2711 L1486.5 2709.3 L1488 2709 L1489.5 2711.2 L1491 2709.4 L1492.5 2711.2 L1494 2709.9 L1495.5 2712.1 L1497 2714 L1498.5 2714.7 L1500 2714.3 L1501.5 2716.7 L1503 2716.6 L1504.5 2717.2 L1506 2718.2 L1507.5 2718.9 L1509 2722.6 L1510.5 2724.4 L1512 2726.8 L1513.5 2726.9 L1515 2728.7 L1516.5 2730.4 L1518 2732.7 L1519.5 2734.5 L1521 2735.6 L1522.5 2738.2 L1524 2739.9 L1525.5 2741.5 L1527 2743 L1528.5 2744.5 L1530 2746.3 L1531.5 2748 L1533 2749.6 L1534.5 2751.3 L1536 2753 L1537.5 2754.6 L1539 2756.3 L1540.5 2758 L1542 2759.6 L1543.5 2761.3 L1545 2762.9 L1546.5 2764.6 L1548 2766.2 L1549.5 2767.9 L1551 2769.7 L1552.5 2771.5 L1554 2773.4 L1555.5 2775.2 L1557 2776.9 L1558.5 2778.4 L1560 2779.7 L1561.5 2780.7 L1563 2781.5 L1564.5 2782.2 L1566 2782.8 L1567.5 2783.3 L1569 2783.8 L1570.5 2784.3 L1572 2784.7 L1573.5 2785.1 L1575 2785.4 L1576.5 2785.7 L1578 2786 L1579.5 2786.2 L1581 2786.5 L1582.5 2786.7 L1584 2786.9 L1585.5 2787.1 L1587 2787.3 L1588.5 2787.5 L1590 2787.7 L1591.5 2787.9 L1593 2788.1 L1594.5 2788.3 L1596 2788.6 L1597.5 2788.9 L1599 2789.3 L1600.5 2789.6 L1602 2790 L1603.5 2790.3 L1605 2790.6 L1606.5 2790.9 L1608 2791.1 L1609.5 2791.3 L1611 2791.4 L1612.5 2791.4 L1614 2791 L1615.5 2790.4 L1617 2789.5 L1618.5 2788.4 L1620 2787 L1621.5 2785.5 L1623 2783.9 L1624.5 2781.8 L1626 2778.5 L1627.5 2774.3 L1629 2769.4 L1630.5 2764.1 L1632 2758.4 L1633.5 2752.1 L1635 2744.3 L1636.5 2735.6 L1638 2726.4 L1639.5 2717.4 L1641 2709.3 L1642.5 2702 L1644 2694.7 L1645.5 2687.6 L1647 2680.9 L1648.5 2675 L1650 2670 L1651.5 2666 L1653 2662.3 L1654.5 2658.8 L1656 2655.6 L1657.5 2652.8 L1659 2650.5 L1660.5 2648.5 L1662 2647.1 L1663.5 2646 L1665 2644.9 L1666.5 2643.8 L1668 2642.9 L1669.5 2642.1 L1671 2641.4 L1672.5 2640.9 L1674 2640.6 L1675.5 2640.5 L1677 2640.5 L1678.5 2640.6 L1680 2640.8 L1681.5 2641 L1683 2641.2 L1684.5 2641.5 L1686 2641.8 L1687.5 2642.1 L1689 2642.4 L1690.5 2642.8 L1692 2643.2 L1693.5 2643.5 L1695 2644 L1696.5 2644.5 L1698 2645.1 L1699.5 2645.8 L1701 2646.6 L1702.5 2647.4 L1704 2648.3 L1705.5 2649.2 L1707 2650.2 L1708.5 2651.2 L1710 2652.3 L1711.5 2653.3 L1713 2654.4 L1714.5 2655.4 L1716 2656.4 L1717.5 2657.4 L1719 2658.4 L1720.5 2659.4 L1722 2660.3 L1723.5 2661.2 L1725 2662 L1726.5 2662.9 L1728 2663.8 L1729.5 2664.7 L1731 2665.6 L1732.5 2666.4 L1734 2667.3 L1735.5 2668.2 L1737 2669.1 L1738.5 2670 L1740 2671 L1741.5 2671.9 L1743 2672.9 L1744.5 2673.9 L1746 2674.9 L1747.5 2675.9 L1749 2676.9 L1750.5 2677.9 L1752 2678.8 L1753.5 2679.7 L1755 2680.7 L1756.5 2681.6 L1758 2682.7 L1759.5 2684 L1761 2685.4 L1762.5 2687.1 L1764 2689 L1765.5 2692 L1767 2696.7 L1768.5 2701.7 L1770 2706.2 L1771.5 2711.1 L1773 2714 L1774.5 2711.3 L1776 2704.4 L1777.5 2699.4 L1779 2698.8 L1780.5 2698.5 L1782 2698.3 L1783.5 2698.2 L1785 2698.2 L1786.5 2698.4 L1788 2698.9 L1789.5 2699.7 L1791 2700.6 L1792.5 2701.7 L1794 2703 L1795.5 2704.4 L1797 2705.9 L1798.5 2707.5 L1800 2709.1 L1801.5 2710.7 L1803 2712.3 L1804.5 2713.8 L1806 2715.2 L1807.5 2716.6 L1809 2717.9 L1810.5 2719.2 L1812 2720.5 L1813.5 2721.9 L1815 2723.3 L1816.5 2724.7 L1818 2726.1 L1819.5 2727.5 L1821 2728.9 L1822.5 2730.3 L1824 2731.7 L1825.5 2733.1 L1827 2734.5 L1828.5 2735.9 L1830 2737.3 L1831.5 2738.6 L1833 2740 L1834.5 2741.3 L1836 2742.6 L1837.5 2743.9 L1839 2745.3 L1840.5 2746.6 L1842 2747.9 L1843.5 2749.2 L1845 2750.6 L1846.5 2751.9 L1848 2753.2 L1849.5 2754.4 L1851 2755.7 L1852.5 2757 L1854 2758.2 L1855.5 2759.4 L1857 2760.5 L1858.5 2761.7 L1860 2762.8 L1861.5 2763.8 L1863 2764.8 L1864.5 2765.9 L1866 2766.8 L1867.5 2767.8 L1869 2768.8 L1870.5 2769.7 L1872 2770.6 L1873.5 2771.5 L1875 2772.4 L1876.5 2773.2 L1878 2774.1 L1879.5 2774.9 L1881 2775.8 L1882.5 2776.6 L1884 2777.4 L1885.5 2778.2 L1887 2778.9 L1888.5 2779.7 L1890 2780.5 L1891.5 2781.3 L1893 2782.2 L1894.5 2783.1 L1896 2784 L1897.5 2784.9 L1899 2785.7 L1900.5 2786.4 L1902 2787.1 L1903.5 2787.6 L1905 2788 L1906.5 2788.2 L1908 2788.2 L1909.5 2788.2 L1911 2788.2 L1912.5 2788.2 L1914 2788.2 L1915.5 2788.2 L1917 2788.2 L1918.5 2788.2 L1920 2788.2 L1921.5 2788.2 L1923 2787.8 L1924.5 2787 L1926 2785.9 L1927.5 2784.6 L1929 2783.3 L1930.5 2781.9 L1932 2780.3 L1933.5 2778.3 L1935 2776.1 L1936.5 2774 L1938 2772.1 L1939.5 2770.6 L1941 2769.3 L1942.5 2768 L1944 2767 L1945.5 2766.4 L1947 2766.4 L1948.5 2766.5 L1950 2766.7 L1951.5 2767 L1953 2767.3 L1954.5 2767.7 L1956 2768.1 L1957.5 2768.6 L1959 2769.1 L1960.5 2769.6 L1962 2770 L1963.5 2770.6 L1965 2771.3 L1966.5 2772 L1968 2772.9 L1969.5 2773.8 L1971 2774.7 L1972.5 2775.7 L1974 2776.6 L1975.5 2777.6 L1977 2778.4 L1978.5 2779.2 L1980 2780 L1981.5 2780.6 L1983 2781.3 L1984.5 2781.9 L1986 2782.6 L1987.5 2783.2 L1989 2783.9 L1990.5 2784.5 L1992 2785.1 L1993.5 2785.3 L1995 2786.1 L1996.5 2786.4 L1998 2787.8 L1999.5 2788.4 L2001 2787.9 L2002.5 2788.9 L2004 2786.8 L2005.5 2788.3 L2007 2787.5 L2008.5 2789 L2010 2790.5 L2011.5 2789 L2013 2789.9 L2014.5 2792.5 L2016 2791 L2017.5 2793.9 L2019 2790.6 L2020.5 2788.7 L2022 2791.6 L2023.5 2790.9 L2025 2789.5 L2026.5 2790.3 L2028 2789.2 L2029.5 2793.9 L2031 2789.5 L2032.5 2793.7 L2034 2791 L2035.5 2791.5 L2037 2791.8 L2038.5 2792.6 L2040 2789.3 L2041.5 2791.5 L2043 2788.8 L2044.5 2791.7 L2046 2790.4 L2047.5 2790.8 L2049 2792.6 L2050.5 2788.9 L2052 2790.9 L2053.5 2791.5 L2055 2791.1 L2056.5 2793.2 L2058 2791.4 L2059.5 2789.4 L2061 2790.1 L2062.5 2790.3 L2064 2791.6 L2065.5 2791.3 L2067 2790.7 L2068.5 2790.7 L2070 2790.5 L2071.5 2790.5 L2073 2790.2 L2074.5 2792 L2076 2790.6 L2077.5 2790.2 L2079 2789.5 L2080.5 2789.3 L2082 2786.2 L2083.5 2788 L2085 2785.9 L2086.5 2788.6 L2088 2786.2 L2089.5 2785.7 L2091 2786.5 L2092.5 2782.6 L2094 2780.8 L2095.5 2781.9 L2097 2781.2 L2098.5 2780.8 L2100 2780.1 L2101.5 2783.2 L2103 2785.2 L2104.5 2786.3 L2106 2789.1 L2107.5 2788.3 L2109 2786.6 L2110.5 2786.4 L2112 2786.7 L2113.5 2787.8 L2115 2786.6 L2116.5 2787.3 L2118 2786.1 L2119.5 2786.5 L2121 2786.5 L2122.5 2785.8 L2124 2785.7 L2125.5 2785.5 L2126.5 2785.5" fill="none" stroke="#ff0000" stroke-width="8.0" stroke-linejoin="round" stroke-linecap="butt"/>
<path d="M183 2416.3 L184.5 2416.5 L186 2416.6 L187.5 2416.8 L189 2416.9 L190.5 2417.1 L192 2417.2 L193.5 2417.4 L195 2417.5 L196.5 2417.7 L198 2417.8 L199.5 2418 L201 2418.1 L202.5 2418.3 L204 2418.4 L205.5 2418.6 L207 2418.7 L208.5 2418.9 L210 2419 L211.5 2419.1 L213 2419.3 L214.5 2419.4 L216 2419.6 L217.5 2419.7 L219 2419.9 L220.5 2420 L222 2420.2 L223.5 2420.3 L225 2420.5 L226.5 2420.6 L228 2420.8 L229.5 2421 L231 2421.1 L232.5 2421.3 L234 2421.4 L235.5 2421.6 L237 2421.7 L238.5 2421.9 L240 2422.1 L241.5 2422.2 L243 2422.4 L244.5 2422.6 L246 2422.7 L247.5 2422.9 L249 2423.1 L250.5 2423.2 L252 2423.4 L253.5 2423.6 L255 2423.8 L256.5 2423.9 L258 2424.1 L259.5 2424.3 L261 2424.5 L262.5 2424.6 L264 2424.8 L265.5 2425 L267 2425.1 L268.5 2425.3 L270 2425.5 L271.5 2425.6 L273 2425.8 L274.5 2426 L276 2426.2 L277.5 2426.4 L279 2426.6 L280.5 2426.8 L282 2427 L283.5 2427.2 L285 2427.4 L286.5 2427.7 L288 2427.9 L289.5 2428.2 L291 2428.4 L292.5 2428.7 L294 2429 L295.5 2429.3 L297 2429.6 L298.5 2430 L300 2430.4 L301.5 2430.8 L303 2431.2 L304.5 2431.7 L306 2432.2 L307.5 2432.7 L309 2433.2 L310.5 2433.8 L312 2434.4 L313.5 2435 L315 2435.6 L316.5 2436.3 L318 2437 L319.5 2437.7 L321 2438.4 L322.5 2439.2 L324 2440 L325.5 2440.8 L327 2441.7 L328.5 2442.7 L330 2443.7 L331.5 2444.8 L333 2445.9 L334.5 2447.2 L336 2448.5 L337.5 2449.9 L339 2451.4 L340.5 2453 L342 2454.9 L343.5 2457.2 L345 2459.9 L346.5 2462.7 L348 2465.8 L349.5 2469 L351 2472.4 L352.5 2475.7 L354 2479.1 L355.5 2482.4 L357 2485.6 L358.5 2489.2 L360 2493 L361.5 2497 L363 2501 L364.5 2504.9 L366 2508.6 L367.5 2511.9 L369 2514.8 L370.5 2517.1 L372 2519.2 L373.5 2521.3 L375 2523.2 L376.5 2524.9 L378 2526.1 L379.5 2526.9 L381 2527.1 L382.5 2526.4 L384 2525.2 L385.5 2523.5 L387 2521.6 L388.5 2519.7 L390 2518 L391.5 2516.7 L393 2515.5 L394.5 2514.3 L396 2513.1 L397.5 2512 L399 2511 L400.5 2510.3 L402 2509.9 L403.5 2509.8 L405 2509.8 L406.5 2509.8 L408 2509.8 L409.5 2509.8 L411 2509.8 L412.5 2509.8 L414 2509.8 L415.5 2509.8 L417 2509.8 L418.5 2510 L420 2510.4 L421.5 2511.1 L423 2511.9 L424.5 2513 L426 2514.2 L427.5 2515.4 L429 2516.7 L430.5 2518.1 L432 2519.4 L433.5 2520.7 L435 2521.9 L436.5 2523 L438 2524.2 L439.5 2525.4 L441 2526.7 L442.5 2528.1 L444 2529.4 L445.5 2530.7 L447 2532 L448.5 2533.1 L450 2534.2 L451.5 2535.1 L453 2535.9 L454.5 2536.4 L456 2536.9 L457.5 2537.3 L459 2537.7 L460.5 2538.1 L462 2538.4 L463.5 2538.6 L465 2538.8 L466.5 2538.8 L468 2538.8 L469.5 2538.7 L471 2538.6 L472.5 2538.5 L474 2538.3 L475.5 2538.1 L477 2537.9 L478.5 2537.6 L480 2537.4 L481.5 2537.1 L483 2536.7 L484.5 2536.4 L486 2536.1 L487.5 2535.7 L489 2535.3 L490.5 2534.9 L492 2534.5 L493.5 2534.1 L495 2533.5 L496.5 2532.7 L498 2531.9 L499.5 2531 L501 2530 L502.5 2529 L504 2527.9 L505.5 2526.7 L507 2525.5 L508.5 2524.3 L510 2523.1 L511.5 2522 L513 2520.8 L514.5 2519.6 L516 2518.5 L517.5 2517.4 L519 2516.2 L520.5 2514.9 L522 2513.6 L523.5 2512.3 L525 2511 L526.5 2509.6 L528 2508.2 L529.5 2506.9 L531 2505.5 L532.5 2504.2 L534 2502.9 L535.5 2501.6 L537 2500.4 L538.5 2499.2 L540 2498 L541.5 2497 L543 2495.9 L544.5 2495 L546 2494 L547.5 2493.1 L549 2492.1 L550.5 2491.2 L552 2490.3 L553.5 2489.5 L555 2488.6 L556.5 2487.8 L558 2487 L559.5 2486.3 L561 2485.6 L562.5 2484.9 L564 2484.2 L565.5 2483.6 L567 2483 L568.5 2482.5 L570 2481.9 L571.5 2481.4 L573 2481 L574.5 2480.5 L576 2480.1 L577.5 2479.7 L579 2479.2 L580.5 2478.8 L582 2478.5 L583.5 2478.1 L585 2477.7 L586.5 2477.3 L588 2476.9 L589.5 2476.6 L591 2476.2 L592.5 2475.8 L594 2475.4 L595.5 2474.9 L597 2474.5 L598.5 2474 L600 2473.6 L601.5 2473.1 L603 2472.6 L604.5 2472.1 L606 2471.5 L607.5 2471 L609 2470.4 L610.5 2469.9 L612 2469.3 L613.5 2468.7 L615 2468.1 L616.5 2467.6 L618 2467 L619.5 2466.4 L621 2465.9 L622.5 2465.3 L624 2464.7 L625.5 2464.2 L627 2463.7 L628.5 2463.2 L630 2462.7 L631.5 2462.2 L633 2461.7 L634.5 2461.3 L636 2460.9 L637.5 2460.5 L639 2460.1 L640.5 2459.7 L642 2459.3 L643.5 2458.9 L645 2458.6 L646.5 2458.2 L648 2457.9 L649.5 2457.5 L651 2457.2 L652.5 2456.8 L654 2456.5 L655.5 2456.2 L657 2455.9 L658.5 2455.6 L660 2455.3 L661.5 2455 L663 2454.7 L664.5 2454.4 L666 2454.1 L667.5 2453.9 L669 2453.6 L670.5 2453.4 L672 2453.1 L673.5 2452.9 L675 2452.6 L676.5 2452.4 L678 2452.2 L679.5 2451.9 L681 2451.7 L682.5 2451.4 L684 2451.2 L685.5 2450.9 L687 2450.7 L688.5 2450.4 L690 2450.2 L691.5 2450 L693 2449.7 L694.5 2449.5 L696 2449.3 L697.5 2449.1 L699 2448.9 L700.5 2448.7 L702 2448.5 L703.5 2448.4 L705 2448.2 L706.5 2448.1 L708 2448 L709.5 2447.9 L711 2447.8 L712.5 2447.8 L714 2447.7 L715.5 2447.7 L717 2447.7 L718.5 2447.7 L720 2447.8 L721.5 2447.8 L723 2447.9 L724.5 2447.9 L726 2448 L727.5 2448.1 L729 2448.2 L730.5 2448.3 L732 2448.5 L733.5 2448.6 L735 2448.7 L736.5 2448.8 L738 2449 L739.5 2449.1 L741 2449.2 L742.5 2449.4 L744 2449.5 L745.5 2449.6 L747 2449.8 L748.5 2449.9 L750 2450 L751.5 2450.1 L753 2450.2 L754.5 2450.3 L756 2450.3 L757.5 2450.4 L759 2450.4 L760.5 2450.5 L762 2450.5 L763.5 2450.5 L765 2450.5 L766.5 2450.5 L768 2450.4 L769.5 2450.4 L771 2450.4 L772.5 2450.3 L774 2450.2 L775.5 2450.2 L777 2450.1 L778.5 2450 L780 2449.9 L781.5 2449.8 L783 2449.7 L784.5 2449.6 L786 2449.5 L787.5 2449.4 L789 2449.3 L790.5 2449.2 L792 2449.1 L793.5 2449 L795 2448.9 L796.5 2448.7 L798 2448.6 L799.5 2448.5 L801 2448.4 L802.5 2448.3 L804 2448.2 L805.5 2448.1 L807 2447.9 L808.5 2447.8 L810 2447.7 L811.5 2447.6 L813 2447.4 L814.5 2447.3 L816 2447.2 L817.5 2447 L819 2446.9 L820.5 2446.7 L822 2446.6 L823.5 2446.4 L825 2446.2 L826.5 2446.1 L828 2445.9 L829.5 2445.7 L831 2445.6 L832.5 2445.4 L834 2445.2 L835.5 2445 L837 2444.9 L838.5 2444.7 L840 2444.5 L841.5 2444.3 L843 2444.1 L844.5 2443.9 L846 2443.6 L847.5 2443.4 L849 2443.1 L850.5 2442.9 L852 2442.6 L853.5 2442.3 L855 2442 L856.5 2441.8 L858 2441.5 L859.5 2441.2 L861 2440.9 L862.5 2440.6 L864 2440.3 L865.5 2440 L867 2439.7 L868.5 2439.4 L870 2439.1 L871.5 2438.9 L873 2438.6 L874.5 2438.4 L876 2438.1 L877.5 2437.9 L879 2437.7 L880.5 2437.5 L882 2437.3 L883.5 2437.1 L885 2437 L886.5 2436.8 L888 2436.7 L889.5 2436.6 L891 2436.6 L892.5 2436.5 L894 2436.4 L895.5 2436.4 L897 2436.3 L898.5 2436.2 L900 2436.2 L901.5 2436.1 L903 2436 L904.5 2436 L906 2435.9 L907.5 2435.9 L909 2435.8 L910.5 2435.8 L912 2435.7 L913.5 2435.7 L915 2435.6 L916.5 2435.6 L918 2435.5 L919.5 2435.5 L921 2435.4 L922.5 2435.4 L924 2435.3 L925.5 2435.3 L927 2435.2 L928.5 2435.2 L930 2435.2 L931.5 2435.1 L933 2435.1 L934.5 2435.1 L936 2435 L937.5 2435 L939 2435 L940.5 2435 L942 2434.9 L943.5 2434.9 L945 2434.9 L946.5 2434.9 L948 2434.9 L949.5 2434.8 L951 2434.8 L952.5 2434.8 L954 2434.8 L955.5 2434.8 L957 2434.8 L958.5 2434.8 L960 2434.8 L961.5 2434.8 L963 2434.9 L964.5 2435.1 L966 2435.3 L967.5 2435.5 L969 2435.8 L970.5 2436.1 L972 2436.4 L973.5 2436.7 L975 2437 L976.5 2437.3 L978 2437.5 L979.5 2437.7 L981 2437.9 L982.5 2438 L984 2438 L985.5 2437.9 L987 2437.7 L988.5 2437.4 L990 2437 L991.5 2436.6 L993 2436.1 L994.5 2435.5 L996 2435 L997.5 2434.4 L999 2433.9 L1000.5 2433.4 L1002 2433 L1003.5 2432.6 L1005 2432.3 L1006.5 2432 L1008 2431.9 L1009.5 2431.8 L1011 2431.7 L1012.5 2431.6 L1014 2431.5 L1015.5 2431.4 L1017 2431.3 L1018.5 2431.2 L1020 2431.2 L1021.5 2431.1 L1023 2431 L1024.5 2431 L1026 2430.9 L1027.5 2430.9 L1029 2430.8 L1030.5 2430.8 L1032 2430.7 L1033.5 2430.7 L1035 2430.6 L1036.5 2430.5 L1038 2430.5 L1039.5 2430.4 L1041 2430.3 L1042.5 2430.2 L1044 2430.1 L1045.5 2430 L1047 2429.9 L1048.5 2429.8 L1050 2429.6 L1051.5 2429.5 L1053 2429.3 L1054.5 2429.2 L1056 2429 L1057.5 2428.8 L1059 2428.6 L1060.5 2428.4 L1062 2428.2 L1063.5 2428 L1065 2427.8 L1066.5 2427.6 L1068 2427.4 L1069.5 2427.2 L1071 2427 L1072.5 2426.8 L1074 2426.6 L1075.5 2426.4 L1077 2426.2 L1078.5 2426 L1080 2425.8 L1081.5 2425.6 L1083 2425.4 L1084.5 2425.2 L1086 2425.1 L1087.5 2424.9 L1089 2424.8 L1090.5 2424.6 L1092 2424.5 L1093.5 2424.4 L1095 2424.3 L1096.5 2424.2 L1098 2424.1 L1099.5 2424 L1101 2424 L1102.5 2423.9 L1104 2423.9 L1105.5 2423.8 L1107 2423.8 L1108.5 2423.8 L1110 2423.7 L1111.5 2423.7 L1113 2423.6 L1114.5 2423.6 L1116 2423.5 L1117.5 2423.5 L1119 2423.5 L1120.5 2423.4 L1122 2423.4 L1123.5 2423.4 L1125 2423.3 L1126.5 2423.3 L1128 2423.3 L1129.5 2423.3 L1131 2423.2 L1132.5 2423.2 L1134 2423.2 L1135.5 2423.2 L1137 2423.2 L1138.5 2423.1 L1140 2423.1 L1141.5 2423.1 L1143 2423.1 L1144.5 2423.1 L1146 2423.1 L1147.5 2423.1 L1149 2423.1 L1150.5 2423.2 L1152 2423.2 L1153.5 2423.3 L1155 2423.4 L1156.5 2423.5 L1158 2423.6 L1159.5 2423.8 L1161 2423.9 L1162.5 2424.1 L1164 2424.3 L1165.5 2424.4 L1167 2424.6 L1168.5 2424.8 L1170 2425 L1171.5 2425.1 L1173 2425.3 L1174.5 2425.5 L1176 2425.6 L1177.5 2425.8 L1179 2425.9 L1180.5 2426 L1182 2426.1 L1183.5 2426.2 L1185 2426.3 L1186.5 2426.4 L1188 2426.4 L1189.5 2426.4 L1191 2426.4 L1192.5 2426.4 L1194 2426.4 L1195.5 2426.3 L1197 2426.3 L1198.5 2426.2 L1200 2426.2 L1201.5 2426.1 L1203 2426 L1204.5 2426 L1206 2425.9 L1207.5 2425.8 L1209 2425.7 L1210.5 2425.6 L1212 2425.5 L1213.5 2425.3 L1215 2425.2 L1216.5 2425.1 L1218 2425 L1219.5 2424.8 L1221 2424.7 L1222.5 2424.6 L1224 2424.4 L1225.5 2424.3 L1227 2424.1 L1228.5 2424 L1230 2423.8 L1231.5 2423.6 L1233 2423.5 L1234.5 2423.3 L1236 2423.2 L1237.5 2423 L1239 2422.8 L1240.5 2422.7 L1242 2422.5 L1243.5 2422.3 L1245 2422.2 L1246.5 2422 L1248 2421.9 L1249.5 2421.7 L1251 2421.5 L1252.5 2421.4 L1254 2421.2 L1255.5 2421.1 L1257 2420.9 L1258.5 2420.8 L1260 2420.6 L1261.5 2420.5 L1263 2420.4 L1264.5 2420.2 L1266 2420.1 L1267.5 2420 L1269 2419.8 L1270.5 2419.7 L1272 2419.5 L1273.5 2419.3 L1275 2419.1 L1276.5 2419 L1278 2418.8 L1279.5 2418.6 L1281 2418.4 L1282.5 2418.3 L1284 2418.1 L1285.5 2417.9 L1287 2417.7 L1288.5 2417.6 L1290 2417.4 L1291.5 2417.2 L1293 2417.1 L1294.5 2416.9 L1296 2416.8 L1297.5 2416.7 L1299 2416.6 L1300.5 2416.5 L1302 2416.4 L1303.5 2416.3 L1305 2416.2 L1306.5 2416.2 L1308 2416.1 L1309.5 2416.1 L1311 2416.1 L1312.5 2416.1 L1314 2416.1 L1315.5 2416.1 L1317 2416.1 L1318.5 2416.1 L1320 2416.1 L1321.5 2416.1 L1323 2416.1 L1324.5 2416.1 L1326 2416.1 L1327.5 2416.1 L1329 2416.1 L1330.5 2416.1 L1332 2416.1 L1333.5 2416.1 L1335 2416.1 L1336.5 2416.1 L1338 2416.2 L1339.5 2416.3 L1341 2416.5 L1342.5 2416.6 L1344 2416.8 L1345.5 2417 L1347 2417.2 L1348.5 2417.5 L1350 2417.8 L1351.5 2418.1 L1353 2418.4 L1354.5 2418.7 L1356 2419 L1357.5 2419.3 L1359 2419.8 L1360.5 2420.6 L1362 2421.5 L1363.5 2422.5 L1365 2423.6 L1366.5 2424.7 L1368 2425.7 L1369.5 2426.6 L1371 2427.3 L1372.5 2427.7 L1374 2427.8 L1375.5 2427.7 L1377 2427.5 L1378.5 2427.2 L1380 2426.8 L1381.5 2426.4 L1383 2426 L1384.5 2425.7 L1386 2425.5 L1387.5 2425.4 L1389 2425.4 L1390.5 2425.5 L1392 2425.7 L1393.5 2426 L1395 2426.3 L1396.5 2426.7 L1398 2427.2 L1399.5 2427.7 L1401 2428.2 L1402.5 2428.8 L1404 2429.4 L1405.5 2430 L1407 2430.6 L1408.5 2431.3 L1410 2431.9 L1411.5 2432.6 L1413 2433.2 L1414.5 2433.8 L1416 2434.5 L1417.5 2435.2 L1419 2436 L1420.5 2436.8 L1422 2437.6 L1423.5 2438.5 L1425 2439.4 L1426.5 2440.4 L1428 2441.4 L1429.5 2442.3 L1431 2443.4 L1432.5 2444.4 L1434 2445.4 L1435.5 2446.5 L1437 2447.5 L1438.5 2448.7 L1440 2450 L1441.5 2451.4 L1443 2452.9 L1444.5 2454.3 L1446 2455.7 L1447.5 2456.9 L1449 2458 L1450.5 2458.9 L1452 2459.7 L1453.5 2460.5 L1455 2461.2 L1456.5 2461.8 L1458 2462.3 L1459.5 2462.7 L1461 2462.8 L1462.5 2462.6 L1464 2462.1 L1465.5 2461.3 L1467 2460.3 L1468.5 2459.2 L1470 2458.1 L1471.5 2457 L1473 2455.9 L1474.5 2454.6 L1476 2453.2 L1477.5 2451.8 L1479 2450.4 L1480.5 2449.2 L1482 2448.1 L1483.5 2447.4 L1485 2446.9 L1486.5 2446.5 L1488 2446.1 L1489.5 2445.7 L1491 2445.4 L1492.5 2445.2 L1494 2445 L1495.5 2445 L1497 2445 L1498.5 2445.2 L1500 2445.3 L1501.5 2445.5 L1503 2445.8 L1504.5 2446.1 L1506 2446.4 L1507.5 2446.7 L1509 2447.1 L1510.5 2447.5 L1512 2447.9 L1513.5 2448.3 L1515 2448.7 L1516.5 2449.1 L1518 2449.5 L1519.5 2450 L1521 2450.5 L1522.5 2451 L1524 2451.6 L1525.5 2452.2 L1527 2452.8 L1528.5 2453.5 L1530 2454.2 L1531.5 2455 L1533 2455.9 L1534.5 2456.7 L1536 2457.7 L1537.5 2458.8 L1539 2460 L1540.5 2461.4 L1542 2462.9 L1543.5 2464.5 L1545 2466.3 L1546.5 2468.2 L1548 2470.2 L1549.5 2472.6 L1551 2475.5 L1552.5 2479 L1554 2482.7 L1555.5 2486.6 L1557 2490.6 L1558.5 2494.6 L1560 2498.3 L1561.5 2501.7 L1563 2504.8 L1564.5 2508.1 L1566 2511.4 L1567.5 2514.4 L1569 2516.9 L1570.5 2518.7 L1572 2519.9 L1573.5 2520.6 L1575 2521.2 L1576.5 2521.7 L1578 2522.4 L1579.5 2523.3 L1581 2525 L1582.5 2528.3 L1584 2532.8 L1585.5 2538 L1587 2543.3 L1588.5 2548.3 L1590 2552.6 L1591.5 2557.2 L1593 2561.7 L1594.5 2565.6 L1596 2568.3 L1597.5 2570.2 L1599 2571.7 L1600.5 2573 L1602 2574.3 L1603.5 2575.9 L1605 2577.8 L1606.5 2579.7 L1608 2581.5 L1609.5 2582.6 L1611 2582.7 L1612.5 2581.3 L1614 2578.6 L1615.5 2575 L1617 2566.4 L1618.5 2551.7 L1620 2535.6 L1621.5 2522.3 L1623 2509.4 L1624.5 2496.7 L1626 2485.3 L1627.5 2476.4 L1629 2469.9 L1630.5 2464.1 L1632 2458.9 L1633.5 2454.5 L1635 2450.9 L1636.5 2448.1 L1638 2446 L1639.5 2444.1 L1641 2442.4 L1642.5 2440.9 L1644 2439.6 L1645.5 2438.6 L1647 2437.8 L1648.5 2437.2 L1650 2436.8 L1651.5 2436.3 L1653 2435.9 L1654.5 2435.6 L1656 2435.2 L1657.5 2435 L1659 2434.7 L1660.5 2434.5 L1662 2434.3 L1663.5 2434.2 L1665 2434.1 L1666.5 2434.1 L1668 2434.1 L1669.5 2434.1 L1671 2434.1 L1672.5 2434.1 L1674 2434.1 L1675.5 2434.1 L1677 2434.1 L1678.5 2434.1 L1680 2434.1 L1681.5 2434.1 L1683 2434.1 L1684.5 2434.1 L1686 2434.1 L1687.5 2434.1 L1689 2434.1 L1690.5 2434.1 L1692 2434.1 L1693.5 2434.1 L1695 2434.2 L1696.5 2434.4 L1698 2434.7 L1699.5 2435.2 L1701 2435.7 L1702.5 2436.3 L1704 2436.9 L1705.5 2437.5 L1707 2438.1 L1708.5 2438.6 L1710 2439 L1711.5 2439.4 L1713 2439.6 L1714.5 2439.6 L1716 2439.6 L1717.5 2439.6 L1719 2439.6 L1720.5 2439.6 L1722 2439.6 L1723.5 2439.6 L1725 2439.6 L1726.5 2439.6 L1728 2439.5 L1729.5 2439.5 L1731 2439.5 L1732.5 2439.5 L1734 2439.5 L1735.5 2439.5 L1737 2439.4 L1738.5 2439.4 L1740 2439.4 L1741.5 2439.3 L1743 2439.3 L1744.5 2439.3 L1746 2439.3 L1747.5 2439.2 L1749 2439.2 L1750.5 2439.1 L1752 2439.1 L1753.5 2439.1 L1755 2439 L1756.5 2439 L1758 2438.9 L1759.5 2438.9 L1761 2438.8 L1762.5 2438.8 L1764 2438.7 L1765.5 2438.6 L1767 2438.6 L1768.5 2438.3 L1770 2437.9 L1771.5 2437.4 L1773 2436.8 L1774.5 2436 L1776 2435.2 L1777.5 2434.3 L1779 2433.4 L1780.5 2432.5 L1782 2431.6 L1783.5 2430.7 L1785 2429.9 L1786.5 2429.2 L1788 2428.6 L1789.5 2428.1 L1791 2427.6 L1792.5 2427.2 L1794 2426.7 L1795.5 2426.3 L1797 2425.9 L1798.5 2425.5 L1800 2425.1 L1801.5 2424.8 L1803 2424.4 L1804.5 2424.1 L1806 2423.7 L1807.5 2423.4 L1809 2423.1 L1810.5 2422.8 L1812 2422.5 L1813.5 2422.3 L1815 2422 L1816.5 2421.8 L1818 2421.5 L1819.5 2421.3 L1821 2421.1 L1822.5 2420.8 L1824 2420.6 L1825.5 2420.3 L1827 2420.1 L1828.5 2419.9 L1830 2419.7 L1831.5 2419.5 L1833 2419.4 L1834.5 2419.3 L1836 2419.2 L1837.5 2419.1 L1839 2419.1 L1840.5 2419.2 L1842 2419.7 L1843.5 2420.4 L1845 2421.2 L1846.5 2422.2 L1848 2423.3 L1849.5 2424.3 L1851 2425.4 L1852.5 2426.7 L1854 2428.4 L1855.5 2430.3 L1857 2432.3 L1858.5 2434.3 L1860 2436.3 L1861.5 2438 L1863 2439.4 L1864.5 2440.4 L1866 2440.9 L1867.5 2440.9 L1869 2440.9 L1870.5 2440.9 L1872 2440.9 L1873.5 2440.9 L1875 2440.9 L1876.5 2440.9 L1878 2440.9 L1879.5 2440.9 L1881 2441 L1882.5 2441.8 L1884 2443 L1885.5 2444.6 L1887 2446.6 L1888.5 2448.8 L1890 2451.1 L1891.5 2453.5 L1893 2455.8 L1894.5 2458 L1896 2460.4 L1897.5 2463 L1899 2465.8 L1900.5 2468.8 L1902 2471.7 L1903.5 2474.7 L1905 2477.6 L1906.5 2480.4 L1908 2483.1 L1909.5 2486.3 L1911 2489.6 L1912.5 2492.6 L1914 2494.7 L1915.5 2495.5 L1917 2494.8 L1918.5 2493.1 L1920 2490.6 L1921.5 2487.6 L1923 2484.5 L1924.5 2481 L1926 2476.5 L1927.5 2471.3 L1929 2465.9 L1930.5 2460.5 L1932 2455.5 L1933.5 2450.9 L1935 2445.9 L1936.5 2441 L1938 2436.5 L1939.5 2432.7 L1941 2430.1 L1942.5 2428.5 L1944 2427.1 L1945.5 2425.9 L1947 2425.2 L1948.5 2425 L1950 2425 L1951.5 2425.1 L1953 2425.2 L1954.5 2425.3 L1956 2425.5 L1957.5 2425.7 L1959 2425.9 L1960.5 2426.1 L1962 2426.4 L1963.5 2426.7 L1965 2427 L1966.5 2427.3 L1968 2427.9 L1969.5 2428.7 L1971 2429.8 L1972.5 2431 L1974 2432.4 L1975.5 2433.9 L1977 2435.5 L1978.5 2437 L1980 2438.5 L1981.5 2439.9 L1983 2441.3 L1984.5 2442.7 L1986 2444.2 L1987.5 2445.6 L1989 2447.2 L1990.5 2448.8 L1992 2450.5 L1993.5 2452.3 L1995 2454.3 L1996.5 2456.4 L1998 2458.6 L1999.5 2461.2 L2001 2464.3 L2002.5 2467.9 L2004 2471.9 L2005.5 2476 L2007 2480.2 L2008.5 2484.4 L2010 2488.5 L2011.5 2492.3 L2013 2495.9 L2014.5 2499.8 L2016 2503.9 L2017.5 2507.8 L2019 2511.5 L2020.5 2514.6 L2022 2516.9 L2023.5 2518.3 L2025 2519.3 L2026.5 2520.1 L2028 2520.8 L2029.5 2521.4 L2031 2521.7 L2032.5 2521.8 L2034 2521.8 L2035.5 2521.8 L2037 2521.8 L2038.5 2521.8 L2040 2521.8 L2041.5 2521.8 L2043 2522.6 L2044.5 2524.6 L2046 2527.4 L2047.5 2530.6 L2049 2533.7 L2050.5 2536.4 L2052 2539.2 L2053.5 2542.2 L2055 2544.6 L2056.5 2545.5 L2058 2544.8 L2059.5 2543 L2061 2540.6 L2062.5 2537.6 L2064 2534.5 L2065.5 2530.8 L2067 2525.9 L2068.5 2520.1 L2070 2514 L2071.5 2508.2 L2073 2503.2 L2074.5 2499.1 L2076 2495.3 L2077.5 2491.9 L2079 2488.7 L2080.5 2485.6 L2082 2482.6 L2083.5 2479.5 L2085 2476.3 L2086.5 2472.9 L2088 2469.1 L2089.5 2465 L2091 2460 L2092.5 2454.2 L2094 2448.2 L2095.5 2442.4 L2097 2437.4 L2098.5 2433.7 L2100 2430.4 L2101.5 2428.3 L2103 2429.1 L2104.5 2432.7 L2106 2438 L2107.5 2444.2 L2109 2450.2 L2110.5 2455.7 L2112 2462.5 L2113.5 2469.3 L2115 2474.5 L2116.5 2476.4 L2118 2473.4 L2119.5 2466.8 L2121 2459.1 L2122.5 2449.9 L2124 2438.2 L2125.5 2425.8 L2126.5 2418" fill="none" stroke="#0000ff" stroke-width="8.0" stroke-linejoin="round" stroke-linecap="butt"/>
<path d="M183 2218.4 L184.5 2218.6 L186 2218.8 L187.5 2219 L189 2219.2 L190.5 2219.4 L192 2219.6 L193.5 2219.8 L195 2220 L196.5 2220.2 L198 2220.3 L199.5 2220.5 L201 2220.7 L202.5 2220.9 L204 2221.1 L205.5 2221.3 L207 2221.5 L208.5 2221.7 L210 2221.9 L211.5 2222.1 L213 2222.3 L214.5 2222.5 L216 2222.7 L217.5 2222.9 L219 2223.1 L220.5 2223.3 L222 2223.5 L223.5 2223.7 L225 2223.8 L226.5 2224 L228 2224.2 L229.5 2224.4 L231 2224.6 L232.5 2224.8 L234 2225 L235.5 2225.2 L237 2225.3 L238.5 2225.5 L240 2225.7 L241.5 2225.8 L243 2226 L244.5 2226.2 L246 2226.3 L247.5 2226.5 L249 2226.6 L250.5 2226.8 L252 2227 L253.5 2227.1 L255 2227.3 L256.5 2227.5 L258 2227.6 L259.5 2227.8 L261 2228 L262.5 2228.2 L264 2228.3 L265.5 2228.5 L267 2228.7 L268.5 2228.9 L270 2229.1 L271.5 2229.4 L273 2229.6 L274.5 2229.8 L276 2230 L277.5 2230.3 L279 2230.6 L280.5 2230.8 L282 2231.1 L283.5 2231.4 L285 2231.7 L286.5 2232 L288 2232.4 L289.5 2232.7 L291 2233.1 L292.5 2233.5 L294 2233.9 L295.5 2234.3 L297 2234.8 L298.5 2235.3 L300 2235.8 L301.5 2236.3 L303 2236.8 L304.5 2237.4 L306 2238 L307.5 2238.6 L309 2239.2 L310.5 2239.8 L312 2240.5 L313.5 2241.3 L315 2242 L316.5 2242.9 L318 2243.7 L319.5 2244.7 L321 2245.6 L322.5 2246.7 L324 2247.8 L325.5 2248.9 L327 2250.1 L328.5 2251.4 L330 2252.7 L331.5 2254.1 L333 2255.6 L334.5 2257.1 L336 2258.7 L337.5 2260.4 L339 2262.3 L340.5 2264.7 L342 2267.5 L343.5 2270.7 L345 2274 L346.5 2277.6 L348 2281.3 L349.5 2285 L351 2288.6 L352.5 2292.2 L354 2295.5 L355.5 2298.7 L357 2301.5 L358.5 2304.4 L360 2307.3 L361.5 2310.3 L363 2313.1 L364.5 2315.8 L366 2318.3 L367.5 2320.5 L369 2322.3 L370.5 2323.8 L372 2325.1 L373.5 2326.3 L375 2327.4 L376.5 2328.3 L378 2329 L379.5 2329.2 L381 2328.9 L382.5 2327.9 L384 2326.4 L385.5 2324.7 L387 2323.1 L388.5 2321.6 L390 2320.4 L391.5 2319.1 L393 2317.8 L394.5 2316.4 L396 2315.2 L397.5 2314.3 L399 2313.6 L400.5 2313.3 L402 2313.3 L403.5 2313.3 L405 2313.3 L406.5 2313.3 L408 2313.3 L409.5 2313.3 L411 2313.3 L412.5 2313.3 L414 2313.3 L415.5 2313.3 L417 2313.5 L418.5 2313.8 L420 2314.3 L421.5 2314.9 L423 2315.6 L424.5 2316.4 L426 2317.2 L427.5 2318.1 L429 2318.9 L430.5 2319.8 L432 2320.7 L433.5 2321.5 L435 2322.3 L436.5 2323 L438 2323.8 L439.5 2324.6 L441 2325.5 L442.5 2326.5 L444 2327.4 L445.5 2328.4 L447 2329.3 L448.5 2330.2 L450 2331 L451.5 2331.8 L453 2332.5 L454.5 2333 L456 2333.4 L457.5 2333.7 L459 2333.8 L460.5 2333.8 L462 2333.8 L463.5 2333.8 L465 2333.8 L466.5 2333.8 L468 2333.8 L469.5 2333.8 L471 2333.8 L472.5 2333.8 L474 2333.8 L475.5 2333.8 L477 2333.8 L478.5 2333.8 L480 2333.7 L481.5 2333.5 L483 2333.3 L484.5 2333 L486 2332.6 L487.5 2332.2 L489 2331.8 L490.5 2331.3 L492 2330.8 L493.5 2330.2 L495 2329.7 L496.5 2329.2 L498 2328.6 L499.5 2327.9 L501 2327.1 L502.5 2326.2 L504 2325.2 L505.5 2324.2 L507 2323.2 L508.5 2322.1 L510 2320.9 L511.5 2319.7 L513 2318.6 L514.5 2317.4 L516 2316.2 L517.5 2315 L519 2313.9 L520.5 2312.8 L522 2311.6 L523.5 2310.4 L525 2309.2 L526.5 2308 L528 2306.7 L529.5 2305.4 L531 2304.1 L532.5 2302.8 L534 2301.5 L535.5 2300.2 L537 2298.9 L538.5 2297.7 L540 2296.5 L541.5 2295.3 L543 2294.1 L544.5 2293 L546 2292 L547.5 2291 L549 2290.1 L550.5 2289.3 L552 2288.4 L553.5 2287.6 L555 2286.7 L556.5 2285.9 L558 2285.2 L559.5 2284.4 L561 2283.7 L562.5 2283 L564 2282.3 L565.5 2281.6 L567 2281 L568.5 2280.3 L570 2279.7 L571.5 2279.1 L573 2278.5 L574.5 2277.9 L576 2277.4 L577.5 2276.9 L579 2276.3 L580.5 2275.8 L582 2275.4 L583.5 2274.9 L585 2274.4 L586.5 2273.9 L588 2273.5 L589.5 2273 L591 2272.5 L592.5 2272.1 L594 2271.6 L595.5 2271.1 L597 2270.6 L598.5 2270.1 L600 2269.6 L601.5 2269 L603 2268.4 L604.5 2267.9 L606 2267.3 L607.5 2266.7 L609 2266.1 L610.5 2265.5 L612 2264.9 L613.5 2264.2 L615 2263.6 L616.5 2263 L618 2262.4 L619.5 2261.8 L621 2261.2 L622.5 2260.6 L624 2260 L625.5 2259.4 L627 2258.9 L628.5 2258.4 L630 2257.8 L631.5 2257.3 L633 2256.8 L634.5 2256.4 L636 2256 L637.5 2255.6 L639 2255.2 L640.5 2254.8 L642 2254.4 L643.5 2254 L645 2253.6 L646.5 2253.2 L648 2252.9 L649.5 2252.5 L651 2252.2 L652.5 2251.8 L654 2251.5 L655.5 2251.2 L657 2250.9 L658.5 2250.6 L660 2250.3 L661.5 2250 L663 2249.7 L664.5 2249.4 L666 2249.1 L667.5 2248.9 L669 2248.6 L670.5 2248.4 L672 2248.2 L673.5 2248 L675 2247.8 L676.5 2247.6 L678 2247.3 L679.5 2247.1 L681 2246.9 L682.5 2246.7 L684 2246.5 L685.5 2246.3 L687 2246.1 L688.5 2245.9 L690 2245.7 L691.5 2245.5 L693 2245.3 L694.5 2245.2 L696 2245 L697.5 2244.8 L699 2244.7 L700.5 2244.6 L702 2244.5 L703.5 2244.4 L705 2244.3 L706.5 2244.2 L708 2244.1 L709.5 2244.1 L711 2244.1 L712.5 2244.1 L714 2244.1 L715.5 2244.1 L717 2244.1 L718.5 2244.1 L720 2244.2 L721.5 2244.2 L723 2244.2 L724.5 2244.2 L726 2244.3 L727.5 2244.3 L729 2244.3 L730.5 2244.3 L732 2244.4 L733.5 2244.4 L735 2244.4 L736.5 2244.5 L738 2244.5 L739.5 2244.6 L741 2244.6 L742.5 2244.6 L744 2244.7 L745.5 2244.7 L747 2244.7 L748.5 2244.8 L750 2244.8 L751.5 2244.8 L753 2244.9 L754.5 2244.9 L756 2244.9 L757.5 2244.9 L759 2244.9 L760.5 2245 L762 2245 L763.5 2245 L765 2245 L766.5 2245 L768 2245 L769.5 2245 L771 2245 L772.5 2244.9 L774 2244.9 L775.5 2244.8 L777 2244.7 L778.5 2244.7 L780 2244.6 L781.5 2244.5 L783 2244.4 L784.5 2244.3 L786 2244.2 L787.5 2244 L789 2243.9 L790.5 2243.8 L792 2243.6 L793.5 2243.5 L795 2243.4 L796.5 2243.2 L798 2243.1 L799.5 2243 L801 2242.8 L802.5 2242.7 L804 2242.6 L805.5 2242.4 L807 2242.3 L808.5 2242.2 L810 2242.1 L811.5 2242 L813 2241.9 L814.5 2241.8 L816 2241.7 L817.5 2241.6 L819 2241.5 L820.5 2241.5 L822 2241.4 L823.5 2241.3 L825 2241.2 L826.5 2241.2 L828 2241.1 L829.5 2241 L831 2241 L832.5 2240.9 L834 2240.8 L835.5 2240.8 L837 2240.7 L838.5 2240.6 L840 2240.6 L841.5 2240.5 L843 2240.4 L844.5 2240.3 L846 2240.3 L847.5 2240.2 L849 2240.1 L850.5 2240 L852 2239.9 L853.5 2239.8 L855 2239.8 L856.5 2239.7 L858 2239.5 L859.5 2239.4 L861 2239.3 L862.5 2239.2 L864 2239 L865.5 2238.9 L867 2238.7 L868.5 2238.5 L870 2238.3 L871.5 2238.1 L873 2237.8 L874.5 2237.6 L876 2237.4 L877.5 2237.2 L879 2237 L880.5 2236.8 L882 2236.6 L883.5 2236.4 L885 2236.2 L886.5 2236 L888 2235.9 L889.5 2235.7 L891 2235.6 L892.5 2235.5 L894 2235.4 L895.5 2235.3 L897 2235.2 L898.5 2235.1 L900 2235 L901.5 2234.9 L903 2234.8 L904.5 2234.7 L906 2234.6 L907.5 2234.5 L909 2234.4 L910.5 2234.3 L912 2234.2 L913.5 2234.1 L915 2234 L916.5 2233.9 L918 2233.8 L919.5 2233.7 L921 2233.6 L922.5 2233.6 L924 2233.5 L925.5 2233.4 L927 2233.3 L928.5 2233.2 L930 2233.2 L931.5 2233.1 L933 2233 L934.5 2233 L936 2232.9 L937.5 2232.9 L939 2232.8 L940.5 2232.7 L942 2232.7 L943.5 2232.7 L945 2232.6 L946.5 2232.6 L948 2232.5 L949.5 2232.5 L951 2232.5 L952.5 2232.5 L954 2232.4 L955.5 2232.4 L957 2232.4 L958.5 2232.4 L960 2232.4 L961.5 2232.4 L963 2232.5 L964.5 2232.6 L966 2232.8 L967.5 2233 L969 2233.2 L970.5 2233.4 L972 2233.6 L973.5 2233.8 L975 2234.1 L976.5 2234.3 L978 2234.5 L979.5 2234.6 L981 2234.7 L982.5 2234.8 L984 2234.8 L985.5 2234.8 L987 2234.8 L988.5 2234.8 L990 2234.7 L991.5 2234.7 L993 2234.7 L994.5 2234.6 L996 2234.6 L997.5 2234.5 L999 2234.4 L1000.5 2234.4 L1002 2234.3 L1003.5 2234.2 L1005 2234.1 L1006.5 2234 L1008 2233.9 L1009.5 2233.8 L1011 2233.7 L1012.5 2233.6 L1014 2233.5 L1015.5 2233.4 L1017 2233.3 L1018.5 2233.2 L1020 2233.1 L1021.5 2232.9 L1023 2232.8 L1024.5 2232.7 L1026 2232.6 L1027.5 2232.4 L1029 2232.3 L1030.5 2232.2 L1032 2232 L1033.5 2231.9 L1035 2231.8 L1036.5 2231.7 L1038 2231.5 L1039.5 2231.4 L1041 2231.3 L1042.5 2231.1 L1044 2231 L1045.5 2230.9 L1047 2230.8 L1048.5 2230.6 L1050 2230.4 L1051.5 2230.3 L1053 2230.1 L1054.5 2229.9 L1056 2229.7 L1057.5 2229.5 L1059 2229.2 L1060.5 2229 L1062 2228.8 L1063.5 2228.6 L1065 2228.3 L1066.5 2228.1 L1068 2227.9 L1069.5 2227.6 L1071 2227.4 L1072.5 2227.2 L1074 2226.9 L1075.5 2226.7 L1077 2226.5 L1078.5 2226.3 L1080 2226.1 L1081.5 2225.9 L1083 2225.7 L1084.5 2225.5 L1086 2225.3 L1087.5 2225.2 L1089 2225 L1090.5 2224.9 L1092 2224.8 L1093.5 2224.7 L1095 2224.6 L1096.5 2224.6 L1098 2224.5 L1099.5 2224.5 L1101 2224.5 L1102.5 2224.5 L1104 2224.5 L1105.5 2224.5 L1107 2224.5 L1108.5 2224.5 L1110 2224.5 L1111.5 2224.5 L1113 2224.5 L1114.5 2224.5 L1116 2224.5 L1117.5 2224.5 L1119 2224.5 L1120.5 2224.5 L1122 2224.5 L1123.5 2224.5 L1125 2224.5 L1126.5 2224.5 L1128 2224.5 L1129.5 2224.5 L1131 2224.5 L1132.5 2224.5 L1134 2224.5 L1135.5 2224.5 L1137 2224.5 L1138.5 2224.5 L1140 2224.5 L1141.5 2224.5 L1143 2224.5 L1144.5 2224.5 L1146 2224.5 L1147.5 2224.5 L1149 2224.5 L1150.5 2224.5 L1152 2224.5 L1153.5 2224.5 L1155 2224.5 L1156.5 2224.5 L1158 2224.5 L1159.5 2224.5 L1161 2224.5 L1162.5 2224.5 L1164 2224.5 L1165.5 2224.5 L1167 2224.5 L1168.5 2224.5 L1170 2224.5 L1171.5 2224.5 L1173 2224.5 L1174.5 2224.5 L1176 2224.5 L1177.5 2224.5 L1179 2224.5 L1180.5 2224.5 L1182 2224.5 L1183.5 2224.5 L1185 2224.5 L1186.5 2224.5 L1188 2224.5 L1189.5 2224.5 L1191 2224.5 L1192.5 2224.5 L1194 2224.5 L1195.5 2224.5 L1197 2224.5 L1198.5 2224.5 L1200 2224.5 L1201.5 2224.5 L1203 2224.5 L1204.5 2224.5 L1206 2224.5 L1207.5 2224.5 L1209 2224.4 L1210.5 2224.4 L1212 2224.4 L1213.5 2224.3 L1215 2224.2 L1216.5 2224.2 L1218 2224.1 L1219.5 2224 L1221 2223.9 L1222.5 2223.8 L1224 2223.8 L1225.5 2223.7 L1227 2223.6 L1228.5 2223.4 L1230 2223.3 L1231.5 2223.2 L1233 2223.1 L1234.5 2223 L1236 2222.9 L1237.5 2222.7 L1239 2222.6 L1240.5 2222.5 L1242 2222.4 L1243.5 2222.2 L1245 2222.1 L1246.5 2222 L1248 2221.9 L1249.5 2221.8 L1251 2221.6 L1252.5 2221.5 L1254 2221.4 L1255.5 2221.3 L1257 2221.2 L1258.5 2221.1 L1260 2221 L1261.5 2220.9 L1263 2220.8 L1264.5 2220.7 L1266 2220.6 L1267.5 2220.5 L1269 2220.4 L1270.5 2220.3 L1272 2220.1 L1273.5 2220 L1275 2219.9 L1276.5 2219.8 L1278 2219.7 L1279.5 2219.6 L1281 2219.4 L1282.5 2219.3 L1284 2219.2 L1285.5 2219.1 L1287 2219 L1288.5 2218.9 L1290 2218.7 L1291.5 2218.6 L1293 2218.5 L1294.5 2218.5 L1296 2218.4 L1297.5 2218.3 L1299 2218.2 L1300.5 2218.1 L1302 2218.1 L1303.5 2218 L1305 2218 L1306.5 2217.9 L1308 2217.9 L1309.5 2217.9 L1311 2217.9 L1312.5 2217.9 L1314 2217.9 L1315.5 2217.9 L1317 2217.9 L1318.5 2217.9 L1320 2217.9 L1321.5 2217.9 L1323 2217.9 L1324.5 2217.9 L1326 2217.9 L1327.5 2217.9 L1329 2217.9 L1330.5 2217.9 L1332 2217.9 L1333.5 2217.9 L1335 2217.9 L1336.5 2217.9 L1338 2218 L1339.5 2218.1 L1341 2218.2 L1342.5 2218.4 L1344 2218.5 L1345.5 2218.7 L1347 2218.9 L1348.5 2219.2 L1350 2219.4 L1351.5 2219.6 L1353 2219.9 L1354.5 2220.2 L1356 2220.4 L1357.5 2220.7 L1359 2221.1 L1360.5 2221.7 L1362 2222.3 L1363.5 2223.1 L1365 2223.8 L1366.5 2224.6 L1368 2225.3 L1369.5 2225.9 L1371 2226.4 L1372.5 2226.7 L1374 2226.8 L1375.5 2226.8 L1377 2226.8 L1378.5 2226.7 L1380 2226.7 L1381.5 2226.6 L1383 2226.6 L1384.5 2226.5 L1386 2226.5 L1387.5 2226.4 L1389 2226.4 L1390.5 2226.4 L1392 2226.5 L1393.5 2226.6 L1395 2226.8 L1396.5 2227.1 L1398 2227.4 L1399.5 2227.7 L1401 2228.2 L1402.5 2228.6 L1404 2229.1 L1405.5 2229.6 L1407 2230.1 L1408.5 2230.6 L1410 2231.2 L1411.5 2231.7 L1413 2232.2 L1414.5 2232.8 L1416 2233.3 L1417.5 2233.9 L1419 2234.6 L1420.5 2235.3 L1422 2236 L1423.5 2236.8 L1425 2237.6 L1426.5 2238.4 L1428 2239.3 L1429.5 2240.2 L1431 2241.1 L1432.5 2242.1 L1434 2243.2 L1435.5 2244.4 L1437 2245.7 L1438.5 2247.2 L1440 2248.6 L1441.5 2250.1 L1443 2251.5 L1444.5 2252.8 L1446 2254.1 L1447.5 2255.2 L1449 2256.1 L1450.5 2257 L1452 2257.9 L1453.5 2258.8 L1455 2259.6 L1456.5 2260.1 L1458 2260.5 L1459.5 2260.5 L1461 2260.2 L1462.5 2259.7 L1464 2259 L1465.5 2258.2 L1467 2257.3 L1468.5 2256.4 L1470 2255.5 L1471.5 2254.3 L1473 2252.8 L1474.5 2251.1 L1476 2249.4 L1477.5 2247.8 L1479 2246.4 L1480.5 2245.3 L1482 2244.7 L1483.5 2244.1 L1485 2243.5 L1486.5 2243 L1488 2242.5 L1489.5 2242.2 L1491 2241.9 L1492.5 2241.8 L1494 2241.8 L1495.5 2241.9 L1497 2242.1 L1498.5 2242.4 L1500 2242.7 L1501.5 2243 L1503 2243.5 L1504.5 2243.9 L1506 2244.4 L1507.5 2244.9 L1509 2245.4 L1510.5 2245.9 L1512 2246.5 L1513.5 2247 L1515 2247.7 L1516.5 2248.4 L1518 2249.2 L1519.5 2250 L1521 2251 L1522.5 2251.9 L1524 2253 L1525.5 2254.1 L1527 2255.2 L1528.5 2256.4 L1530 2257.7 L1531.5 2259.1 L1533 2260.6 L1534.5 2262.2 L1536 2264 L1537.5 2265.9 L1539 2267.9 L1540.5 2270.1 L1542 2272.3 L1543.5 2274.7 L1545 2277.1 L1546.5 2279.7 L1548 2282.3 L1549.5 2285.3 L1551 2288.8 L1552.5 2292.7 L1554 2296.8 L1555.5 2301.1 L1557 2305.3 L1558.5 2309.3 L1560 2313 L1561.5 2316.2 L1563 2319.1 L1564.5 2321.9 L1566 2324.7 L1567.5 2327.1 L1569 2329 L1570.5 2330.3 L1572 2330.9 L1573.5 2331.3 L1575 2331.6 L1576.5 2331.9 L1578 2332.2 L1579.5 2332.6 L1581 2333.3 L1582.5 2334.5 L1584 2336 L1585.5 2337.9 L1587 2339.9 L1588.5 2342.1 L1590 2344.3 L1591.5 2346.5 L1593 2348.9 L1594.5 2351.6 L1596 2354.4 L1597.5 2357.4 L1599 2360.3 L1600.5 2363.1 L1602 2365.7 L1603.5 2368.1 L1605 2370.7 L1606.5 2373.2 L1608 2375.1 L1609.5 2375.9 L1611 2375.4 L1612.5 2373.9 L1614 2371.7 L1615.5 2368.8 L1617 2365 L1618.5 2356.8 L1620 2345.2 L1621.5 2332.4 L1623 2320.5 L1624.5 2309.8 L1626 2298.7 L1627.5 2288.1 L1629 2278.7 L1630.5 2271.5 L1632 2265.3 L1633.5 2259.6 L1635 2254.6 L1636.5 2250.1 L1638 2246.4 L1639.5 2243.3 L1641 2240.6 L1642.5 2238.1 L1644 2235.8 L1645.5 2233.8 L1647 2232 L1648.5 2230.5 L1650 2229.4 L1651.5 2228.5 L1653 2227.8 L1654.5 2227 L1656 2226.3 L1657.5 2225.7 L1659 2225.2 L1660.5 2224.7 L1662 2224.3 L1663.5 2224 L1665 2223.7 L1666.5 2223.6 L1668 2223.5 L1669.5 2223.4 L1671 2223.3 L1672.5 2223.2 L1674 2223.2 L1675.5 2223.1 L1677 2223 L1678.5 2223 L1680 2222.9 L1681.5 2222.9 L1683 2222.8 L1684.5 2222.8 L1686 2222.8 L1687.5 2222.7 L1689 2222.7 L1690.5 2222.7 L1692 2222.7 L1693.5 2222.7 L1695 2222.7 L1696.5 2222.8 L1698 2222.9 L1699.5 2223.1 L1701 2223.4 L1702.5 2223.6 L1704 2223.9 L1705.5 2224.3 L1707 2224.6 L1708.5 2225 L1710 2225.3 L1711.5 2225.7 L1713 2226.1 L1714.5 2226.4 L1716 2226.8 L1717.5 2227.1 L1719 2227.4 L1720.5 2227.6 L1722 2227.9 L1723.5 2228 L1725 2228.2 L1726.5 2228.3 L1728 2228.3 L1729.5 2228.4 L1731 2228.5 L1732.5 2228.6 L1734 2228.6 L1735.5 2228.7 L1737 2228.8 L1738.5 2228.8 L1740 2228.9 L1741.5 2229 L1743 2229 L1744.5 2229.1 L1746 2229.1 L1747.5 2229.2 L1749 2229.2 L1750.5 2229.3 L1752 2229.3 L1753.5 2229.4 L1755 2229.4 L1756.5 2229.4 L1758 2229.5 L1759.5 2229.5 L1761 2229.5 L1762.5 2229.5 L1764 2229.6 L1765.5 2229.6 L1767 2229.6 L1768.5 2229.6 L1770 2229.6 L1771.5 2229.6 L1773 2229.4 L1774.5 2228.9 L1776 2228.3 L1777.5 2227.5 L1779 2226.6 L1780.5 2225.7 L1782 2224.7 L1783.5 2223.8 L1785 2222.9 L1786.5 2222.2 L1788 2221.7 L1789.5 2221.3 L1791 2221 L1792.5 2220.8 L1794 2220.5 L1795.5 2220.2 L1797 2220 L1798.5 2219.7 L1800 2219.5 L1801.5 2219.3 L1803 2219.1 L1804.5 2218.9 L1806 2218.8 L1807.5 2218.6 L1809 2218.5 L1810.5 2218.4 L1812 2218.3 L1813.5 2218.2 L1815 2218.2 L1816.5 2218.2 L1818 2218.2 L1819.5 2218.2 L1821 2218.2 L1822.5 2218.3 L1824 2218.3 L1825.5 2218.3 L1827 2218.4 L1828.5 2218.5 L1830 2218.5 L1831.5 2218.6 L1833 2218.7 L1834.5 2218.8 L1836 2218.9 L1837.5 2219 L1839 2219.1 L1840.5 2219.4 L1842 2219.9 L1843.5 2220.7 L1845 2221.7 L1846.5 2222.8 L1848 2224.1 L1849.5 2225.4 L1851 2226.7 L1852.5 2228 L1854 2229.3 L1855.5 2230.8 L1857 2232.6 L1858.5 2234.4 L1860 2236.3 L1861.5 2238.1 L1863 2239.8 L1864.5 2241.2 L1866 2242.4 L1867.5 2243.3 L1869 2244 L1870.5 2244.6 L1872 2245.1 L1873.5 2245.6 L1875 2246.1 L1876.5 2246.7 L1878 2247.4 L1879.5 2248.3 L1881 2249.4 L1882.5 2251.1 L1884 2253.2 L1885.5 2255.7 L1887 2258.5 L1888.5 2261.4 L1890 2264.4 L1891.5 2267.3 L1893 2270.1 L1894.5 2272.8 L1896 2275.7 L1897.5 2278.6 L1899 2281.6 L1900.5 2284.7 L1902 2287.6 L1903.5 2290.4 L1905 2293 L1906.5 2295.3 L1908 2297.3 L1909.5 2299.5 L1911 2301.5 L1912.5 2303.2 L1914 2304.3 L1915.5 2304.6 L1917 2303.6 L1918.5 2301.6 L1920 2298.8 L1921.5 2295.6 L1923 2292.2 L1924.5 2288.3 L1926 2283 L1927.5 2276.8 L1929 2270.4 L1930.5 2264.1 L1932 2258.7 L1933.5 2253.9 L1935 2249 L1936.5 2244.3 L1938 2240 L1939.5 2236.5 L1941 2234 L1942.5 2232.6 L1944 2231.2 L1945.5 2230.1 L1947 2229.2 L1948.5 2228.5 L1950 2228.2 L1951.5 2228.2 L1953 2228.3 L1954.5 2228.6 L1956 2228.8 L1957.5 2229.2 L1959 2229.6 L1960.5 2230 L1962 2230.5 L1963.5 2231.2 L1965 2232.3 L1966.5 2233.6 L1968 2235.2 L1969.5 2236.9 L1971 2238.7 L1972.5 2240.6 L1974 2242.4 L1975.5 2244.1 L1977 2245.8 L1978.5 2247.4 L1980 2249.1 L1981.5 2250.8 L1983 2252.5 L1984.5 2254.3 L1986 2256.1 L1987.5 2258 L1989 2260 L1990.5 2262.1 L1992 2264.2 L1993.5 2266.5 L1995 2268.9 L1996.5 2271.5 L1998 2274.3 L1999.5 2277.3 L2001 2280.4 L2002.5 2283.5 L2004 2286.8 L2005.5 2290.1 L2007 2293.4 L2008.5 2296.9 L2010 2300.9 L2011.5 2305.1 L2013 2309.4 L2014.5 2313.8 L2016 2317.9 L2017.5 2321.7 L2019 2324.9 L2020.5 2327.5 L2022 2329.4 L2023.5 2331.2 L2025 2332.7 L2026.5 2334 L2028 2335.1 L2029.5 2336.1 L2031 2336.8 L2032.5 2337.3 L2034 2337.7 L2035.5 2338.1 L2037 2338.6 L2038.5 2339.2 L2040 2340.2 L2041.5 2342.3 L2043 2345.1 L2044.5 2348.2 L2046 2351.4 L2047.5 2354.3 L2049 2356.5 L2050.5 2358.9 L2052 2361.2 L2053.5 2363.1 L2055 2364.3 L2056.5 2364.5 L2058 2363.6 L2059.5 2361.8 L2061 2359.4 L2062.5 2356.5 L2064 2353.6 L2065.5 2350.2 L2067 2345.8 L2068.5 2340.5 L2070 2334.8 L2071.5 2328.9 L2073 2323.1 L2074.5 2317.8 L2076 2313.1 L2077.5 2308.9 L2079 2304.8 L2080.5 2301 L2082 2297.2 L2083.5 2293.4 L2085 2289.6 L2086.5 2285.7 L2088 2281.6 L2089.5 2277.3 L2091 2272.2 L2092.5 2266.5 L2094 2260.8 L2095.5 2255.5 L2097 2251.1 L2098.5 2248.3 L2100 2246.2 L2101.5 2244.6 L2103 2244.1 L2104.5 2246.8 L2106 2252.4 L2107.5 2259.5 L2109 2266.6 L2110.5 2273.1 L2112 2281.1 L2113.5 2289.1 L2115 2295.1 L2116.5 2297.3 L2118 2293.9 L2119.5 2286.6 L2121 2278.2 L2122.5 2268.5 L2124 2256.6 L2125.5 2244 L2126.5 2236" fill="none" stroke="#ff00ff" stroke-width="8.0" stroke-linejoin="round" stroke-linecap="butt"/>
<path d="M183 1983.2 L184.5 1983.5 L186 1983.8 L187.5 1984 L189 1984.3 L190.5 1984.6 L192 1984.8 L193.5 1985.1 L195 1985.4 L196.5 1985.6 L198 1985.9 L199.5 1986.2 L201 1986.4 L202.5 1986.7 L204 1987 L205.5 1987.2 L207 1987.5 L208.5 1987.8 L210 1988.1 L211.5 1988.4 L213 1988.7 L214.5 1989 L216 1989.3 L217.5 1989.7 L219 1990 L220.5 1990.4 L222 1990.7 L223.5 1991.1 L225 1991.5 L226.5 1991.8 L228 1992.1 L229.5 1992.7 L231 1993.3 L232.5 1993.2 L234 1993.7 L235.5 1994.5 L237 1993.3 L238.5 1994.1 L240 1995.9 L241.5 1994.9 L243 1995.5 L244.5 1997 L246 2001.3 L247.5 1999.1 L249 1997.9 L250.5 1997.8 L252 1999.6 L253.5 2006.2 L255 1992.7 L256.5 2002.8 L258 2002.6 L259.5 2004.8 L261 2000.1 L262.5 2009.1 L264 2006.8 L265.5 2004.6 L267 2005.7 L268.5 2004 L270 2006.5 L271.5 2006.5 L273 2009.9 L274.5 2008.9 L276 2008.4 L277.5 2010.9 L279 2011.2 L280.5 2010.9 L282 2007 L283.5 2014.3 L285 2009.2 L286.5 2010.3 L288 2013.4 L289.5 2015.7 L291 2018.9 L292.5 2011.6 L294 2020.7 L295.5 2022.1 L297 2017.6 L298.5 2019.3 L300 2019.5 L301.5 2020.7 L303 2020.2 L304.5 2020.8 L306 2026.2 L307.5 2029 L309 2034.8 L310.5 2029.2 L312 2028.2 L313.5 2035.9 L315 2036.2 L316.5 2040.2 L318 2040.2 L319.5 2039.9 L321 2043.3 L322.5 2049 L324 2049.5 L325.5 2048.1 L327 2054.8 L328.5 2050.8 L330 2055.3 L331.5 2059.4 L333 2058.4 L334.5 2061.7 L336 2067.1 L337.5 2070.2 L339 2073.6 L340.5 2078.4 L342 2084.4 L343.5 2092.2 L345 2102.4 L346.5 2107.6 L348 2115.1 L349.5 2121 L351 2127.8 L352.5 2134.5 L354 2141 L355.5 2146.7 L357 2151.4 L358.5 2154.7 L360 2157 L361.5 2159 L363 2160.8 L364.5 2162.3 L366 2163.6 L367.5 2164.7 L369 2165.6 L370.5 2166.6 L372 2167.5 L373.5 2168.4 L375 2169.1 L376.5 2169.8 L378 2170.2 L379.5 2170.5 L381 2170.5 L382.5 2170.2 L384 2169.8 L385.5 2169.1 L387 2168.3 L388.5 2167.4 L390 2166.3 L391.5 2165.2 L393 2164.1 L394.5 2162.1 L396 2159.8 L397.5 2157.9 L399 2157.2 L400.5 2156.7 L402 2156.4 L403.5 2156.1 L405 2155.9 L406.5 2155.8 L408 2155.7 L409.5 2155.8 L411 2156 L412.5 2156.5 L414 2157 L415.5 2157.7 L417 2158.4 L418.5 2159.1 L420 2159.8 L421.5 2160.5 L423 2161 L424.5 2161.3 L426 2161.5 L427.5 2161.8 L429 2162 L430.5 2162.3 L432 2162.5 L433.5 2162.7 L435 2162.9 L436.5 2163.1 L438 2163.3 L439.5 2163.5 L441 2163.6 L442.5 2163.8 L444 2163.9 L445.5 2164 L447 2164.2 L448.5 2164.2 L450 2164.3 L451.5 2164.4 L453 2164.5 L454.5 2164.5 L456 2164.5 L457.5 2164.5 L459 2164.5 L460.5 2164.5 L462 2164.4 L463.5 2164.4 L465 2164.3 L466.5 2164.3 L468 2164.2 L469.5 2164.1 L471 2164 L472.5 2164 L474 2163.9 L475.5 2163.8 L477 2163.7 L478.5 2163.7 L480 2163.6 L481.5 2163.5 L483 2163.5 L484.5 2163.4 L486 2163.4 L487.5 2163.3 L489 2163.3 L490.5 2163.2 L492 2163.1 L493.5 2163 L495 2162.9 L496.5 2162.8 L498 2162.7 L499.5 2162.5 L501 2162.1 L502.5 2161.6 L504 2160.9 L505.5 2160.1 L507 2159.2 L508.5 2158.3 L510 2157.4 L511.5 2156.4 L513 2155.2 L514.5 2153.9 L516 2152.6 L517.5 2151.1 L519 2149.6 L520.5 2148 L522 2146.4 L523.5 2144.8 L525 2143.2 L526.5 2141.4 L528 2139.6 L529.5 2137.7 L531 2135.8 L532.5 2133.8 L534 2131.9 L535.5 2129.9 L537 2127.9 L538.5 2126 L540 2124 L541.5 2122 L543 2120 L544.5 2118 L546 2116 L547.5 2113.9 L549 2111.9 L550.5 2109.9 L552 2108 L553.5 2106 L555 2104.2 L556.5 2102.3 L558 2100.4 L559.5 2098.5 L561 2096.7 L562.5 2094.9 L564 2093.1 L565.5 2091.4 L567 2089.7 L568.5 2088 L570 2086.5 L571.5 2085 L573 2083.7 L574.5 2082.4 L576 2081.1 L577.5 2079.9 L579 2078.7 L580.5 2077.6 L582 2076.4 L583.5 2075.2 L585 2073.9 L586.5 2072.6 L588 2071.2 L589.5 2069.9 L591 2068.5 L592.5 2067.1 L594 2065.6 L595.5 2064 L597 2062.2 L598.5 2060.3 L600 2058 L601.5 2055.6 L603 2052.9 L604.5 2050.1 L606 2047.2 L607.5 2044.3 L609 2041.3 L610.5 2038.1 L612 2034.8 L613.5 2031.4 L615 2027.9 L616.5 2024.4 L618 2020.9 L619.5 2017.5 L621 2014.1 L622.5 2010.7 L624 2007.2 L625.5 2003.7 L627 2000.4 L628.5 1997.1 L630 1993.8 L631.5 1990.7 L633 1987.6 L634.5 1984.6 L636 1981.6 L637.5 1978.6 L639 1975.8 L640.5 1972.9 L642 1970.2 L643.5 1967.4 L645 1964.7 L646.5 1962 L648 1959.5 L649.5 1957 L651 1954.6 L652.5 1952.4 L654 1950.2 L655.5 1948.2 L657 1946.1 L658.5 1944.1 L660 1942.2 L661.5 1940.2 L663 1938.3 L664.5 1936.3 L666 1934.3 L667.5 1932.4 L669 1930.6 L670.5 1928.8 L672 1927.1 L673.5 1925.5 L675 1924 L676.5 1922.5 L678 1921 L679.5 1919.6 L681 1918.2 L682.5 1916.9 L684 1915.6 L685.5 1914.3 L687 1913.1 L688.5 1911.9 L690 1910.8 L691.5 1909.7 L693 1908.6 L694.5 1907.6 L696 1906.6 L697.5 1905.6 L699 1904.6 L700.5 1903.7 L702 1902.8 L703.5 1901.9 L705 1901 L706.5 1900.1 L708 1899.3 L709.5 1898.5 L711 1897.6 L712.5 1896.8 L714 1896 L715.5 1895.3 L717 1894.5 L718.5 1893.8 L720 1893.1 L721.5 1892.4 L723 1891.8 L724.5 1891.2 L726 1890.6 L727.5 1890 L729 1889.5 L730.5 1889 L732 1888.4 L733.5 1888 L735 1887.5 L736.5 1887 L738 1886.6 L739.5 1886.1 L741 1885.7 L742.5 1885.3 L744 1884.9 L745.5 1884.5 L747 1884.1 L748.5 1883.7 L750 1883.4 L751.5 1883 L753 1882.6 L754.5 1882.3 L756 1882 L757.5 1881.6 L759 1881.3 L760.5 1881 L762 1880.7 L763.5 1880.4 L765 1880.1 L766.5 1879.8 L768 1879.6 L769.5 1879.3 L771 1879 L772.5 1878.7 L774 1878.4 L775.5 1878.2 L777 1877.9 L778.5 1877.6 L780 1877.4 L781.5 1877.2 L783 1877 L784.5 1876.9 L786 1876.8 L787.5 1876.8 L789 1877 L790.5 1877.3 L792 1877.8 L793.5 1878.3 L795 1878.9 L796.5 1879.5 L798 1880 L799.5 1880.4 L801 1880.6 L802.5 1880.5 L804 1880.1 L805.5 1879.3 L807 1878.4 L808.5 1877.5 L810 1876.9 L811.5 1876.8 L813 1876.8 L814.5 1876.8 L816 1876.8 L817.5 1876.8 L819 1876.8 L820.5 1876.8 L822 1876.8 L823.5 1876.8 L825 1876.8 L826.5 1876.8 L828 1876.8 L829.5 1876.8 L831 1876.9 L832.5 1877.1 L834 1877.4 L835.5 1877.9 L837 1878.4 L838.5 1879 L840 1879.6 L841.5 1880.2 L843 1880.8 L844.5 1881.3 L846 1881.7 L847.5 1882 L849 1882.2 L850.5 1882.1 L852 1881.7 L853.5 1880.8 L855 1879.7 L856.5 1878.3 L858 1876.8 L859.5 1875.4 L861 1874 L862.5 1872.7 L864 1871.7 L865.5 1871.1 L867 1870.4 L868.5 1869.8 L870 1869.2 L871.5 1868.7 L873 1868.2 L874.5 1867.7 L876 1867.3 L877.5 1866.9 L879 1866.6 L880.5 1866.3 L882 1866.1 L883.5 1865.8 L885 1865.6 L886.5 1865.3 L888 1865.1 L889.5 1864.9 L891 1864.7 L892.5 1864.5 L894 1864.3 L895.5 1864.1 L897 1864 L898.5 1863.8 L900 1863.7 L901.5 1863.5 L903 1863.4 L904.5 1863.3 L906 1863.2 L907.5 1863.1 L909 1863 L910.5 1863 L912 1862.9 L913.5 1862.9 L915 1862.8 L916.5 1862.8 L918 1862.7 L919.5 1862.7 L921 1862.6 L922.5 1862.6 L924 1862.6 L925.5 1862.6 L927 1862.5 L928.5 1862.5 L930 1862.5 L931.5 1862.5 L933 1862.5 L934.5 1862.6 L936 1862.7 L937.5 1862.8 L939 1862.9 L940.5 1863.1 L942 1863.3 L943.5 1863.5 L945 1863.8 L946.5 1864 L948 1864.3 L949.5 1864.5 L951 1864.7 L952.5 1865 L954 1865.2 L955.5 1865.4 L957 1865.7 L958.5 1865.9 L960 1866.1 L961.5 1866.4 L963 1866.7 L964.5 1867 L966 1867.3 L967.5 1867.7 L969 1868 L970.5 1868.5 L972 1868.9 L973.5 1869.4 L975 1870.1 L976.5 1870.8 L978 1871.7 L979.5 1872.7 L981 1873.7 L982.5 1874.8 L984 1876 L985.5 1877.2 L987 1878.4 L988.5 1879.8 L990 1881.3 L991.5 1883.1 L993 1885 L994.5 1887.1 L996 1889.1 L997.5 1891.1 L999 1893 L1000.5 1894.6 L1002 1896.3 L1003.5 1898.1 L1005 1899.8 L1006.5 1901.4 L1008 1902.9 L1009.5 1904.2 L1011 1905.3 L1012.5 1906.1 L1014 1906.7 L1015.5 1907.3 L1017 1907.8 L1018.5 1908.3 L1020 1908.8 L1021.5 1909.2 L1023 1909.5 L1024.5 1909.8 L1026 1910 L1027.5 1910.1 L1029 1910.1 L1030.5 1910.1 L1032 1910.1 L1033.5 1910.1 L1035 1910.1 L1036.5 1910.1 L1038 1910.1 L1039.5 1910.5 L1041 1912.3 L1042.5 1914.9 L1044 1917.6 L1045.5 1919.6 L1047 1920 L1048.5 1918.5 L1050 1915.8 L1051.5 1912.6 L1053 1910.1 L1054.5 1908.9 L1056 1910.3 L1057.5 1914.2 L1059 1919.2 L1060.5 1923.8 L1062 1928.4 L1063.5 1933.7 L1065 1938.1 L1066.5 1940.1 L1068 1939.7 L1069.5 1938.5 L1071 1936.7 L1072.5 1930.2 L1074 1916.1 L1075.5 1908.9 L1077 1911.4 L1078.5 1916.1 L1080 1919.7 L1081.5 1920 L1083 1919.4 L1084.5 1918.4 L1086 1917 L1087.5 1915.5 L1089 1913.8 L1090.5 1912.2 L1092 1910.3 L1093.5 1907.8 L1095 1905.1 L1096.5 1902.2 L1098 1899.6 L1099.5 1897.4 L1101 1895.8 L1102.5 1894.6 L1104 1893.3 L1105.5 1892.3 L1107 1891.6 L1108.5 1891.3 L1110 1891.4 L1111.5 1891.6 L1113 1891.9 L1114.5 1892.3 L1116 1892.7 L1117.5 1893.2 L1119 1893.6 L1120.5 1894.1 L1122 1894.4 L1123.5 1894.8 L1125 1895.1 L1126.5 1895.5 L1128 1895.8 L1129.5 1896.1 L1131 1896.5 L1132.5 1896.8 L1134 1897.2 L1135.5 1897.5 L1137 1897.8 L1138.5 1898.2 L1140 1898.5 L1141.5 1898.9 L1143 1899.2 L1144.5 1899.6 L1146 1900 L1147.5 1900.3 L1149 1900.7 L1150.5 1901.1 L1152 1901.5 L1153.5 1901.9 L1155 1902.4 L1156.5 1902.8 L1158 1903.3 L1159.5 1903.7 L1161 1904.2 L1162.5 1904.7 L1164 1905.2 L1165.5 1905.8 L1167 1906.4 L1168.5 1907 L1170 1907.6 L1171.5 1908.3 L1173 1908.9 L1174.5 1909.6 L1176 1910.3 L1177.5 1911 L1179 1911.6 L1180.5 1912.3 L1182 1913 L1183.5 1913.8 L1185 1914.5 L1186.5 1915.3 L1188 1916.1 L1189.5 1916.9 L1191 1917.7 L1192.5 1918.5 L1194 1919.3 L1195.5 1920 L1197 1920.7 L1198.5 1921.4 L1200 1922.1 L1201.5 1922.8 L1203 1923.5 L1204.5 1924.2 L1206 1924.9 L1207.5 1925.6 L1209 1926.2 L1210.5 1926.8 L1212 1927.3 L1213.5 1927.7 L1215 1928 L1216.5 1928.1 L1218 1928.3 L1219.5 1928.4 L1221 1928.5 L1222.5 1928.6 L1224 1928.7 L1225.5 1928.7 L1227 1928.8 L1228.5 1928.9 L1230 1928.9 L1231.5 1928.9 L1233 1928.9 L1234.5 1928.8 L1236 1928.7 L1237.5 1928.6 L1239 1928.5 L1240.5 1928.3 L1242 1928 L1243.5 1928.1 L1245 1927.4 L1246.5 1927.4 L1248 1927.1 L1249.5 1927.6 L1251 1926.2 L1252.5 1926.7 L1254 1927.1 L1255.5 1927.3 L1257 1926.3 L1258.5 1926.9 L1260 1925.5 L1261.5 1928.1 L1263 1926.7 L1264.5 1927 L1266 1928 L1267.5 1926.5 L1269 1926.3 L1270.5 1927 L1272 1927.6 L1273.5 1924.8 L1275 1924.5 L1276.5 1926.8 L1278 1926 L1279.5 1926.2 L1281 1928.2 L1282.5 1926.1 L1284 1926.3 L1285.5 1927.8 L1287 1925.9 L1288.5 1927.2 L1290 1927.1 L1291.5 1927.8 L1293 1928.2 L1294.5 1927.2 L1296 1928.3 L1297.5 1928.5 L1299 1928.2 L1300.5 1930.4 L1302 1929.8 L1303.5 1929.7 L1305 1929.7 L1306.5 1931.2 L1308 1930.9 L1309.5 1932.9 L1311 1933.8 L1312.5 1932.8 L1314 1933 L1315.5 1933.7 L1317 1935.3 L1318.5 1934.3 L1320 1936.1 L1321.5 1935.4 L1323 1934.2 L1324.5 1938.8 L1326 1938.5 L1327.5 1938 L1329 1939 L1330.5 1939.6 L1332 1941.8 L1333.5 1940.4 L1335 1941.8 L1336.5 1942 L1338 1942.4 L1339.5 1944.3 L1341 1945.2 L1342.5 1945.1 L1344 1949 L1345.5 1944.7 L1347 1950.1 L1348.5 1948.5 L1350 1950 L1351.5 1952.5 L1353 1954 L1354.5 1955.5 L1356 1953.9 L1357.5 1958.7 L1359 1956.9 L1360.5 1959.7 L1362 1962.3 L1363.5 1962.9 L1365 1964.8 L1366.5 1968 L1368 1970.3 L1369.5 1973.1 L1371 1979.8 L1372.5 1984.6 L1374 1989 L1375.5 1995.1 L1377 1995.9 L1378.5 1993 L1380 1991.6 L1381.5 1991.3 L1383 1990.1 L1384.5 1994.7 L1386 1997.1 L1387.5 2004.4 L1389 2010.7 L1390.5 2002.6 L1392 1993.4 L1393.5 1992.4 L1395 1988.1 L1396.5 1986.4 L1398 1985.6 L1399.5 1989.5 L1401 1988.7 L1402.5 1992.7 L1404 1992.5 L1405.5 1995 L1407 1992.9 L1408.5 1998 L1410 1998.9 L1411.5 2000.9 L1413 2004.4 L1414.5 2009.7 L1416 2009.8 L1417.5 2012.1 L1419 2017.1 L1420.5 2019.5 L1422 2023.5 L1423.5 2027.8 L1425 2031.4 L1426.5 2035.2 L1428 2039.1 L1429.5 2043 L1431 2046.9 L1432.5 2051.2 L1434 2055.5 L1435.5 2060.2 L1437 2064.8 L1438.5 2069.7 L1440 2074.5 L1441.5 2077.4 L1443 2081.6 L1444.5 2085.9 L1446 2090.9 L1447.5 2092.9 L1449 2094.4 L1450.5 2102.9 L1452 2102.9 L1453.5 2107.7 L1455 2110.2 L1456.5 2114.1 L1458 2111.3 L1459.5 2116.5 L1461 2111.6 L1462.5 2110.2 L1464 2102.6 L1465.5 2102.1 L1467 2092.1 L1468.5 2086.5 L1470 2080.7 L1471.5 2072.2 L1473 2073.4 L1474.5 2063 L1476 2061.1 L1477.5 2058.7 L1479 2056.2 L1480.5 2052.8 L1482 2049.8 L1483.5 2050.5 L1485 2048.5 L1486.5 2045.9 L1488 2047.4 L1489.5 2050.9 L1491 2052.7 L1492.5 2048.7 L1494 2054.8 L1495.5 2055.5 L1497 2059 L1498.5 2059.4 L1500 2060.9 L1501.5 2064.9 L1503 2067.5 L1504.5 2069.9 L1506 2070.5 L1507.5 2073.8 L1509 2078.4 L1510.5 2077.8 L1512 2079.3 L1513.5 2083.7 L1515 2084 L1516.5 2089.7 L1518 2089.5 L1519.5 2093.1 L1521 2098.2 L1522.5 2097.7 L1524 2101.4 L1525.5 2105.4 L1527 2108.1 L1528.5 2108 L1530 2114.6 L1531.5 2115.5 L1533 2118.6 L1534.5 2122.2 L1536 2124.9 L1537.5 2126.6 L1539 2130.1 L1540.5 2131.6 L1542 2131.9 L1543.5 2134.6 L1545 2137.9 L1546.5 2140.6 L1548 2144.1 L1549.5 2145.6 L1551 2150.9 L1552.5 2154.8 L1554 2158.1 L1555.5 2160.8 L1557 2163 L1558.5 2165.3 L1560 2166.5 L1561.5 2167.8 L1563 2169 L1564.5 2170 L1566 2170.8 L1567.5 2171.5 L1569 2172.1 L1570.5 2172.6 L1572 2173.1 L1573.5 2173.5 L1575 2173.9 L1576.5 2174.2 L1578 2174.4 L1579.5 2174.5 L1581 2174.4 L1582.5 2174 L1584 2173.5 L1585.5 2173 L1587 2172.6 L1588.5 2172.5 L1590 2172.7 L1591.5 2173.1 L1593 2173.7 L1594.5 2174.3 L1596 2175 L1597.5 2175.6 L1599 2176.2 L1600.5 2176.6 L1602 2177.1 L1603.5 2177.6 L1605 2178 L1606.5 2178.4 L1608 2178.8 L1609.5 2179.1 L1611 2179.3 L1612.5 2179.3 L1614 2178.8 L1615.5 2177.9 L1617 2176.6 L1618.5 2175 L1620 2173.2 L1621.5 2171.2 L1623 2169 L1624.5 2166 L1626 2162.3 L1627.5 2157.8 L1629 2152.4 L1630.5 2146 L1632 2136.2 L1633.5 2123.5 L1635 2109.5 L1636.5 2095.8 L1638 2081 L1639.5 2065.4 L1641 2050 L1642.5 2035.6 L1644 2021.5 L1645.5 2007.9 L1647 1995.5 L1648.5 1984.8 L1650 1974.8 L1651.5 1965.3 L1653 1956.8 L1654.5 1949.7 L1656 1944.2 L1657.5 1939.9 L1659 1936.1 L1660.5 1932.8 L1662 1929.8 L1663.5 1927.3 L1665 1925.3 L1666.5 1923.6 L1668 1922 L1669.5 1920.5 L1671 1919.2 L1672.5 1918.1 L1674 1917.3 L1675.5 1916.9 L1677 1916.9 L1678.5 1916.9 L1680 1916.9 L1681.5 1916.9 L1683 1917 L1684.5 1917 L1686 1917.1 L1687.5 1917.1 L1689 1917.2 L1690.5 1917.2 L1692 1917.3 L1693.5 1917.5 L1695 1918 L1696.5 1918.7 L1698 1919.7 L1699.5 1920.8 L1701 1922 L1702.5 1923.3 L1704 1924.6 L1705.5 1925.9 L1707 1927.3 L1708.5 1928.5 L1710 1929.8 L1711.5 1931.3 L1713 1932.7 L1714.5 1934.3 L1716 1935.9 L1717.5 1937.6 L1719 1939.3 L1720.5 1941 L1722 1942.8 L1723.5 1944.5 L1725 1946.2 L1726.5 1948 L1728 1949.6 L1729.5 1951.3 L1731 1952.9 L1732.5 1954.5 L1734 1956.1 L1735.5 1957.7 L1737 1959.4 L1738.5 1961 L1740 1962.7 L1741.5 1964.4 L1743 1966.1 L1744.5 1967.9 L1746 1969.8 L1747.5 1971.7 L1749 1973.6 L1750.5 1975.6 L1752 1977.5 L1753.5 1979.4 L1755 1981.3 L1756.5 1983.4 L1758 1985.5 L1759.5 1987.9 L1761 1990.6 L1762.5 1993.6 L1764 1997 L1765.5 2001.2 L1767 2007.1 L1768.5 2014.3 L1770 2022.1 L1771.5 2032.7 L1773 2041.4 L1774.5 2041.4 L1776 2040.7 L1777.5 2036.4 L1779 2018.5 L1780.5 2017 L1782 2017 L1783.5 2017 L1785 2017 L1786.5 2017.6 L1788 2018.8 L1789.5 2020.6 L1791 2022.8 L1792.5 2025.2 L1794 2027.8 L1795.5 2030.5 L1797 2033 L1798.5 2035.4 L1800 2037.6 L1801.5 2040 L1803 2042.3 L1804.5 2044.8 L1806 2047.3 L1807.5 2049.8 L1809 2052.4 L1810.5 2055 L1812 2057.6 L1813.5 2060.2 L1815 2062.9 L1816.5 2065.5 L1818 2068.1 L1819.5 2070.8 L1821 2073.6 L1822.5 2076.3 L1824 2079.1 L1825.5 2081.9 L1827 2084.7 L1828.5 2087.5 L1830 2090.3 L1831.5 2093 L1833 2095.7 L1834.5 2098.4 L1836 2101 L1837.5 2103.7 L1839 2106.3 L1840.5 2108.9 L1842 2111.6 L1843.5 2114.1 L1845 2116.7 L1846.5 2119.2 L1848 2121.7 L1849.5 2124.1 L1851 2126.5 L1852.5 2128.8 L1854 2130.9 L1855.5 2133.1 L1857 2135.2 L1858.5 2137.2 L1860 2139.2 L1861.5 2141.2 L1863 2143.1 L1864.5 2145 L1866 2146.8 L1867.5 2148.6 L1869 2150.3 L1870.5 2152 L1872 2153.6 L1873.5 2155.1 L1875 2156.7 L1876.5 2158.2 L1878 2159.8 L1879.5 2161.3 L1881 2162.7 L1882.5 2164.1 L1884 2165.4 L1885.5 2166.7 L1887 2167.8 L1888.5 2168.8 L1890 2169.8 L1891.5 2170.6 L1893 2171.4 L1894.5 2172.2 L1896 2173 L1897.5 2173.7 L1899 2174.4 L1900.5 2175 L1902 2175.5 L1903.5 2175.8 L1905 2176 L1906.5 2176.1 L1908 2176.1 L1909.5 2176 L1911 2176 L1912.5 2175.9 L1914 2175.8 L1915.5 2175.7 L1917 2175.6 L1918.5 2175.4 L1920 2175 L1921.5 2174.1 L1923 2172.9 L1924.5 2171.4 L1926 2169.7 L1927.5 2167.9 L1929 2165.9 L1930.5 2163.1 L1932 2159.8 L1933.5 2156.3 L1935 2152.8 L1936.5 2149.6 L1938 2146.9 L1939.5 2144.8 L1941 2142.6 L1942.5 2140.6 L1944 2139.1 L1945.5 2138.5 L1947 2139.2 L1948.5 2141.1 L1950 2143.5 L1951.5 2145.8 L1953 2147.4 L1954.5 2147.7 L1956 2147.7 L1957.5 2147.7 L1959 2147.7 L1960.5 2147.7 L1962 2148.3 L1963.5 2149.4 L1965 2150.9 L1966.5 2152.6 L1968 2154.3 L1969.5 2155.9 L1971 2157.2 L1972.5 2158.3 L1974 2159.4 L1975.5 2160.5 L1977 2161.6 L1978.5 2162.7 L1980 2163.8 L1981.5 2164.8 L1983 2165.8 L1984.5 2166.7 L1986 2167.6 L1987.5 2168.4 L1989 2169.2 L1990.5 2169.9 L1992 2170.6 L1993.5 2171.3 L1995 2172 L1996.5 2172.6 L1998 2173.2 L1999.5 2173.8 L2001 2174.4 L2002.5 2174.9 L2004 2175.3 L2005.5 2175.7 L2007 2176 L2008.5 2176.2 L2010 2176.4 L2011.5 2176.7 L2013 2176.9 L2014.5 2177 L2016 2177.2 L2017.5 2177.3 L2019 2177.5 L2020.5 2177.5 L2022 2177.6 L2023.5 2177.6 L2025 2177.6 L2026.5 2177.6 L2028 2177.6 L2029.5 2177.6 L2031 2177.6 L2032.5 2177.6 L2034 2177.6 L2035.5 2177.6 L2037 2177.6 L2038.5 2177.6 L2040 2177.6 L2041.5 2177.6 L2043 2177.6 L2044.5 2177.6 L2046 2177.6 L2047.5 2177.6 L2049 2177.6 L2050.5 2177.6 L2052 2177.6 L2053.5 2177.6 L2055 2177.6 L2056.5 2177.6 L2058 2177.6 L2059.5 2177.6 L2061 2177.6 L2062.5 2177.6 L2064 2177.6 L2065.5 2177.6 L2067 2177.6 L2068.5 2177.6 L2070 2177.6 L2071.5 2177.5 L2073 2177.3 L2074.5 2177 L2076 2176.7 L2077.5 2176.2 L2079 2175.8 L2080.5 2175.3 L2082 2174.8 L2083.5 2174.3 L2085 2173.8 L2086.5 2173.1 L2088 2172.2 L2089.5 2171.2 L2091 2170.2 L2092.5 2169.2 L2094 2168.4 L2095.5 2167.9 L2097 2167.7 L2098.5 2168.2 L2100 2169.3 L2101.5 2170.8 L2103 2172.3 L2104.5 2173.9 L2106 2175.9 L2107.5 2177.6 L2109 2178.5 L2110.5 2178.2 L2112 2177.2 L2113.5 2176.1 L2115 2175.4 L2116.5 2175.4 L2118 2175.4 L2119.5 2175.4 L2121 2175.4 L2122.5 2175.4 L2124 2175.4 L2125.5 2175.4 L2126.5 2175.4" fill="none" stroke="#008000" stroke-width="8.0" stroke-linejoin="round" stroke-linecap="butt"/>
<path d="M183 3284.8 V3313.6 M452.8 3284.8 V3313.6 M722.7 3284.8 V3313.6 M992.5 3284.8 V3313.6 M1262.4 3284.8 V3313.6 M1532.2 3284.8 V3313.6 M1802.1 3284.8 V3313.6 M2071.9 3284.8 V3313.6 M317.9 3284.8 V3299.6 M587.8 3284.8 V3299.6 M857.6 3284.8 V3299.6 M1127.5 3284.8 V3299.6 M1397.3 3284.8 V3299.6 M1667.2 3284.8 V3299.6 M1937 3284.8 V3299.6" stroke="#000" stroke-width="5" fill="none"/>
<text transform="translate(183 3386.5) scale(1 1.04)" font-size="72" text-anchor="middle">4000</text>
<text transform="translate(452.8 3386.5) scale(1 1.04)" font-size="72" text-anchor="middle">3500</text>
<text transform="translate(722.7 3386.5) scale(1 1.04)" font-size="72" text-anchor="middle">3000</text>
<text transform="translate(992.5 3386.5) scale(1 1.04)" font-size="72" text-anchor="middle">2500</text>
<text transform="translate(1262.4 3386.5) scale(1 1.04)" font-size="72" text-anchor="middle">2000</text>
<text transform="translate(1532.2 3386.5) scale(1 1.04)" font-size="72" text-anchor="middle">1500</text>
<text transform="translate(1802.1 3386.5) scale(1 1.04)" font-size="72" text-anchor="middle">1000</text>
<text transform="translate(2071.5 3386.5) scale(1 1.04)" font-size="72" text-anchor="middle">500</text>
<text transform="translate(721.4 1988.2) scale(1 1.04)" font-size="72" text-anchor="start">CAL-120</text>
<text transform="translate(726.5 2327.3) scale(1 1.04)" font-size="72" text-anchor="start">CAL-100</text>
<text transform="translate(762.8 2520.3) scale(1 1.04)" font-size="72" text-anchor="start">CAL-80</text>
<text transform="translate(770.9 2736.2) scale(1 1.04)" font-size="72" text-anchor="start">CAL-70</text>
<text transform="translate(775.8 2948.2) scale(1 1.04)" font-size="72" text-anchor="start">CAL-60</text>
<text transform="translate(2017.2 1916.7) scale(1 1.0)" font-size="72" text-anchor="start">(b)</text>
<text transform="translate(294.6 3274.5) scale(1 1.04)" font-size="57.5" text-anchor="start">3636</text>
<text transform="translate(428.8 3258.7) scale(1 1.04)" font-size="57.5" text-anchor="start">3472</text>
<text transform="translate(1392.2 3143.7) scale(1 1.04)" font-size="57.5" text-anchor="start">1638</text>
<text transform="translate(1644.5 3163.7) scale(1 1.04)" font-size="57.5" text-anchor="start">1353</text>
<text transform="translate(1382.2 3262.6) scale(1 1.04)" font-size="57.5" text-anchor="start">1430</text>
<text transform="translate(1868.2 3272.4) scale(1 1.04)" font-size="57.5" text-anchor="start">791</text>
<text transform="translate(2010.4 3278.5) scale(1 1.04)" font-size="57.5" text-anchor="start">530</text>
<text transform="translate(843.6 3499.6) scale(1 1.02)" font-size="72">Wavenumber (cm<tspan font-size="42" dy="-35">-1</tspan><tspan dy="35">)</tspan></text>
<text transform="translate(103 2845) rotate(-90) scale(1 1.02)" font-size="72">Transmittance (%)</text>
<line x1="1558.5" y1="3213.7" x2="1538.4" y2="3222.9" stroke="#000" stroke-width="3"/>
<polygon points="1508.4,3236.6 1536.5,3213.9 1544,3230.2" fill="#000"/>
<line x1="1622.6" y1="3232.6" x2="1654.7" y2="3202.3" stroke="#000" stroke-width="3"/>
<polygon points="1678.7,3179.7 1659.4,3210.3 1647.1,3197.2" fill="#000"/>
</g>
</svg>
</body>
</html>
